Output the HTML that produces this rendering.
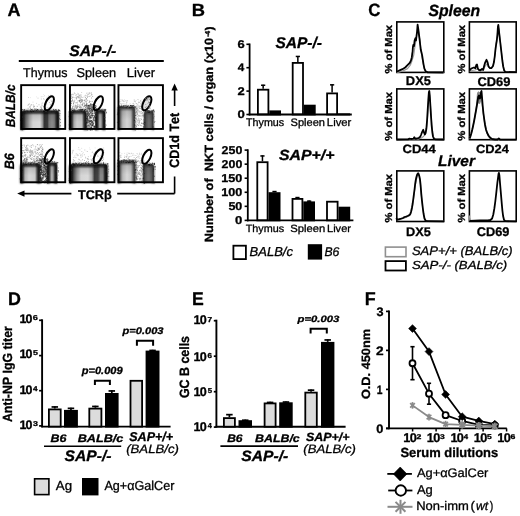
<!DOCTYPE html>
<html><head><meta charset="utf-8"><style>
html,body{margin:0;padding:0;background:#fff;}
svg{display:block;filter:blur(0.35px);font-family:"Liberation Sans",sans-serif;font-kerning:none;text-rendering:geometricPrecision;}
text{font-kerning:none;}
</style></head><body>
<svg width="520" height="516" viewBox="0 0 520 516">
<rect width="520" height="516" fill="#fff"/>
<text id="t0" x="7.55" y="15.90" font-size="18.02" font-weight="bold" stroke="#000" stroke-width="0.3" stroke-linejoin="round"  fill="#000" textLength="13.02" lengthAdjust="spacingAndGlyphs">A</text>
<text id="t1" x="69.21" y="55.50" font-size="15.26" font-weight="bold" stroke="#000" stroke-width="0.3" stroke-linejoin="round" font-style="italic" fill="#000" textLength="47.04" lengthAdjust="spacingAndGlyphs">SAP-/-</text>
<line x1="18.8" y1="61" x2="163.8" y2="61" stroke="#000" stroke-width="2.1" stroke-linecap="butt"/>
<text id="t2" x="23.12" y="77.00" font-size="12.79"  stroke="#000" stroke-width="0.3" stroke-linejoin="round"  fill="#000" textLength="44.33" lengthAdjust="spacingAndGlyphs">Thymus</text>
<text id="t3" x="76.52" y="77.00" font-size="12.79"  stroke="#000" stroke-width="0.3" stroke-linejoin="round"  fill="#000" textLength="39.71" lengthAdjust="spacingAndGlyphs">Spleen</text>
<text id="t4" x="126.73" y="77.00" font-size="12.79"  stroke="#000" stroke-width="0.3" stroke-linejoin="round"  fill="#000" textLength="28.39" lengthAdjust="spacingAndGlyphs">Liver</text>
<text id="t5" transform="translate(14.50,127.10) rotate(-90)" x="-0.21" y="0" font-size="13.37" font-weight="bold" stroke="#000" stroke-width="0.3" stroke-linejoin="round" font-style="italic" fill="#000" textLength="42.78" lengthAdjust="spacingAndGlyphs">BALB/c</text>
<text id="t6" transform="translate(14.40,169.10) rotate(-90)" x="-0.22" y="0" font-size="13.52" font-weight="bold" stroke="#000" stroke-width="0.3" stroke-linejoin="round" font-style="italic" fill="#000" textLength="16.05" lengthAdjust="spacingAndGlyphs">B6</text>
<text id="t7" x="77.96" y="198.50" font-size="12.65" font-weight="bold" stroke="#000" stroke-width="0.3" stroke-linejoin="round"  fill="#000" textLength="33.67" lengthAdjust="spacingAndGlyphs">TCRβ</text>
<text id="t8" transform="translate(179.40,167.30) rotate(-90)" x="-0.51" y="0" font-size="13.52" font-weight="bold" stroke="#000" stroke-width="0.3" stroke-linejoin="round"  fill="#000" textLength="54.97" lengthAdjust="spacingAndGlyphs">CD1d Tet</text>
<line x1="71.4" y1="193.6" x2="22" y2="193.6" stroke="#000" stroke-width="1.6" stroke-linecap="butt"/>
<polygon points="17.2,193.6 24.5,190.4 24.5,196.8" fill="#000"/>
<line x1="117.2" y1="193.6" x2="174.6" y2="193.6" stroke="#000" stroke-width="1.6" stroke-linecap="butt"/>
<line x1="174.6" y1="193.6" x2="174.6" y2="176.5" stroke="#000" stroke-width="1.6" stroke-linecap="butt"/>
<line x1="174.6" y1="106" x2="174.6" y2="88" stroke="#000" stroke-width="1.6" stroke-linecap="butt"/>
<polygon points="174.6,83.5 171.4,90.5 177.8,90.5" fill="#000"/>
<defs>
<filter id="blur06" x="-20%" y="-20%" width="140%" height="140%"><feGaussianBlur stdDeviation="0.6"/></filter>
<filter id="blur04" x="-20%" y="-20%" width="140%" height="140%"><feGaussianBlur stdDeviation="0.4"/></filter>
<filter id="blur08" x="-20%" y="-20%" width="140%" height="140%"><feGaussianBlur stdDeviation="0.8"/></filter>
<filter id="blur1" x="-20%" y="-20%" width="140%" height="140%"><feGaussianBlur stdDeviation="1"/></filter>
<linearGradient id="vtop" x1="0" x2="0" y1="0" y2="1"><stop offset="0" stop-color="#000" stop-opacity="0.45"/><stop offset="0.22" stop-color="#000" stop-opacity="0.12"/><stop offset="0.6" stop-color="#000" stop-opacity="0"/><stop offset="0.92" stop-color="#000" stop-opacity="0.0"/><stop offset="1" stop-color="#000" stop-opacity="0.25"/></linearGradient>
</defs>
<rect x="20.20" y="84.20" width="46.00" height="45.70" fill="#fff" stroke="none"/>
<rect x="35.1" y="109.5" width="0.8" height="0.8" fill="#949494" opacity="0.9"/>
<rect x="28.8" y="103.4" width="0.8" height="0.8" fill="#a1a1a1" opacity="0.9"/>
<rect x="28.4" y="104.0" width="0.8" height="0.8" fill="#8e8e8e" opacity="0.9"/>
<rect x="37.8" y="110.5" width="0.8" height="0.8" fill="#747474" opacity="0.9"/>
<rect x="37.6" y="97.7" width="0.8" height="0.8" fill="#aeaeae" opacity="0.9"/>
<rect x="32.6" y="101.7" width="0.8" height="0.8" fill="#c6c6c6" opacity="0.9"/>
<rect x="41.4" y="105.9" width="0.8" height="0.8" fill="#b5b5b5" opacity="0.9"/>
<rect x="28.2" y="97.1" width="0.8" height="0.8" fill="#b9b9b9" opacity="0.9"/>
<rect x="30.6" y="109.9" width="0.8" height="0.8" fill="#828282" opacity="0.9"/>
<rect x="47.4" y="109.2" width="0.8" height="0.8" fill="#939393" opacity="0.9"/>
<rect x="43.0" y="106.3" width="0.8" height="0.8" fill="#9e9e9e" opacity="0.9"/>
<rect x="28.6" y="110.6" width="0.8" height="0.8" fill="#7a7a7a" opacity="0.9"/>
<rect x="44.0" y="105.4" width="0.8" height="0.8" fill="#969696" opacity="0.9"/>
<rect x="41.6" y="104.9" width="0.8" height="0.8" fill="#979797" opacity="0.9"/>
<rect x="46.9" y="100.3" width="0.8" height="0.8" fill="#a9a9a9" opacity="0.9"/>
<rect x="41.4" y="103.6" width="0.8" height="0.8" fill="#bababa" opacity="0.9"/>
<rect x="45.2" y="107.6" width="0.8" height="0.8" fill="#adadad" opacity="0.9"/>
<rect x="30.0" y="105.5" width="0.8" height="0.8" fill="#ababab" opacity="0.9"/>
<rect x="30.8" y="104.3" width="0.8" height="0.8" fill="#8d8d8d" opacity="0.9"/>
<rect x="43.7" y="99.0" width="0.8" height="0.8" fill="#bfbfbf" opacity="0.9"/>
<rect x="48.9" y="107.2" width="0.8" height="0.8" fill="#a1a1a1" opacity="0.9"/>
<rect x="41.9" y="102.6" width="0.8" height="0.8" fill="#a9a9a9" opacity="0.9"/>
<rect x="48.0" y="95.2" width="0.8" height="0.8" fill="#cbcbcb" opacity="0.9"/>
<rect x="43.6" y="110.6" width="0.8" height="0.8" fill="#939393" opacity="0.9"/>
<rect x="43.2" y="94.2" width="0.8" height="0.8" fill="#e1e1e1" opacity="0.9"/>
<rect x="34.1" y="106.1" width="0.8" height="0.8" fill="#a5a5a5" opacity="0.9"/>
<rect x="27.6" y="104.8" width="0.8" height="0.8" fill="#919191" opacity="0.9"/>
<rect x="29.9" y="110.6" width="0.8" height="0.8" fill="#969696" opacity="0.9"/>
<rect x="30.2" y="108.2" width="0.8" height="0.8" fill="#8d8d8d" opacity="0.9"/>
<rect x="48.8" y="110.4" width="0.8" height="0.8" fill="#878787" opacity="0.9"/>
<rect x="40.7" y="96.5" width="0.8" height="0.8" fill="#d6d6d6" opacity="0.9"/>
<rect x="48.6" y="107.8" width="0.8" height="0.8" fill="#909090" opacity="0.9"/>
<rect x="36.0" y="96.5" width="0.8" height="0.8" fill="#dddddd" opacity="0.9"/>
<rect x="30.8" y="109.2" width="0.8" height="0.8" fill="#818181" opacity="0.9"/>
<rect x="32.8" y="104.4" width="0.8" height="0.8" fill="#a8a8a8" opacity="0.9"/>
<rect x="33.6" y="111.0" width="0.8" height="0.8" fill="#838383" opacity="0.9"/>
<rect x="36.2" y="102.9" width="0.8" height="0.8" fill="#c1c1c1" opacity="0.9"/>
<rect x="44.3" y="103.8" width="0.8" height="0.8" fill="#acacac" opacity="0.9"/>
<rect x="43.9" y="110.6" width="0.8" height="0.8" fill="#9c9c9c" opacity="0.9"/>
<rect x="46.5" y="96.7" width="0.8" height="0.8" fill="#d4d4d4" opacity="0.9"/>
<rect x="36.8" y="105.9" width="0.8" height="0.8" fill="#898989" opacity="0.9"/>
<rect x="42.9" y="110.5" width="0.8" height="0.8" fill="#737373" opacity="0.9"/>
<rect x="32.2" y="109.4" width="0.8" height="0.8" fill="#868686" opacity="0.9"/>
<rect x="28.3" y="111.0" width="0.8" height="0.8" fill="#757575" opacity="0.9"/>
<rect x="29.5" y="106.4" width="0.8" height="0.8" fill="#838383" opacity="0.9"/>
<rect x="48.9" y="102.0" width="0.8" height="0.8" fill="#9d9d9d" opacity="0.9"/>
<rect x="33.3" y="106.7" width="0.8" height="0.8" fill="#939393" opacity="0.9"/>
<rect x="30.1" y="97.3" width="0.8" height="0.8" fill="#dcdcdc" opacity="0.9"/>
<rect x="38.6" y="104.4" width="0.8" height="0.8" fill="#8f8f8f" opacity="0.9"/>
<rect x="29.6" y="106.8" width="0.8" height="0.8" fill="#8d8d8d" opacity="0.9"/>
<rect x="47.7" y="109.4" width="0.8" height="0.8" fill="#767676" opacity="0.9"/>
<rect x="50.8" y="103.6" width="0.8" height="0.8" fill="#969696" opacity="0.9"/>
<rect x="40.6" y="110.8" width="0.8" height="0.8" fill="#898989" opacity="0.9"/>
<rect x="51.5" y="97.0" width="0.8" height="0.8" fill="#cecece" opacity="0.9"/>
<rect x="33.5" y="106.4" width="0.8" height="0.8" fill="#8a8a8a" opacity="0.9"/>
<rect x="46.3" y="103.5" width="0.8" height="0.8" fill="#b6b6b6" opacity="0.9"/>
<rect x="35.2" y="108.6" width="0.8" height="0.8" fill="#a1a1a1" opacity="0.9"/>
<rect x="51.6" y="97.2" width="0.8" height="0.8" fill="#d3d3d3" opacity="0.9"/>
<rect x="47.5" y="99.5" width="0.8" height="0.8" fill="#acacac" opacity="0.9"/>
<rect x="39.9" y="106.6" width="0.8" height="0.8" fill="#838383" opacity="0.9"/>
<rect x="27.7" y="107.8" width="0.8" height="0.8" fill="#898989" opacity="0.9"/>
<rect x="44.3" y="95.0" width="0.8" height="0.8" fill="#cbcbcb" opacity="0.9"/>
<rect x="50.4" y="94.3" width="0.8" height="0.8" fill="#e7e7e7" opacity="0.9"/>
<rect x="36.1" y="108.6" width="0.8" height="0.8" fill="#838383" opacity="0.9"/>
<rect x="31.9" y="108.8" width="0.8" height="0.8" fill="#969696" opacity="0.9"/>
<rect x="49.5" y="97.4" width="0.8" height="0.8" fill="#c1c1c1" opacity="0.9"/>
<rect x="43.3" y="98.3" width="0.8" height="0.8" fill="#aaaaaa" opacity="0.9"/>
<rect x="43.5" y="96.0" width="0.8" height="0.8" fill="#d7d7d7" opacity="0.9"/>
<rect x="45.8" y="104.5" width="0.8" height="0.8" fill="#939393" opacity="0.9"/>
<rect x="46.7" y="106.9" width="0.8" height="0.8" fill="#a7a7a7" opacity="0.9"/>
<rect x="51.3" y="105.9" width="0.8" height="0.8" fill="#989898" opacity="0.9"/>
<rect x="50.7" y="99.8" width="0.8" height="0.8" fill="#a7a7a7" opacity="0.9"/>
<rect x="30.2" y="109.5" width="0.8" height="0.8" fill="#a1a1a1" opacity="0.9"/>
<rect x="47.2" y="109.6" width="0.8" height="0.8" fill="#9d9d9d" opacity="0.9"/>
<rect x="51.5" y="101.1" width="0.8" height="0.8" fill="#aaaaaa" opacity="0.9"/>
<rect x="40.7" y="109.8" width="0.8" height="0.8" fill="#747474" opacity="0.9"/>
<rect x="51.3" y="101.3" width="0.8" height="0.8" fill="#b3b3b3" opacity="0.9"/>
<rect x="50.3" y="105.3" width="0.8" height="0.8" fill="#b2b2b2" opacity="0.9"/>
<rect x="47.7" y="108.8" width="0.8" height="0.8" fill="#848484" opacity="0.9"/>
<rect x="34.3" y="108.3" width="0.8" height="0.8" fill="#979797" opacity="0.9"/>
<rect x="33.5" y="105.5" width="0.8" height="0.8" fill="#8c8c8c" opacity="0.9"/>
<rect x="49.8" y="106.6" width="0.8" height="0.8" fill="#989898" opacity="0.9"/>
<rect x="41.6" y="96.1" width="0.8" height="0.8" fill="#c4c4c4" opacity="0.9"/>
<rect x="49.9" y="104.1" width="0.8" height="0.8" fill="#a7a7a7" opacity="0.9"/>
<rect x="40.1" y="110.9" width="0.8" height="0.8" fill="#848484" opacity="0.9"/>
<rect x="31.6" y="111.0" width="0.8" height="0.8" fill="#969696" opacity="0.9"/>
<rect x="31.3" y="104.6" width="0.8" height="0.8" fill="#aeaeae" opacity="0.9"/>
<rect x="40.9" y="107.0" width="0.8" height="0.8" fill="#999999" opacity="0.9"/>
<rect x="40.9" y="98.6" width="0.8" height="0.8" fill="#a9a9a9" opacity="0.9"/>
<rect x="41.0" y="108.2" width="0.8" height="0.8" fill="#888888" opacity="0.9"/>
<defs><linearGradient id="g1" x1="21.2" x2="58.8" y1="0" y2="0" gradientUnits="userSpaceOnUse"><stop offset="0.000" stop-color="#111"/><stop offset="0.048" stop-color="#333"/><stop offset="0.128" stop-color="#666"/><stop offset="0.234" stop-color="#b0b0b0"/><stop offset="0.314" stop-color="#d5d5d5"/><stop offset="0.500" stop-color="#dadada"/><stop offset="0.566" stop-color="#999"/><stop offset="0.614" stop-color="#333"/><stop offset="0.699" stop-color="#3a3a3a"/><stop offset="0.739" stop-color="#777"/><stop offset="0.819" stop-color="#8a8a8a"/><stop offset="0.899" stop-color="#777"/><stop offset="0.952" stop-color="#333"/><stop offset="1.000" stop-color="#111"/></linearGradient></defs>
<path d="M21.2,129.9 L21.2,113.7 Q21.2,110.7 24.2,110.7 L55.8,110.7 Q58.8,110.7 58.8,113.7 L58.8,129.9 Z" fill="url(#g1)" filter="url(#blur04)"/>
<path d="M21.2,129.9 L21.2,113.7 Q21.2,110.7 24.2,110.7 L55.8,110.7 Q58.8,110.7 58.8,113.7 L58.8,129.9 Z" fill="url(#vtop)"/>
<path d="M22.3,129.9 L22.3,113.7 Q22.3,111.8 24.2,111.8 L55.8,111.8 Q57.699999999999996,111.8 57.699999999999996,113.7 L57.699999999999996,129.9" fill="none" stroke="#111" stroke-width="2.8" filter="url(#blur08)"/>
<rect x="50.6" y="110.3" width="0.9" height="0.9" fill="#474747" opacity="0.8"/>
<rect x="21.7" y="111.4" width="0.9" height="0.9" fill="#080808" opacity="0.8"/>
<rect x="37.8" y="110.6" width="0.9" height="0.9" fill="#404040" opacity="0.8"/>
<rect x="44.1" y="109.5" width="0.9" height="0.9" fill="#232323" opacity="0.8"/>
<rect x="38.2" y="110.4" width="0.9" height="0.9" fill="#3d3d3d" opacity="0.8"/>
<rect x="40.3" y="109.6" width="0.9" height="0.9" fill="#424242" opacity="0.8"/>
<rect x="54.6" y="111.5" width="0.9" height="0.9" fill="#212121" opacity="0.8"/>
<rect x="56.4" y="111.4" width="0.9" height="0.9" fill="#191919" opacity="0.8"/>
<rect x="53.2" y="109.3" width="0.9" height="0.9" fill="#0f0f0f" opacity="0.8"/>
<rect x="35.8" y="109.8" width="0.9" height="0.9" fill="#1e1e1e" opacity="0.8"/>
<rect x="37.2" y="109.5" width="0.9" height="0.9" fill="#262626" opacity="0.8"/>
<rect x="51.0" y="111.4" width="0.9" height="0.9" fill="#131313" opacity="0.8"/>
<rect x="57.1" y="110.7" width="0.9" height="0.9" fill="#2e2e2e" opacity="0.8"/>
<rect x="26.1" y="111.4" width="0.9" height="0.9" fill="#3b3b3b" opacity="0.8"/>
<rect x="29.1" y="111.6" width="0.9" height="0.9" fill="#323232" opacity="0.8"/>
<rect x="54.9" y="109.4" width="0.9" height="0.9" fill="#1c1c1c" opacity="0.8"/>
<rect x="26.9" y="110.1" width="0.9" height="0.9" fill="#414141" opacity="0.8"/>
<rect x="36.3" y="110.1" width="0.9" height="0.9" fill="#2d2d2d" opacity="0.8"/>
<rect x="33.0" y="110.9" width="0.9" height="0.9" fill="#020202" opacity="0.8"/>
<rect x="33.7" y="110.2" width="0.9" height="0.9" fill="#020202" opacity="0.8"/>
<rect x="35.5" y="110.3" width="0.9" height="0.9" fill="#252525" opacity="0.8"/>
<rect x="40.5" y="109.1" width="0.9" height="0.9" fill="#1d1d1d" opacity="0.8"/>
<rect x="58.3" y="109.2" width="0.9" height="0.9" fill="#212121" opacity="0.8"/>
<rect x="31.2" y="111.4" width="0.9" height="0.9" fill="#171717" opacity="0.8"/>
<rect x="31.1" y="109.3" width="0.9" height="0.9" fill="#363636" opacity="0.8"/>
<rect x="53.6" y="110.8" width="0.9" height="0.9" fill="#212121" opacity="0.8"/>
<rect x="36.4" y="110.4" width="0.9" height="0.9" fill="#414141" opacity="0.8"/>
<rect x="42.7" y="110.9" width="0.9" height="0.9" fill="#0b0b0b" opacity="0.8"/>
<rect x="31.4" y="111.1" width="0.9" height="0.9" fill="#171717" opacity="0.8"/>
<rect x="37.1" y="109.1" width="0.9" height="0.9" fill="#020202" opacity="0.8"/>
<rect x="45.2" y="111.1" width="0.9" height="0.9" fill="#0a0a0a" opacity="0.8"/>
<rect x="44.2" y="109.5" width="0.9" height="0.9" fill="#212121" opacity="0.8"/>
<rect x="54.1" y="110.2" width="0.9" height="0.9" fill="#2b2b2b" opacity="0.8"/>
<rect x="59.2" y="110.1" width="0.9" height="0.9" fill="#222222" opacity="0.8"/>
<rect x="44.7" y="109.0" width="0.9" height="0.9" fill="#1e1e1e" opacity="0.8"/>
<rect x="57.0" y="111.6" width="0.9" height="0.9" fill="#212121" opacity="0.8"/>
<rect x="22.6" y="109.5" width="0.9" height="0.9" fill="#272727" opacity="0.8"/>
<rect x="45.0" y="110.4" width="0.9" height="0.9" fill="#1a1a1a" opacity="0.8"/>
<rect x="31.9" y="110.3" width="0.9" height="0.9" fill="#161616" opacity="0.8"/>
<rect x="31.1" y="111.2" width="0.9" height="0.9" fill="#202020" opacity="0.8"/>
<rect x="22.0" y="109.0" width="0.9" height="0.9" fill="#404040" opacity="0.8"/>
<rect x="42.0" y="109.4" width="0.9" height="0.9" fill="#3c3c3c" opacity="0.8"/>
<rect x="30.1" y="110.2" width="0.9" height="0.9" fill="#373737" opacity="0.8"/>
<rect x="46.1" y="110.4" width="0.9" height="0.9" fill="#323232" opacity="0.8"/>
<rect x="58.2" y="109.8" width="0.9" height="0.9" fill="#1b1b1b" opacity="0.8"/>
<rect x="58.7" y="109.9" width="0.9" height="0.9" fill="#111111" opacity="0.8"/>
<rect x="36.3" y="109.9" width="0.9" height="0.9" fill="#060606" opacity="0.8"/>
<rect x="53.1" y="108.9" width="0.9" height="0.9" fill="#505050" opacity="0.8"/>
<rect x="49.3" y="109.6" width="0.9" height="0.9" fill="#141414" opacity="0.8"/>
<rect x="22.7" y="110.8" width="0.9" height="0.9" fill="#303030" opacity="0.8"/>
<rect x="54.4" y="110.8" width="0.9" height="0.9" fill="#242424" opacity="0.8"/>
<rect x="43.8" y="110.8" width="0.9" height="0.9" fill="#050505" opacity="0.8"/>
<rect x="38.4" y="109.3" width="0.9" height="0.9" fill="#393939" opacity="0.8"/>
<rect x="20.7" y="109.9" width="0.9" height="0.9" fill="#2a2a2a" opacity="0.8"/>
<rect x="58.3" y="110.4" width="0.9" height="0.9" fill="#1f1f1f" opacity="0.8"/>
<rect x="21.9" y="111.4" width="0.9" height="0.9" fill="#1b1b1b" opacity="0.8"/>
<rect x="34.4" y="108.9" width="0.9" height="0.9" fill="#303030" opacity="0.8"/>
<rect x="23.9" y="109.7" width="0.9" height="0.9" fill="#191919" opacity="0.8"/>
<rect x="30.2" y="111.1" width="0.9" height="0.9" fill="#0b0b0b" opacity="0.8"/>
<rect x="30.8" y="109.2" width="0.9" height="0.9" fill="#333333" opacity="0.8"/>
<rect x="43.4" y="110.0" width="0.9" height="0.9" fill="#262626" opacity="0.8"/>
<rect x="32.4" y="109.6" width="0.9" height="0.9" fill="#4a4a4a" opacity="0.8"/>
<rect x="57.8" y="111.3" width="0.9" height="0.9" fill="#131313" opacity="0.8"/>
<rect x="46.1" y="110.9" width="0.9" height="0.9" fill="#4c4c4c" opacity="0.8"/>
<rect x="35.7" y="109.8" width="0.9" height="0.9" fill="#3f3f3f" opacity="0.8"/>
<rect x="26.4" y="110.9" width="0.9" height="0.9" fill="#121212" opacity="0.8"/>
<rect x="22.3" y="111.2" width="0.9" height="0.9" fill="#414141" opacity="0.8"/>
<rect x="44.9" y="111.0" width="0.9" height="0.9" fill="#404040" opacity="0.8"/>
<rect x="26.0" y="110.4" width="0.9" height="0.9" fill="#404040" opacity="0.8"/>
<rect x="42.7" y="111.2" width="0.9" height="0.9" fill="#020202" opacity="0.8"/>
<rect x="52.7" y="110.5" width="0.9" height="0.9" fill="#1d1d1d" opacity="0.8"/>
<rect x="23.9" y="109.0" width="0.9" height="0.9" fill="#2e2e2e" opacity="0.8"/>
<rect x="57.8" y="110.0" width="0.9" height="0.9" fill="#393939" opacity="0.8"/>
<rect x="42.3" y="110.7" width="0.9" height="0.9" fill="#505050" opacity="0.8"/>
<rect x="41.2" y="109.6" width="0.9" height="0.9" fill="#212121" opacity="0.8"/>
<rect x="20.7" y="111.1" width="0.9" height="0.9" fill="#404040" opacity="0.8"/>
<rect x="55.4" y="109.2" width="0.9" height="0.9" fill="#434343" opacity="0.8"/>
<rect x="23.2" y="111.0" width="0.9" height="0.9" fill="#202020" opacity="0.8"/>
<rect x="52.0" y="111.3" width="0.9" height="0.9" fill="#1e1e1e" opacity="0.8"/>
<rect x="48.9" y="109.5" width="0.9" height="0.9" fill="#3a3a3a" opacity="0.8"/>
<rect x="39.8" y="110.0" width="0.9" height="0.9" fill="#3d3d3d" opacity="0.8"/>
<rect x="55.9" y="109.7" width="0.9" height="0.9" fill="#050505" opacity="0.8"/>
<rect x="21.5" y="123.0" width="0.8" height="0.8" fill="#090909" opacity="0.7"/>
<rect x="21.4" y="117.1" width="0.8" height="0.8" fill="#535353" opacity="0.7"/>
<rect x="21.8" y="116.5" width="0.8" height="0.8" fill="#484848" opacity="0.7"/>
<rect x="20.3" y="120.0" width="0.8" height="0.8" fill="#3e3e3e" opacity="0.7"/>
<rect x="20.6" y="123.6" width="0.8" height="0.8" fill="#585858" opacity="0.7"/>
<rect x="20.5" y="120.1" width="0.8" height="0.8" fill="#5a5a5a" opacity="0.7"/>
<rect x="21.2" y="119.6" width="0.8" height="0.8" fill="#3b3b3b" opacity="0.7"/>
<rect x="21.8" y="129.8" width="0.8" height="0.8" fill="#464646" opacity="0.7"/>
<rect x="20.5" y="129.5" width="0.8" height="0.8" fill="#3c3c3c" opacity="0.7"/>
<rect x="20.0" y="119.5" width="0.8" height="0.8" fill="#404040" opacity="0.7"/>
<rect x="22.3" y="119.3" width="0.8" height="0.8" fill="#222222" opacity="0.7"/>
<rect x="20.9" y="128.3" width="0.8" height="0.8" fill="#1a1a1a" opacity="0.7"/>
<rect x="20.2" y="112.4" width="0.8" height="0.8" fill="#434343" opacity="0.7"/>
<rect x="20.6" y="117.6" width="0.8" height="0.8" fill="#4d4d4d" opacity="0.7"/>
<rect x="22.0" y="120.5" width="0.8" height="0.8" fill="#0e0e0e" opacity="0.7"/>
<rect x="59.3" y="115.1" width="0.8" height="0.8" fill="#3e3e3e" opacity="0.7"/>
<rect x="58.5" y="113.8" width="0.8" height="0.8" fill="#3e3e3e" opacity="0.7"/>
<rect x="59.2" y="118.5" width="0.8" height="0.8" fill="#121212" opacity="0.7"/>
<rect x="58.6" y="117.9" width="0.8" height="0.8" fill="#0f0f0f" opacity="0.7"/>
<rect x="59.6" y="110.7" width="0.8" height="0.8" fill="#2b2b2b" opacity="0.7"/>
<rect x="59.6" y="113.0" width="0.8" height="0.8" fill="#191919" opacity="0.7"/>
<rect x="59.3" y="128.0" width="0.8" height="0.8" fill="#252525" opacity="0.7"/>
<rect x="58.2" y="111.9" width="0.8" height="0.8" fill="#313131" opacity="0.7"/>
<rect x="60.0" y="122.0" width="0.8" height="0.8" fill="#2e2e2e" opacity="0.7"/>
<rect x="59.8" y="125.2" width="0.8" height="0.8" fill="#060606" opacity="0.7"/>
<rect x="58.3" y="111.7" width="0.8" height="0.8" fill="#545454" opacity="0.7"/>
<rect x="58.3" y="128.7" width="0.8" height="0.8" fill="#1f1f1f" opacity="0.7"/>
<rect x="59.9" y="119.1" width="0.8" height="0.8" fill="#282828" opacity="0.7"/>
<rect x="58.1" y="117.9" width="0.8" height="0.8" fill="#363636" opacity="0.7"/>
<rect x="59.7" y="126.3" width="0.8" height="0.8" fill="#505050" opacity="0.7"/>
<ellipse cx="49.3" cy="103.3" rx="3.6" ry="7.6" transform="rotate(26 49.3 103.3)" fill="none" stroke="#000" stroke-width="2.0"/>
<rect x="21.15" y="85.15" width="44.10" height="43.80" fill="none" stroke="#000" stroke-width="1.9"/>
<rect x="69.00" y="84.20" width="46.40" height="45.70" fill="#fff" stroke="none"/>
<rect x="79.2" y="94.9" width="0.8" height="0.8" fill="#a4a4a4" opacity="0.9"/>
<rect x="74.7" y="110.6" width="0.8" height="0.8" fill="#6c6c6c" opacity="0.9"/>
<rect x="79.5" y="100.6" width="0.8" height="0.8" fill="#6a6a6a" opacity="0.9"/>
<rect x="90.0" y="103.3" width="0.8" height="0.8" fill="#909090" opacity="0.9"/>
<rect x="82.7" y="109.2" width="0.8" height="0.8" fill="#505050" opacity="0.9"/>
<rect x="76.5" y="107.7" width="0.8" height="0.8" fill="#6e6e6e" opacity="0.9"/>
<rect x="85.0" y="104.9" width="0.8" height="0.8" fill="#5a5a5a" opacity="0.9"/>
<rect x="81.1" y="99.5" width="0.8" height="0.8" fill="#6f6f6f" opacity="0.9"/>
<rect x="84.8" y="110.6" width="0.8" height="0.8" fill="#4e4e4e" opacity="0.9"/>
<rect x="88.7" y="102.0" width="0.8" height="0.8" fill="#787878" opacity="0.9"/>
<rect x="77.7" y="97.5" width="0.8" height="0.8" fill="#8e8e8e" opacity="0.9"/>
<rect x="82.6" y="107.9" width="0.8" height="0.8" fill="#464646" opacity="0.9"/>
<rect x="82.8" y="106.5" width="0.8" height="0.8" fill="#5a5a5a" opacity="0.9"/>
<rect x="88.6" y="108.6" width="0.8" height="0.8" fill="#383838" opacity="0.9"/>
<rect x="90.0" y="105.3" width="0.8" height="0.8" fill="#7a7a7a" opacity="0.9"/>
<rect x="74.8" y="107.4" width="0.8" height="0.8" fill="#707070" opacity="0.9"/>
<rect x="81.5" y="101.5" width="0.8" height="0.8" fill="#747474" opacity="0.9"/>
<rect x="85.8" y="102.4" width="0.8" height="0.8" fill="#8d8d8d" opacity="0.9"/>
<rect x="89.5" y="110.4" width="0.8" height="0.8" fill="#6a6a6a" opacity="0.9"/>
<rect x="78.8" y="100.0" width="0.8" height="0.8" fill="#818181" opacity="0.9"/>
<rect x="77.2" y="96.3" width="0.8" height="0.8" fill="#b9b9b9" opacity="0.9"/>
<rect x="72.9" y="104.5" width="0.8" height="0.8" fill="#808080" opacity="0.9"/>
<rect x="88.5" y="92.7" width="0.8" height="0.8" fill="#ababab" opacity="0.9"/>
<rect x="71.7" y="93.6" width="0.8" height="0.8" fill="#c4c4c4" opacity="0.9"/>
<rect x="82.1" y="103.7" width="0.8" height="0.8" fill="#6f6f6f" opacity="0.9"/>
<rect x="88.0" y="108.3" width="0.8" height="0.8" fill="#434343" opacity="0.9"/>
<rect x="92.4" y="110.1" width="0.8" height="0.8" fill="#676767" opacity="0.9"/>
<rect x="86.1" y="95.5" width="0.8" height="0.8" fill="#b8b8b8" opacity="0.9"/>
<rect x="72.0" y="97.1" width="0.8" height="0.8" fill="#737373" opacity="0.9"/>
<rect x="72.9" y="101.6" width="0.8" height="0.8" fill="#5e5e5e" opacity="0.9"/>
<rect x="86.4" y="92.9" width="0.8" height="0.8" fill="#b4b4b4" opacity="0.9"/>
<rect x="82.1" y="104.3" width="0.8" height="0.8" fill="#818181" opacity="0.9"/>
<rect x="72.3" y="106.9" width="0.8" height="0.8" fill="#808080" opacity="0.9"/>
<rect x="74.4" y="107.6" width="0.8" height="0.8" fill="#727272" opacity="0.9"/>
<rect x="70.0" y="102.2" width="0.8" height="0.8" fill="#9c9c9c" opacity="0.9"/>
<rect x="76.4" y="106.6" width="0.8" height="0.8" fill="#7a7a7a" opacity="0.9"/>
<rect x="75.6" y="102.5" width="0.8" height="0.8" fill="#7c7c7c" opacity="0.9"/>
<rect x="70.7" y="104.8" width="0.8" height="0.8" fill="#777777" opacity="0.9"/>
<rect x="71.3" y="108.8" width="0.8" height="0.8" fill="#727272" opacity="0.9"/>
<rect x="84.9" y="110.5" width="0.8" height="0.8" fill="#3c3c3c" opacity="0.9"/>
<rect x="79.8" y="105.6" width="0.8" height="0.8" fill="#686868" opacity="0.9"/>
<rect x="86.0" y="98.4" width="0.8" height="0.8" fill="#858585" opacity="0.9"/>
<rect x="79.1" y="111.5" width="0.8" height="0.8" fill="#3c3c3c" opacity="0.9"/>
<rect x="89.4" y="110.7" width="0.8" height="0.8" fill="#4d4d4d" opacity="0.9"/>
<rect x="74.6" y="97.3" width="0.8" height="0.8" fill="#7f7f7f" opacity="0.9"/>
<rect x="80.7" y="107.5" width="0.8" height="0.8" fill="#797979" opacity="0.9"/>
<rect x="72.5" y="100.4" width="0.8" height="0.8" fill="#8b8b8b" opacity="0.9"/>
<rect x="90.6" y="103.3" width="0.8" height="0.8" fill="#909090" opacity="0.9"/>
<rect x="71.3" y="101.0" width="0.8" height="0.8" fill="#9d9d9d" opacity="0.9"/>
<rect x="71.3" y="111.3" width="0.8" height="0.8" fill="#515151" opacity="0.9"/>
<rect x="79.6" y="98.6" width="0.8" height="0.8" fill="#787878" opacity="0.9"/>
<rect x="80.3" y="98.5" width="0.8" height="0.8" fill="#818181" opacity="0.9"/>
<rect x="72.6" y="110.6" width="0.8" height="0.8" fill="#383838" opacity="0.9"/>
<rect x="74.4" y="99.8" width="0.8" height="0.8" fill="#888888" opacity="0.9"/>
<rect x="80.8" y="106.7" width="0.8" height="0.8" fill="#727272" opacity="0.9"/>
<rect x="89.3" y="92.4" width="0.8" height="0.8" fill="#aaaaaa" opacity="0.9"/>
<rect x="72.5" y="110.6" width="0.8" height="0.8" fill="#323232" opacity="0.9"/>
<rect x="79.7" y="94.7" width="0.8" height="0.8" fill="#a6a6a6" opacity="0.9"/>
<rect x="87.5" y="105.4" width="0.8" height="0.8" fill="#7c7c7c" opacity="0.9"/>
<rect x="77.1" y="96.5" width="0.8" height="0.8" fill="#7c7c7c" opacity="0.9"/>
<rect x="86.2" y="108.7" width="0.8" height="0.8" fill="#5b5b5b" opacity="0.9"/>
<rect x="80.3" y="106.5" width="0.8" height="0.8" fill="#747474" opacity="0.9"/>
<rect x="80.9" y="100.3" width="0.8" height="0.8" fill="#737373" opacity="0.9"/>
<rect x="84.4" y="104.9" width="0.8" height="0.8" fill="#636363" opacity="0.9"/>
<rect x="80.7" y="96.5" width="0.8" height="0.8" fill="#7a7a7a" opacity="0.9"/>
<rect x="74.5" y="110.8" width="0.8" height="0.8" fill="#545454" opacity="0.9"/>
<rect x="78.3" y="106.3" width="0.8" height="0.8" fill="#848484" opacity="0.9"/>
<rect x="71.0" y="97.8" width="0.8" height="0.8" fill="#9e9e9e" opacity="0.9"/>
<rect x="91.3" y="106.9" width="0.8" height="0.8" fill="#707070" opacity="0.9"/>
<rect x="83.7" y="96.5" width="0.8" height="0.8" fill="#b7b7b7" opacity="0.9"/>
<rect x="71.5" y="96.0" width="0.8" height="0.8" fill="#808080" opacity="0.9"/>
<rect x="86.5" y="103.7" width="0.8" height="0.8" fill="#858585" opacity="0.9"/>
<rect x="88.2" y="94.0" width="0.8" height="0.8" fill="#bababa" opacity="0.9"/>
<rect x="73.1" y="103.1" width="0.8" height="0.8" fill="#545454" opacity="0.9"/>
<rect x="91.4" y="106.8" width="0.8" height="0.8" fill="#6f6f6f" opacity="0.9"/>
<rect x="73.5" y="108.0" width="0.8" height="0.8" fill="#747474" opacity="0.9"/>
<rect x="80.6" y="96.9" width="0.8" height="0.8" fill="#9c9c9c" opacity="0.9"/>
<rect x="81.8" y="105.2" width="0.8" height="0.8" fill="#535353" opacity="0.9"/>
<rect x="79.4" y="99.9" width="0.8" height="0.8" fill="#858585" opacity="0.9"/>
<rect x="82.5" y="109.3" width="0.8" height="0.8" fill="#505050" opacity="0.9"/>
<rect x="72.4" y="110.7" width="0.8" height="0.8" fill="#565656" opacity="0.9"/>
<rect x="74.8" y="104.6" width="0.8" height="0.8" fill="#8f8f8f" opacity="0.9"/>
<rect x="92.4" y="109.1" width="0.8" height="0.8" fill="#3d3d3d" opacity="0.9"/>
<rect x="80.6" y="94.5" width="0.8" height="0.8" fill="#909090" opacity="0.9"/>
<rect x="82.4" y="97.2" width="0.8" height="0.8" fill="#a6a6a6" opacity="0.9"/>
<rect x="87.9" y="107.0" width="0.8" height="0.8" fill="#525252" opacity="0.9"/>
<rect x="76.2" y="107.7" width="0.8" height="0.8" fill="#4d4d4d" opacity="0.9"/>
<rect x="80.1" y="108.9" width="0.8" height="0.8" fill="#454545" opacity="0.9"/>
<rect x="76.5" y="94.1" width="0.8" height="0.8" fill="#8f8f8f" opacity="0.9"/>
<rect x="71.5" y="107.8" width="0.8" height="0.8" fill="#4c4c4c" opacity="0.9"/>
<rect x="82.1" y="99.9" width="0.8" height="0.8" fill="#6b6b6b" opacity="0.9"/>
<rect x="80.7" y="111.1" width="0.8" height="0.8" fill="#2a2a2a" opacity="0.9"/>
<rect x="90.3" y="108.1" width="0.8" height="0.8" fill="#585858" opacity="0.9"/>
<rect x="78.6" y="94.8" width="0.8" height="0.8" fill="#8e8e8e" opacity="0.9"/>
<rect x="71.2" y="100.9" width="0.8" height="0.8" fill="#979797" opacity="0.9"/>
<rect x="74.5" y="110.6" width="0.8" height="0.8" fill="#4f4f4f" opacity="0.9"/>
<rect x="74.1" y="100.9" width="0.8" height="0.8" fill="#949494" opacity="0.9"/>
<rect x="85.3" y="111.5" width="0.8" height="0.8" fill="#535353" opacity="0.9"/>
<rect x="86.3" y="106.0" width="0.8" height="0.8" fill="#474747" opacity="0.9"/>
<rect x="77.8" y="111.0" width="0.8" height="0.8" fill="#6e6e6e" opacity="0.9"/>
<rect x="70.9" y="98.1" width="0.8" height="0.8" fill="#acacac" opacity="0.9"/>
<rect x="88.7" y="96.2" width="0.8" height="0.8" fill="#949494" opacity="0.9"/>
<rect x="78.6" y="100.5" width="0.8" height="0.8" fill="#666666" opacity="0.9"/>
<rect x="70.7" y="103.1" width="0.8" height="0.8" fill="#747474" opacity="0.9"/>
<rect x="79.4" y="96.7" width="0.8" height="0.8" fill="#a2a2a2" opacity="0.9"/>
<rect x="73.6" y="102.3" width="0.8" height="0.8" fill="#848484" opacity="0.9"/>
<rect x="79.1" y="107.4" width="0.8" height="0.8" fill="#808080" opacity="0.9"/>
<rect x="85.4" y="104.7" width="0.8" height="0.8" fill="#4f4f4f" opacity="0.9"/>
<rect x="87.1" y="94.7" width="0.8" height="0.8" fill="#9c9c9c" opacity="0.9"/>
<rect x="70.4" y="97.3" width="0.8" height="0.8" fill="#a8a8a8" opacity="0.9"/>
<rect x="84.8" y="105.2" width="0.8" height="0.8" fill="#646464" opacity="0.9"/>
<rect x="91.7" y="104.3" width="0.8" height="0.8" fill="#585858" opacity="0.9"/>
<rect x="72.6" y="110.4" width="0.8" height="0.8" fill="#545454" opacity="0.9"/>
<rect x="78.4" y="97.2" width="0.8" height="0.8" fill="#7b7b7b" opacity="0.9"/>
<rect x="71.2" y="109.6" width="0.8" height="0.8" fill="#686868" opacity="0.9"/>
<rect x="79.1" y="101.5" width="0.8" height="0.8" fill="#9b9b9b" opacity="0.9"/>
<rect x="87.0" y="109.1" width="0.8" height="0.8" fill="#4b4b4b" opacity="0.9"/>
<rect x="73.7" y="109.1" width="0.8" height="0.8" fill="#383838" opacity="0.9"/>
<rect x="78.8" y="97.6" width="0.8" height="0.8" fill="#a6a6a6" opacity="0.9"/>
<rect x="88.5" y="106.9" width="0.8" height="0.8" fill="#797979" opacity="0.9"/>
<rect x="71.0" y="94.0" width="0.8" height="0.8" fill="#989898" opacity="0.9"/>
<rect x="84.0" y="100.2" width="0.8" height="0.8" fill="#696969" opacity="0.9"/>
<rect x="86.4" y="99.0" width="0.8" height="0.8" fill="#a5a5a5" opacity="0.9"/>
<rect x="84.7" y="95.3" width="0.8" height="0.8" fill="#a6a6a6" opacity="0.9"/>
<rect x="84.1" y="108.7" width="0.8" height="0.8" fill="#565656" opacity="0.9"/>
<rect x="83.0" y="111.1" width="0.8" height="0.8" fill="#6a6a6a" opacity="0.9"/>
<rect x="73.6" y="105.8" width="0.8" height="0.8" fill="#505050" opacity="0.9"/>
<rect x="92.3" y="96.2" width="0.8" height="0.8" fill="#848484" opacity="0.9"/>
<rect x="90.3" y="95.6" width="0.8" height="0.8" fill="#a8a8a8" opacity="0.9"/>
<rect x="85.4" y="106.5" width="0.8" height="0.8" fill="#5c5c5c" opacity="0.9"/>
<rect x="80.5" y="95.5" width="0.8" height="0.8" fill="#b0b0b0" opacity="0.9"/>
<rect x="84.9" y="106.8" width="0.8" height="0.8" fill="#515151" opacity="0.9"/>
<rect x="79.0" y="105.6" width="0.8" height="0.8" fill="#686868" opacity="0.9"/>
<rect x="74.1" y="111.5" width="0.8" height="0.8" fill="#6b6b6b" opacity="0.9"/>
<rect x="80.7" y="104.1" width="0.8" height="0.8" fill="#787878" opacity="0.9"/>
<rect x="88.8" y="95.8" width="0.8" height="0.8" fill="#b1b1b1" opacity="0.9"/>
<rect x="79.2" y="110.7" width="0.8" height="0.8" fill="#444444" opacity="0.9"/>
<rect x="78.4" y="96.5" width="0.8" height="0.8" fill="#989898" opacity="0.9"/>
<rect x="85.1" y="111.1" width="0.8" height="0.8" fill="#333333" opacity="0.9"/>
<rect x="91.2" y="106.6" width="0.8" height="0.8" fill="#727272" opacity="0.9"/>
<rect x="71.8" y="97.6" width="0.8" height="0.8" fill="#adadad" opacity="0.9"/>
<rect x="85.0" y="96.9" width="0.8" height="0.8" fill="#757575" opacity="0.9"/>
<rect x="71.5" y="100.6" width="0.8" height="0.8" fill="#8f8f8f" opacity="0.9"/>
<rect x="72.5" y="109.8" width="0.8" height="0.8" fill="#6d6d6d" opacity="0.9"/>
<rect x="76.6" y="96.3" width="0.8" height="0.8" fill="#adadad" opacity="0.9"/>
<rect x="85.8" y="98.3" width="0.8" height="0.8" fill="#7b7b7b" opacity="0.9"/>
<rect x="89.2" y="100.7" width="0.8" height="0.8" fill="#717171" opacity="0.9"/>
<rect x="77.4" y="100.6" width="0.8" height="0.8" fill="#9e9e9e" opacity="0.9"/>
<rect x="80.5" y="107.7" width="0.8" height="0.8" fill="#7d7d7d" opacity="0.9"/>
<rect x="81.0" y="101.1" width="0.8" height="0.8" fill="#888888" opacity="0.9"/>
<rect x="75.5" y="105.5" width="0.8" height="0.8" fill="#545454" opacity="0.9"/>
<rect x="79.3" y="100.2" width="0.8" height="0.8" fill="#767676" opacity="0.9"/>
<rect x="77.5" y="105.5" width="0.8" height="0.8" fill="#7d7d7d" opacity="0.9"/>
<rect x="76.1" y="97.3" width="0.8" height="0.8" fill="#757575" opacity="0.9"/>
<rect x="89.7" y="92.8" width="0.8" height="0.8" fill="#a8a8a8" opacity="0.9"/>
<rect x="82.0" y="99.0" width="0.8" height="0.8" fill="#a6a6a6" opacity="0.9"/>
<rect x="75.8" y="102.3" width="0.8" height="0.8" fill="#929292" opacity="0.9"/>
<rect x="87.0" y="105.6" width="0.8" height="0.8" fill="#606060" opacity="0.9"/>
<rect x="78.5" y="109.6" width="0.8" height="0.8" fill="#484848" opacity="0.9"/>
<rect x="71.9" y="108.2" width="0.8" height="0.8" fill="#636363" opacity="0.9"/>
<rect x="92.0" y="107.0" width="0.8" height="0.8" fill="#626262" opacity="0.9"/>
<rect x="77.1" y="92.8" width="0.8" height="0.8" fill="#c5c5c5" opacity="0.9"/>
<rect x="91.4" y="94.4" width="0.8" height="0.8" fill="#b3b3b3" opacity="0.9"/>
<rect x="87.2" y="108.3" width="0.8" height="0.8" fill="#4c4c4c" opacity="0.9"/>
<rect x="84.4" y="104.7" width="0.8" height="0.8" fill="#646464" opacity="0.9"/>
<rect x="71.1" y="103.2" width="0.8" height="0.8" fill="#7c7c7c" opacity="0.9"/>
<rect x="71.0" y="110.9" width="0.8" height="0.8" fill="#515151" opacity="0.9"/>
<rect x="77.0" y="102.5" width="0.8" height="0.8" fill="#7b7b7b" opacity="0.9"/>
<rect x="79.5" y="106.9" width="0.8" height="0.8" fill="#494949" opacity="0.9"/>
<rect x="78.4" y="95.9" width="0.8" height="0.8" fill="#848484" opacity="0.9"/>
<rect x="70.3" y="96.5" width="0.8" height="0.8" fill="#a6a6a6" opacity="0.9"/>
<rect x="80.4" y="110.8" width="0.8" height="0.8" fill="#353535" opacity="0.9"/>
<rect x="85.3" y="107.5" width="0.8" height="0.8" fill="#747474" opacity="0.9"/>
<rect x="92.2" y="110.9" width="0.8" height="0.8" fill="#636363" opacity="0.9"/>
<rect x="90.5" y="101.0" width="0.8" height="0.8" fill="#868686" opacity="0.9"/>
<rect x="83.8" y="102.7" width="0.8" height="0.8" fill="#777777" opacity="0.9"/>
<rect x="73.8" y="111.5" width="0.8" height="0.8" fill="#2c2c2c" opacity="0.9"/>
<rect x="70.6" y="108.9" width="0.8" height="0.8" fill="#404040" opacity="0.9"/>
<rect x="91.0" y="110.2" width="0.8" height="0.8" fill="#585858" opacity="0.9"/>
<rect x="85.1" y="108.7" width="0.8" height="0.8" fill="#525252" opacity="0.9"/>
<rect x="81.9" y="100.0" width="0.8" height="0.8" fill="#909090" opacity="0.9"/>
<rect x="79.6" y="100.7" width="0.8" height="0.8" fill="#838383" opacity="0.9"/>
<rect x="71.5" y="100.4" width="0.8" height="0.8" fill="#a5a5a5" opacity="0.9"/>
<rect x="86.7" y="103.5" width="0.8" height="0.8" fill="#767676" opacity="0.9"/>
<rect x="78.6" y="104.3" width="0.8" height="0.8" fill="#8b8b8b" opacity="0.9"/>
<rect x="71.9" y="99.8" width="0.8" height="0.8" fill="#717171" opacity="0.9"/>
<rect x="92.9" y="107.6" width="0.8" height="0.8" fill="#686868" opacity="0.9"/>
<rect x="72.8" y="94.5" width="0.8" height="0.8" fill="#bfbfbf" opacity="0.9"/>
<rect x="91.7" y="107.6" width="0.8" height="0.8" fill="#404040" opacity="0.9"/>
<rect x="84.6" y="99.2" width="0.8" height="0.8" fill="#969696" opacity="0.9"/>
<rect x="91.1" y="92.7" width="0.8" height="0.8" fill="#9e9e9e" opacity="0.9"/>
<rect x="91.4" y="94.4" width="0.8" height="0.8" fill="#868686" opacity="0.9"/>
<rect x="81.7" y="109.2" width="0.8" height="0.8" fill="#717171" opacity="0.9"/>
<rect x="89.4" y="108.6" width="0.8" height="0.8" fill="#414141" opacity="0.9"/>
<rect x="91.0" y="108.8" width="0.8" height="0.8" fill="#505050" opacity="0.9"/>
<rect x="83.8" y="105.4" width="0.8" height="0.8" fill="#818181" opacity="0.9"/>
<rect x="91.2" y="92.4" width="0.8" height="0.8" fill="#c4c4c4" opacity="0.9"/>
<rect x="82.3" y="103.6" width="0.8" height="0.8" fill="#757575" opacity="0.9"/>
<rect x="70.1" y="111.2" width="0.8" height="0.8" fill="#6a6a6a" opacity="0.9"/>
<rect x="75.4" y="94.7" width="0.8" height="0.8" fill="#b5b5b5" opacity="0.9"/>
<rect x="79.0" y="101.2" width="0.8" height="0.8" fill="#848484" opacity="0.9"/>
<rect x="73.9" y="111.2" width="0.8" height="0.8" fill="#313131" opacity="0.9"/>
<rect x="84.3" y="109.3" width="0.8" height="0.8" fill="#757575" opacity="0.9"/>
<rect x="86.1" y="111.2" width="0.8" height="0.8" fill="#323232" opacity="0.9"/>
<rect x="84.8" y="111.1" width="0.8" height="0.8" fill="#2e2e2e" opacity="0.9"/>
<rect x="71.1" y="95.3" width="0.8" height="0.8" fill="#b0b0b0" opacity="0.9"/>
<rect x="74.6" y="93.1" width="0.8" height="0.8" fill="#acacac" opacity="0.9"/>
<rect x="85.3" y="94.8" width="0.8" height="0.8" fill="#b2b2b2" opacity="0.9"/>
<rect x="86.4" y="105.3" width="0.8" height="0.8" fill="#595959" opacity="0.9"/>
<rect x="74.7" y="111.2" width="0.8" height="0.8" fill="#6a6a6a" opacity="0.9"/>
<rect x="91.0" y="97.6" width="0.8" height="0.8" fill="#767676" opacity="0.9"/>
<rect x="87.3" y="100.3" width="0.8" height="0.8" fill="#838383" opacity="0.9"/>
<rect x="73.1" y="96.8" width="0.8" height="0.8" fill="#a1a1a1" opacity="0.9"/>
<rect x="76.8" y="106.2" width="0.8" height="0.8" fill="#555555" opacity="0.9"/>
<rect x="78.1" y="93.6" width="0.8" height="0.8" fill="#888888" opacity="0.9"/>
<rect x="87.5" y="94.1" width="0.8" height="0.8" fill="#b7b7b7" opacity="0.9"/>
<rect x="83.8" y="103.5" width="0.8" height="0.8" fill="#656565" opacity="0.9"/>
<rect x="87.2" y="96.8" width="0.8" height="0.8" fill="#767676" opacity="0.9"/>
<rect x="81.9" y="110.3" width="0.8" height="0.8" fill="#4e4e4e" opacity="0.9"/>
<rect x="71.1" y="101.6" width="0.8" height="0.8" fill="#8c8c8c" opacity="0.9"/>
<rect x="89.0" y="101.5" width="0.8" height="0.8" fill="#6f6f6f" opacity="0.9"/>
<rect x="80.0" y="102.5" width="0.8" height="0.8" fill="#6a6a6a" opacity="0.9"/>
<rect x="87.3" y="110.9" width="0.8" height="0.8" fill="#424242" opacity="0.9"/>
<rect x="72.2" y="98.9" width="0.8" height="0.8" fill="#a2a2a2" opacity="0.9"/>
<rect x="92.2" y="101.1" width="0.8" height="0.8" fill="#9f9f9f" opacity="0.9"/>
<rect x="81.8" y="101.4" width="0.8" height="0.8" fill="#676767" opacity="0.9"/>
<rect x="88.8" y="93.4" width="0.8" height="0.8" fill="#969696" opacity="0.9"/>
<rect x="73.8" y="93.4" width="0.8" height="0.8" fill="#bababa" opacity="0.9"/>
<rect x="81.3" y="92.2" width="0.8" height="0.8" fill="#b3b3b3" opacity="0.9"/>
<rect x="72.4" y="106.4" width="0.8" height="0.8" fill="#494949" opacity="0.9"/>
<rect x="91.4" y="94.5" width="0.8" height="0.8" fill="#b3b3b3" opacity="0.9"/>
<rect x="79.7" y="100.0" width="0.8" height="0.8" fill="#7d7d7d" opacity="0.9"/>
<rect x="77.0" y="104.5" width="0.8" height="0.8" fill="#717171" opacity="0.9"/>
<rect x="73.9" y="92.4" width="0.8" height="0.8" fill="#b6b6b6" opacity="0.9"/>
<rect x="91.7" y="109.9" width="0.8" height="0.8" fill="#585858" opacity="0.9"/>
<rect x="85.9" y="100.8" width="0.8" height="0.8" fill="#626262" opacity="0.9"/>
<rect x="83.4" y="102.6" width="0.8" height="0.8" fill="#919191" opacity="0.9"/>
<rect x="80.4" y="101.9" width="0.8" height="0.8" fill="#707070" opacity="0.9"/>
<rect x="80.7" y="99.0" width="0.8" height="0.8" fill="#7a7a7a" opacity="0.9"/>
<rect x="75.3" y="106.3" width="0.8" height="0.8" fill="#6f6f6f" opacity="0.9"/>
<rect x="86.0" y="102.9" width="0.8" height="0.8" fill="#676767" opacity="0.9"/>
<rect x="87.4" y="96.0" width="0.8" height="0.8" fill="#a3a3a3" opacity="0.9"/>
<rect x="86.6" y="92.6" width="0.8" height="0.8" fill="#bcbcbc" opacity="0.9"/>
<rect x="83.9" y="106.0" width="0.8" height="0.8" fill="#545454" opacity="0.9"/>
<rect x="92.0" y="107.7" width="0.8" height="0.8" fill="#7d7d7d" opacity="0.9"/>
<rect x="92.9" y="109.3" width="0.8" height="0.8" fill="#606060" opacity="0.9"/>
<rect x="74.5" y="109.5" width="0.8" height="0.8" fill="#3c3c3c" opacity="0.9"/>
<rect x="76.9" y="106.9" width="0.8" height="0.8" fill="#525252" opacity="0.9"/>
<rect x="72.5" y="94.1" width="0.8" height="0.8" fill="#969696" opacity="0.9"/>
<rect x="90.4" y="103.7" width="0.8" height="0.8" fill="#515151" opacity="0.9"/>
<rect x="89.6" y="104.3" width="0.8" height="0.8" fill="#5c5c5c" opacity="0.9"/>
<rect x="92.6" y="107.0" width="0.8" height="0.8" fill="#414141" opacity="0.9"/>
<rect x="75.9" y="98.0" width="0.8" height="0.8" fill="#6f6f6f" opacity="0.9"/>
<rect x="75.6" y="95.4" width="0.8" height="0.8" fill="#ababab" opacity="0.9"/>
<rect x="83.5" y="99.9" width="0.8" height="0.8" fill="#9e9e9e" opacity="0.9"/>
<rect x="85.4" y="99.8" width="0.8" height="0.8" fill="#a0a0a0" opacity="0.9"/>
<rect x="84.8" y="101.3" width="0.8" height="0.8" fill="#6d6d6d" opacity="0.9"/>
<rect x="74.2" y="109.9" width="0.8" height="0.8" fill="#4d4d4d" opacity="0.9"/>
<rect x="76.0" y="98.8" width="0.8" height="0.8" fill="#a7a7a7" opacity="0.9"/>
<rect x="75.6" y="105.0" width="0.8" height="0.8" fill="#7a7a7a" opacity="0.9"/>
<rect x="87.6" y="125.7" width="0.95" height="0.95" fill="#8f8f8f" opacity="0.9"/>
<rect x="90.6" y="119.9" width="0.95" height="0.95" fill="#7c7c7c" opacity="0.9"/>
<rect x="91.2" y="120.9" width="0.95" height="0.95" fill="#424242" opacity="0.9"/>
<rect x="94.9" y="112.4" width="0.95" height="0.95" fill="#161616" opacity="0.9"/>
<rect x="89.9" y="116.5" width="0.95" height="0.95" fill="#2f2f2f" opacity="0.9"/>
<rect x="86.4" y="117.9" width="0.95" height="0.95" fill="#3d3d3d" opacity="0.9"/>
<rect x="93.2" y="128.3" width="0.95" height="0.95" fill="#474747" opacity="0.9"/>
<rect x="91.2" y="106.6" width="0.95" height="0.95" fill="#888888" opacity="0.9"/>
<rect x="91.4" y="122.3" width="0.95" height="0.95" fill="#181818" opacity="0.9"/>
<rect x="92.4" y="125.1" width="0.95" height="0.95" fill="#6b6b6b" opacity="0.9"/>
<rect x="90.1" y="128.2" width="0.95" height="0.95" fill="#494949" opacity="0.9"/>
<rect x="95.9" y="108.7" width="0.95" height="0.95" fill="#333333" opacity="0.9"/>
<rect x="93.3" y="119.7" width="0.95" height="0.95" fill="#222222" opacity="0.9"/>
<rect x="88.5" y="113.7" width="0.95" height="0.95" fill="#232323" opacity="0.9"/>
<rect x="86.1" y="114.7" width="0.95" height="0.95" fill="#7f7f7f" opacity="0.9"/>
<rect x="92.3" y="121.2" width="0.95" height="0.95" fill="#575757" opacity="0.9"/>
<rect x="87.1" y="111.7" width="0.95" height="0.95" fill="#7a7a7a" opacity="0.9"/>
<rect x="95.4" y="117.4" width="0.95" height="0.95" fill="#4c4c4c" opacity="0.9"/>
<rect x="95.9" y="128.5" width="0.95" height="0.95" fill="#8a8a8a" opacity="0.9"/>
<rect x="88.1" y="107.3" width="0.95" height="0.95" fill="#252525" opacity="0.9"/>
<rect x="94.1" y="120.2" width="0.95" height="0.95" fill="#8c8c8c" opacity="0.9"/>
<rect x="92.4" y="122.4" width="0.95" height="0.95" fill="#393939" opacity="0.9"/>
<rect x="89.5" y="120.3" width="0.95" height="0.95" fill="#7d7d7d" opacity="0.9"/>
<rect x="90.7" y="111.5" width="0.95" height="0.95" fill="#343434" opacity="0.9"/>
<rect x="93.8" y="116.0" width="0.95" height="0.95" fill="#4e4e4e" opacity="0.9"/>
<rect x="88.7" y="113.6" width="0.95" height="0.95" fill="#545454" opacity="0.9"/>
<rect x="95.8" y="121.3" width="0.95" height="0.95" fill="#8f8f8f" opacity="0.9"/>
<rect x="86.0" y="122.4" width="0.95" height="0.95" fill="#5b5b5b" opacity="0.9"/>
<rect x="89.6" y="120.7" width="0.95" height="0.95" fill="#666666" opacity="0.9"/>
<rect x="90.8" y="114.9" width="0.95" height="0.95" fill="#292929" opacity="0.9"/>
<rect x="92.6" y="113.2" width="0.95" height="0.95" fill="#616161" opacity="0.9"/>
<rect x="94.5" y="105.5" width="0.95" height="0.95" fill="#676767" opacity="0.9"/>
<rect x="93.8" y="107.6" width="0.95" height="0.95" fill="#6c6c6c" opacity="0.9"/>
<rect x="92.3" y="104.4" width="0.95" height="0.95" fill="#161616" opacity="0.9"/>
<rect x="88.1" y="105.8" width="0.95" height="0.95" fill="#5f5f5f" opacity="0.9"/>
<rect x="88.5" y="106.6" width="0.95" height="0.95" fill="#383838" opacity="0.9"/>
<rect x="94.5" y="108.7" width="0.95" height="0.95" fill="#878787" opacity="0.9"/>
<rect x="89.5" y="107.9" width="0.95" height="0.95" fill="#7b7b7b" opacity="0.9"/>
<rect x="93.9" y="108.3" width="0.95" height="0.95" fill="#2b2b2b" opacity="0.9"/>
<rect x="92.7" y="126.8" width="0.95" height="0.95" fill="#606060" opacity="0.9"/>
<rect x="88.0" y="121.7" width="0.95" height="0.95" fill="#282828" opacity="0.9"/>
<rect x="93.4" y="115.2" width="0.95" height="0.95" fill="#313131" opacity="0.9"/>
<rect x="91.6" y="110.7" width="0.95" height="0.95" fill="#4f4f4f" opacity="0.9"/>
<rect x="94.3" y="116.1" width="0.95" height="0.95" fill="#222222" opacity="0.9"/>
<rect x="90.8" y="127.1" width="0.95" height="0.95" fill="#919191" opacity="0.9"/>
<rect x="88.5" y="108.2" width="0.95" height="0.95" fill="#151515" opacity="0.9"/>
<rect x="87.6" y="112.2" width="0.95" height="0.95" fill="#939393" opacity="0.9"/>
<rect x="92.7" y="125.4" width="0.95" height="0.95" fill="#737373" opacity="0.9"/>
<rect x="90.3" y="129.5" width="0.95" height="0.95" fill="#272727" opacity="0.9"/>
<rect x="87.8" y="113.2" width="0.95" height="0.95" fill="#1b1b1b" opacity="0.9"/>
<rect x="86.2" y="105.2" width="0.95" height="0.95" fill="#686868" opacity="0.9"/>
<rect x="94.1" y="106.4" width="0.95" height="0.95" fill="#8f8f8f" opacity="0.9"/>
<rect x="90.8" y="126.9" width="0.95" height="0.95" fill="#1c1c1c" opacity="0.9"/>
<rect x="88.1" y="114.6" width="0.95" height="0.95" fill="#343434" opacity="0.9"/>
<rect x="89.4" y="126.0" width="0.95" height="0.95" fill="#717171" opacity="0.9"/>
<rect x="89.4" y="123.9" width="0.95" height="0.95" fill="#494949" opacity="0.9"/>
<rect x="88.8" y="112.7" width="0.95" height="0.95" fill="#545454" opacity="0.9"/>
<rect x="91.5" y="125.1" width="0.95" height="0.95" fill="#5e5e5e" opacity="0.9"/>
<rect x="89.6" y="116.6" width="0.95" height="0.95" fill="#696969" opacity="0.9"/>
<rect x="91.0" y="110.9" width="0.95" height="0.95" fill="#959595" opacity="0.9"/>
<rect x="89.4" y="109.2" width="0.95" height="0.95" fill="#929292" opacity="0.9"/>
<rect x="93.9" y="112.4" width="0.95" height="0.95" fill="#656565" opacity="0.9"/>
<rect x="93.1" y="107.3" width="0.95" height="0.95" fill="#2a2a2a" opacity="0.9"/>
<rect x="93.8" y="105.0" width="0.95" height="0.95" fill="#7b7b7b" opacity="0.9"/>
<rect x="91.5" y="105.3" width="0.95" height="0.95" fill="#606060" opacity="0.9"/>
<rect x="87.1" y="105.2" width="0.95" height="0.95" fill="#8d8d8d" opacity="0.9"/>
<rect x="92.1" y="120.8" width="0.95" height="0.95" fill="#949494" opacity="0.9"/>
<rect x="95.1" y="119.6" width="0.95" height="0.95" fill="#393939" opacity="0.9"/>
<rect x="92.3" y="121.8" width="0.95" height="0.95" fill="#292929" opacity="0.9"/>
<rect x="88.1" y="121.0" width="0.95" height="0.95" fill="#898989" opacity="0.9"/>
<rect x="92.3" y="108.4" width="0.95" height="0.95" fill="#424242" opacity="0.9"/>
<rect x="94.7" y="114.8" width="0.95" height="0.95" fill="#2d2d2d" opacity="0.9"/>
<rect x="95.1" y="120.7" width="0.95" height="0.95" fill="#727272" opacity="0.9"/>
<rect x="94.7" y="107.5" width="0.95" height="0.95" fill="#636363" opacity="0.9"/>
<rect x="91.6" y="110.6" width="0.95" height="0.95" fill="#616161" opacity="0.9"/>
<rect x="87.8" y="104.9" width="0.95" height="0.95" fill="#191919" opacity="0.9"/>
<rect x="90.3" y="120.4" width="0.95" height="0.95" fill="#212121" opacity="0.9"/>
<rect x="91.0" y="117.3" width="0.95" height="0.95" fill="#323232" opacity="0.9"/>
<rect x="93.7" y="114.7" width="0.95" height="0.95" fill="#7b7b7b" opacity="0.9"/>
<rect x="90.5" y="104.4" width="0.95" height="0.95" fill="#777777" opacity="0.9"/>
<rect x="91.9" y="129.3" width="0.95" height="0.95" fill="#3b3b3b" opacity="0.9"/>
<rect x="90.8" y="114.5" width="0.95" height="0.95" fill="#2e2e2e" opacity="0.9"/>
<rect x="86.8" y="116.0" width="0.95" height="0.95" fill="#3a3a3a" opacity="0.9"/>
<rect x="92.3" y="114.9" width="0.95" height="0.95" fill="#161616" opacity="0.9"/>
<rect x="92.8" y="107.1" width="0.95" height="0.95" fill="#2a2a2a" opacity="0.9"/>
<rect x="88.2" y="107.1" width="0.95" height="0.95" fill="#8c8c8c" opacity="0.9"/>
<rect x="86.2" y="122.3" width="0.95" height="0.95" fill="#525252" opacity="0.9"/>
<rect x="90.5" y="123.0" width="0.95" height="0.95" fill="#202020" opacity="0.9"/>
<rect x="89.7" y="123.1" width="0.95" height="0.95" fill="#393939" opacity="0.9"/>
<rect x="93.3" y="106.1" width="0.95" height="0.95" fill="#939393" opacity="0.9"/>
<rect x="90.6" y="127.8" width="0.95" height="0.95" fill="#555555" opacity="0.9"/>
<rect x="95.1" y="105.3" width="0.95" height="0.95" fill="#1c1c1c" opacity="0.9"/>
<rect x="86.1" y="104.4" width="0.95" height="0.95" fill="#282828" opacity="0.9"/>
<rect x="89.9" y="112.0" width="0.95" height="0.95" fill="#3e3e3e" opacity="0.9"/>
<rect x="95.6" y="125.3" width="0.95" height="0.95" fill="#232323" opacity="0.9"/>
<rect x="89.2" y="128.2" width="0.95" height="0.95" fill="#848484" opacity="0.9"/>
<rect x="90.7" y="108.2" width="0.95" height="0.95" fill="#313131" opacity="0.9"/>
<rect x="89.6" y="120.4" width="0.95" height="0.95" fill="#7e7e7e" opacity="0.9"/>
<rect x="90.8" y="123.8" width="0.95" height="0.95" fill="#878787" opacity="0.9"/>
<rect x="95.4" y="124.0" width="0.95" height="0.95" fill="#696969" opacity="0.9"/>
<rect x="88.9" y="105.5" width="0.95" height="0.95" fill="#696969" opacity="0.9"/>
<rect x="94.7" y="122.5" width="0.95" height="0.95" fill="#171717" opacity="0.9"/>
<rect x="94.3" y="119.3" width="0.95" height="0.95" fill="#636363" opacity="0.9"/>
<rect x="91.8" y="128.9" width="0.95" height="0.95" fill="#535353" opacity="0.9"/>
<rect x="89.8" y="121.5" width="0.95" height="0.95" fill="#4f4f4f" opacity="0.9"/>
<rect x="94.1" y="111.2" width="0.95" height="0.95" fill="#141414" opacity="0.9"/>
<rect x="89.2" y="110.8" width="0.95" height="0.95" fill="#3c3c3c" opacity="0.9"/>
<rect x="91.9" y="124.8" width="0.95" height="0.95" fill="#1e1e1e" opacity="0.9"/>
<rect x="88.9" y="107.6" width="0.95" height="0.95" fill="#393939" opacity="0.9"/>
<rect x="88.7" y="125.7" width="0.95" height="0.95" fill="#939393" opacity="0.9"/>
<rect x="89.5" y="106.2" width="0.95" height="0.95" fill="#909090" opacity="0.9"/>
<rect x="94.0" y="109.1" width="0.95" height="0.95" fill="#4f4f4f" opacity="0.9"/>
<rect x="89.1" y="105.5" width="0.95" height="0.95" fill="#797979" opacity="0.9"/>
<rect x="90.7" y="109.3" width="0.95" height="0.95" fill="#555555" opacity="0.9"/>
<rect x="91.9" y="104.2" width="0.95" height="0.95" fill="#767676" opacity="0.9"/>
<rect x="90.6" y="106.2" width="0.95" height="0.95" fill="#6e6e6e" opacity="0.9"/>
<rect x="93.7" y="109.9" width="0.95" height="0.95" fill="#565656" opacity="0.9"/>
<rect x="94.9" y="117.3" width="0.95" height="0.95" fill="#8e8e8e" opacity="0.9"/>
<rect x="91.1" y="109.1" width="0.95" height="0.95" fill="#4a4a4a" opacity="0.9"/>
<rect x="87.9" y="108.6" width="0.95" height="0.95" fill="#5e5e5e" opacity="0.9"/>
<rect x="89.6" y="118.4" width="0.95" height="0.95" fill="#7b7b7b" opacity="0.9"/>
<rect x="93.8" y="125.9" width="0.95" height="0.95" fill="#535353" opacity="0.9"/>
<rect x="86.4" y="129.4" width="0.95" height="0.95" fill="#737373" opacity="0.9"/>
<rect x="94.7" y="113.5" width="0.95" height="0.95" fill="#8a8a8a" opacity="0.9"/>
<rect x="93.9" y="108.0" width="0.95" height="0.95" fill="#1b1b1b" opacity="0.9"/>
<rect x="89.4" y="117.2" width="0.95" height="0.95" fill="#191919" opacity="0.9"/>
<rect x="86.9" y="109.2" width="0.95" height="0.95" fill="#909090" opacity="0.9"/>
<rect x="91.9" y="109.4" width="0.95" height="0.95" fill="#5b5b5b" opacity="0.9"/>
<rect x="90.3" y="128.1" width="0.95" height="0.95" fill="#353535" opacity="0.9"/>
<rect x="88.5" y="105.0" width="0.95" height="0.95" fill="#474747" opacity="0.9"/>
<rect x="95.9" y="113.6" width="0.95" height="0.95" fill="#1b1b1b" opacity="0.9"/>
<rect x="86.5" y="118.2" width="0.95" height="0.95" fill="#898989" opacity="0.9"/>
<rect x="90.9" y="125.6" width="0.95" height="0.95" fill="#242424" opacity="0.9"/>
<rect x="94.6" y="120.3" width="0.95" height="0.95" fill="#323232" opacity="0.9"/>
<rect x="93.1" y="106.3" width="0.95" height="0.95" fill="#656565" opacity="0.9"/>
<rect x="91.6" y="120.3" width="0.95" height="0.95" fill="#959595" opacity="0.9"/>
<rect x="89.9" y="115.4" width="0.95" height="0.95" fill="#3c3c3c" opacity="0.9"/>
<rect x="89.7" y="110.0" width="0.95" height="0.95" fill="#4c4c4c" opacity="0.9"/>
<rect x="87.7" y="128.0" width="0.95" height="0.95" fill="#6e6e6e" opacity="0.9"/>
<rect x="86.6" y="118.1" width="0.95" height="0.95" fill="#1b1b1b" opacity="0.9"/>
<rect x="94.4" y="105.2" width="0.95" height="0.95" fill="#8f8f8f" opacity="0.9"/>
<rect x="86.6" y="107.7" width="0.95" height="0.95" fill="#151515" opacity="0.9"/>
<rect x="95.4" y="121.3" width="0.95" height="0.95" fill="#606060" opacity="0.9"/>
<rect x="91.9" y="115.3" width="0.95" height="0.95" fill="#2e2e2e" opacity="0.9"/>
<rect x="90.7" y="113.5" width="0.95" height="0.95" fill="#777777" opacity="0.9"/>
<rect x="87.2" y="116.3" width="0.95" height="0.95" fill="#3f3f3f" opacity="0.9"/>
<rect x="90.4" y="124.6" width="0.95" height="0.95" fill="#171717" opacity="0.9"/>
<rect x="90.7" y="127.3" width="0.95" height="0.95" fill="#1d1d1d" opacity="0.9"/>
<rect x="87.6" y="125.2" width="0.95" height="0.95" fill="#272727" opacity="0.9"/>
<rect x="95.3" y="126.1" width="0.95" height="0.95" fill="#373737" opacity="0.9"/>
<rect x="93.8" y="128.4" width="0.95" height="0.95" fill="#767676" opacity="0.9"/>
<rect x="94.4" y="120.0" width="0.95" height="0.95" fill="#878787" opacity="0.9"/>
<rect x="95.7" y="112.2" width="0.95" height="0.95" fill="#4f4f4f" opacity="0.9"/>
<rect x="90.8" y="120.0" width="0.95" height="0.95" fill="#383838" opacity="0.9"/>
<rect x="89.3" y="122.8" width="0.95" height="0.95" fill="#424242" opacity="0.9"/>
<rect x="93.1" y="118.1" width="0.95" height="0.95" fill="#393939" opacity="0.9"/>
<rect x="90.4" y="107.8" width="0.95" height="0.95" fill="#7f7f7f" opacity="0.9"/>
<rect x="90.1" y="108.0" width="0.95" height="0.95" fill="#595959" opacity="0.9"/>
<rect x="91.7" y="111.6" width="0.95" height="0.95" fill="#3e3e3e" opacity="0.9"/>
<rect x="88.6" y="106.8" width="0.95" height="0.95" fill="#888888" opacity="0.9"/>
<rect x="95.0" y="106.9" width="0.95" height="0.95" fill="#222222" opacity="0.9"/>
<rect x="92.3" y="124.1" width="0.95" height="0.95" fill="#4a4a4a" opacity="0.9"/>
<rect x="91.6" y="125.3" width="0.95" height="0.95" fill="#323232" opacity="0.9"/>
<rect x="88.6" y="109.1" width="0.95" height="0.95" fill="#717171" opacity="0.9"/>
<rect x="90.3" y="110.7" width="0.95" height="0.95" fill="#515151" opacity="0.9"/>
<rect x="95.3" y="106.5" width="0.95" height="0.95" fill="#5e5e5e" opacity="0.9"/>
<rect x="90.2" y="108.1" width="0.95" height="0.95" fill="#5f5f5f" opacity="0.9"/>
<rect x="87.4" y="120.3" width="0.95" height="0.95" fill="#858585" opacity="0.9"/>
<rect x="94.1" y="112.7" width="0.95" height="0.95" fill="#373737" opacity="0.9"/>
<rect x="90.4" y="124.1" width="0.95" height="0.95" fill="#5d5d5d" opacity="0.9"/>
<rect x="87.9" y="115.1" width="0.95" height="0.95" fill="#7c7c7c" opacity="0.9"/>
<rect x="88.2" y="118.6" width="0.95" height="0.95" fill="#373737" opacity="0.9"/>
<rect x="94.4" y="117.3" width="0.95" height="0.95" fill="#4e4e4e" opacity="0.9"/>
<rect x="93.1" y="109.0" width="0.95" height="0.95" fill="#282828" opacity="0.9"/>
<rect x="94.3" y="126.7" width="0.95" height="0.95" fill="#929292" opacity="0.9"/>
<rect x="93.6" y="108.5" width="0.95" height="0.95" fill="#373737" opacity="0.9"/>
<rect x="92.1" y="122.0" width="0.95" height="0.95" fill="#454545" opacity="0.9"/>
<rect x="91.8" y="109.2" width="0.95" height="0.95" fill="#242424" opacity="0.9"/>
<rect x="92.9" y="117.2" width="0.95" height="0.95" fill="#222222" opacity="0.9"/>
<rect x="91.2" y="112.9" width="0.95" height="0.95" fill="#5c5c5c" opacity="0.9"/>
<rect x="94.4" y="126.0" width="0.95" height="0.95" fill="#929292" opacity="0.9"/>
<rect x="86.9" y="114.4" width="0.95" height="0.95" fill="#8e8e8e" opacity="0.9"/>
<rect x="87.3" y="121.0" width="0.95" height="0.95" fill="#535353" opacity="0.9"/>
<rect x="87.9" y="125.2" width="0.95" height="0.95" fill="#717171" opacity="0.9"/>
<rect x="86.4" y="121.9" width="0.95" height="0.95" fill="#151515" opacity="0.9"/>
<rect x="89.6" y="127.8" width="0.95" height="0.95" fill="#262626" opacity="0.9"/>
<rect x="87.2" y="122.2" width="0.95" height="0.95" fill="#666666" opacity="0.9"/>
<rect x="93.8" y="126.1" width="0.95" height="0.95" fill="#232323" opacity="0.9"/>
<rect x="88.9" y="106.7" width="0.95" height="0.95" fill="#929292" opacity="0.9"/>
<rect x="90.5" y="104.7" width="0.95" height="0.95" fill="#363636" opacity="0.9"/>
<rect x="86.2" y="128.7" width="0.95" height="0.95" fill="#4d4d4d" opacity="0.9"/>
<rect x="92.2" y="108.3" width="0.95" height="0.95" fill="#636363" opacity="0.9"/>
<rect x="88.5" y="124.8" width="0.95" height="0.95" fill="#1b1b1b" opacity="0.9"/>
<rect x="86.2" y="127.6" width="0.95" height="0.95" fill="#454545" opacity="0.9"/>
<rect x="88.6" y="125.4" width="0.95" height="0.95" fill="#8a8a8a" opacity="0.9"/>
<rect x="91.2" y="121.9" width="0.95" height="0.95" fill="#2e2e2e" opacity="0.9"/>
<rect x="89.5" y="106.4" width="0.95" height="0.95" fill="#414141" opacity="0.9"/>
<rect x="86.5" y="107.1" width="0.95" height="0.95" fill="#929292" opacity="0.9"/>
<rect x="91.9" y="123.4" width="0.95" height="0.95" fill="#303030" opacity="0.9"/>
<rect x="87.2" y="114.3" width="0.95" height="0.95" fill="#373737" opacity="0.9"/>
<rect x="91.4" y="109.8" width="0.95" height="0.95" fill="#4e4e4e" opacity="0.9"/>
<rect x="87.5" y="118.6" width="0.95" height="0.95" fill="#797979" opacity="0.9"/>
<rect x="87.6" y="125.1" width="0.95" height="0.95" fill="#777777" opacity="0.9"/>
<rect x="92.9" y="119.2" width="0.95" height="0.95" fill="#1d1d1d" opacity="0.9"/>
<rect x="90.0" y="128.0" width="0.95" height="0.95" fill="#707070" opacity="0.9"/>
<rect x="89.4" y="110.1" width="0.95" height="0.95" fill="#696969" opacity="0.9"/>
<rect x="93.2" y="125.5" width="0.95" height="0.95" fill="#666666" opacity="0.9"/>
<rect x="94.2" y="125.6" width="0.95" height="0.95" fill="#212121" opacity="0.9"/>
<rect x="89.2" y="107.7" width="0.95" height="0.95" fill="#6e6e6e" opacity="0.9"/>
<rect x="88.5" y="114.8" width="0.95" height="0.95" fill="#161616" opacity="0.9"/>
<rect x="89.6" y="117.5" width="0.95" height="0.95" fill="#252525" opacity="0.9"/>
<rect x="89.2" y="109.1" width="0.95" height="0.95" fill="#191919" opacity="0.9"/>
<rect x="88.3" y="114.7" width="0.95" height="0.95" fill="#797979" opacity="0.9"/>
<rect x="93.8" y="127.9" width="0.95" height="0.95" fill="#1f1f1f" opacity="0.9"/>
<rect x="94.1" y="126.6" width="0.95" height="0.95" fill="#1e1e1e" opacity="0.9"/>
<rect x="86.3" y="120.4" width="0.95" height="0.95" fill="#585858" opacity="0.9"/>
<rect x="95.2" y="119.9" width="0.95" height="0.95" fill="#1d1d1d" opacity="0.9"/>
<rect x="92.2" y="110.4" width="0.95" height="0.95" fill="#171717" opacity="0.9"/>
<rect x="90.3" y="128.2" width="0.95" height="0.95" fill="#5d5d5d" opacity="0.9"/>
<rect x="87.1" y="112.9" width="0.95" height="0.95" fill="#3e3e3e" opacity="0.9"/>
<rect x="87.2" y="119.2" width="0.95" height="0.95" fill="#585858" opacity="0.9"/>
<rect x="86.8" y="119.1" width="0.95" height="0.95" fill="#393939" opacity="0.9"/>
<rect x="90.4" y="117.0" width="0.95" height="0.95" fill="#5f5f5f" opacity="0.9"/>
<rect x="95.2" y="118.7" width="0.95" height="0.95" fill="#5a5a5a" opacity="0.9"/>
<rect x="88.4" y="106.2" width="0.95" height="0.95" fill="#5d5d5d" opacity="0.9"/>
<rect x="94.4" y="119.6" width="0.95" height="0.95" fill="#4c4c4c" opacity="0.9"/>
<rect x="92.5" y="109.1" width="0.95" height="0.95" fill="#717171" opacity="0.9"/>
<rect x="90.6" y="118.0" width="0.95" height="0.95" fill="#8e8e8e" opacity="0.9"/>
<rect x="90.7" y="111.9" width="0.95" height="0.95" fill="#525252" opacity="0.9"/>
<rect x="89.3" y="108.8" width="0.95" height="0.95" fill="#767676" opacity="0.9"/>
<rect x="95.7" y="114.1" width="0.95" height="0.95" fill="#6e6e6e" opacity="0.9"/>
<rect x="87.6" y="128.3" width="0.95" height="0.95" fill="#666666" opacity="0.9"/>
<rect x="91.6" y="116.5" width="0.95" height="0.95" fill="#5c5c5c" opacity="0.9"/>
<rect x="94.8" y="109.5" width="0.95" height="0.95" fill="#222222" opacity="0.9"/>
<rect x="93.7" y="108.0" width="0.95" height="0.95" fill="#252525" opacity="0.9"/>
<rect x="92.1" y="112.9" width="0.95" height="0.95" fill="#232323" opacity="0.9"/>
<rect x="91.2" y="125.3" width="0.95" height="0.95" fill="#6e6e6e" opacity="0.9"/>
<rect x="93.4" y="106.8" width="0.95" height="0.95" fill="#4d4d4d" opacity="0.9"/>
<rect x="95.9" y="121.3" width="0.95" height="0.95" fill="#3b3b3b" opacity="0.9"/>
<rect x="90.2" y="121.0" width="0.95" height="0.95" fill="#373737" opacity="0.9"/>
<rect x="92.8" y="119.7" width="0.95" height="0.95" fill="#5a5a5a" opacity="0.9"/>
<rect x="94.2" y="117.2" width="0.95" height="0.95" fill="#8d8d8d" opacity="0.9"/>
<rect x="88.7" y="120.1" width="0.95" height="0.95" fill="#343434" opacity="0.9"/>
<rect x="90.1" y="106.6" width="0.95" height="0.95" fill="#7d7d7d" opacity="0.9"/>
<rect x="93.7" y="118.9" width="0.95" height="0.95" fill="#939393" opacity="0.9"/>
<rect x="90.0" y="129.3" width="0.95" height="0.95" fill="#3a3a3a" opacity="0.9"/>
<rect x="90.2" y="124.0" width="0.95" height="0.95" fill="#303030" opacity="0.9"/>
<rect x="89.8" y="115.5" width="0.95" height="0.95" fill="#898989" opacity="0.9"/>
<rect x="88.9" y="113.0" width="0.95" height="0.95" fill="#6e6e6e" opacity="0.9"/>
<rect x="89.9" y="118.2" width="0.95" height="0.95" fill="#767676" opacity="0.9"/>
<rect x="92.5" y="104.2" width="0.95" height="0.95" fill="#939393" opacity="0.9"/>
<rect x="89.8" y="111.7" width="0.95" height="0.95" fill="#616161" opacity="0.9"/>
<rect x="94.0" y="115.1" width="0.95" height="0.95" fill="#747474" opacity="0.9"/>
<rect x="91.8" y="106.2" width="0.95" height="0.95" fill="#686868" opacity="0.9"/>
<rect x="89.2" y="125.5" width="0.95" height="0.95" fill="#525252" opacity="0.9"/>
<rect x="95.6" y="109.2" width="0.95" height="0.95" fill="#818181" opacity="0.9"/>
<rect x="94.9" y="128.4" width="0.95" height="0.95" fill="#1a1a1a" opacity="0.9"/>
<rect x="86.5" y="118.4" width="0.95" height="0.95" fill="#939393" opacity="0.9"/>
<rect x="89.0" y="117.7" width="0.95" height="0.95" fill="#636363" opacity="0.9"/>
<rect x="91.4" y="129.5" width="0.95" height="0.95" fill="#828282" opacity="0.9"/>
<rect x="89.9" y="113.1" width="0.95" height="0.95" fill="#6d6d6d" opacity="0.9"/>
<rect x="90.5" y="104.3" width="0.95" height="0.95" fill="#252525" opacity="0.9"/>
<rect x="91.3" y="106.5" width="0.95" height="0.95" fill="#737373" opacity="0.9"/>
<rect x="91.0" y="120.5" width="0.95" height="0.95" fill="#3b3b3b" opacity="0.9"/>
<rect x="94.8" y="128.6" width="0.95" height="0.95" fill="#909090" opacity="0.9"/>
<rect x="90.0" y="123.6" width="0.95" height="0.95" fill="#6b6b6b" opacity="0.9"/>
<rect x="92.9" y="123.0" width="0.95" height="0.95" fill="#2b2b2b" opacity="0.9"/>
<rect x="87.7" y="112.1" width="0.95" height="0.95" fill="#272727" opacity="0.9"/>
<rect x="94.3" y="117.1" width="0.95" height="0.95" fill="#303030" opacity="0.9"/>
<rect x="92.6" y="111.5" width="0.95" height="0.95" fill="#6b6b6b" opacity="0.9"/>
<rect x="94.2" y="129.3" width="0.95" height="0.95" fill="#7f7f7f" opacity="0.9"/>
<rect x="92.3" y="117.4" width="0.95" height="0.95" fill="#969696" opacity="0.9"/>
<rect x="88.1" y="126.8" width="0.95" height="0.95" fill="#7d7d7d" opacity="0.9"/>
<rect x="87.8" y="120.1" width="0.95" height="0.95" fill="#2f2f2f" opacity="0.9"/>
<rect x="89.5" y="129.3" width="0.95" height="0.95" fill="#1e1e1e" opacity="0.9"/>
<rect x="92.9" y="104.3" width="0.95" height="0.95" fill="#141414" opacity="0.9"/>
<rect x="89.1" y="121.6" width="0.95" height="0.95" fill="#151515" opacity="0.9"/>
<rect x="95.2" y="114.1" width="0.95" height="0.95" fill="#2d2d2d" opacity="0.9"/>
<rect x="91.9" y="121.0" width="0.95" height="0.95" fill="#464646" opacity="0.9"/>
<rect x="87.8" y="123.6" width="0.95" height="0.95" fill="#585858" opacity="0.9"/>
<rect x="94.7" y="126.8" width="0.95" height="0.95" fill="#383838" opacity="0.9"/>
<rect x="91.7" y="114.5" width="0.95" height="0.95" fill="#333333" opacity="0.9"/>
<rect x="87.5" y="117.2" width="0.95" height="0.95" fill="#969696" opacity="0.9"/>
<rect x="87.1" y="106.6" width="0.95" height="0.95" fill="#3f3f3f" opacity="0.9"/>
<rect x="95.5" y="116.5" width="0.95" height="0.95" fill="#8b8b8b" opacity="0.9"/>
<rect x="92.1" y="124.6" width="0.95" height="0.95" fill="#232323" opacity="0.9"/>
<rect x="92.5" y="121.5" width="0.95" height="0.95" fill="#666666" opacity="0.9"/>
<rect x="87.4" y="110.1" width="0.95" height="0.95" fill="#5a5a5a" opacity="0.9"/>
<rect x="87.7" y="110.8" width="0.95" height="0.95" fill="#2d2d2d" opacity="0.9"/>
<rect x="94.6" y="128.2" width="0.95" height="0.95" fill="#242424" opacity="0.9"/>
<rect x="89.5" y="115.5" width="0.95" height="0.95" fill="#767676" opacity="0.9"/>
<rect x="86.2" y="109.6" width="0.95" height="0.95" fill="#797979" opacity="0.9"/>
<rect x="91.8" y="128.5" width="0.95" height="0.95" fill="#848484" opacity="0.9"/>
<rect x="86.5" y="110.1" width="0.95" height="0.95" fill="#4d4d4d" opacity="0.9"/>
<rect x="86.4" y="127.7" width="0.95" height="0.95" fill="#404040" opacity="0.9"/>
<rect x="89.1" y="126.9" width="0.95" height="0.95" fill="#888888" opacity="0.9"/>
<rect x="89.0" y="119.4" width="0.95" height="0.95" fill="#929292" opacity="0.9"/>
<rect x="95.8" y="105.7" width="0.95" height="0.95" fill="#777777" opacity="0.9"/>
<rect x="92.7" y="118.9" width="0.95" height="0.95" fill="#7d7d7d" opacity="0.9"/>
<rect x="89.1" y="126.3" width="0.95" height="0.95" fill="#909090" opacity="0.9"/>
<rect x="86.2" y="126.1" width="0.95" height="0.95" fill="#2a2a2a" opacity="0.9"/>
<rect x="87.7" y="113.1" width="0.95" height="0.95" fill="#434343" opacity="0.9"/>
<rect x="86.1" y="126.5" width="0.95" height="0.95" fill="#797979" opacity="0.9"/>
<rect x="91.6" y="106.9" width="0.95" height="0.95" fill="#767676" opacity="0.9"/>
<rect x="89.4" y="120.6" width="0.95" height="0.95" fill="#333333" opacity="0.9"/>
<rect x="90.2" y="127.3" width="0.95" height="0.95" fill="#525252" opacity="0.9"/>
<rect x="89.9" y="115.9" width="0.95" height="0.95" fill="#6c6c6c" opacity="0.9"/>
<rect x="88.4" y="104.9" width="0.95" height="0.95" fill="#1a1a1a" opacity="0.9"/>
<rect x="89.4" y="108.0" width="0.95" height="0.95" fill="#353535" opacity="0.9"/>
<rect x="86.9" y="110.9" width="0.95" height="0.95" fill="#343434" opacity="0.9"/>
<rect x="91.5" y="115.9" width="0.95" height="0.95" fill="#515151" opacity="0.9"/>
<rect x="87.6" y="113.0" width="0.95" height="0.95" fill="#7b7b7b" opacity="0.9"/>
<rect x="89.8" y="128.4" width="0.95" height="0.95" fill="#494949" opacity="0.9"/>
<rect x="89.0" y="116.1" width="0.95" height="0.95" fill="#484848" opacity="0.9"/>
<rect x="88.3" y="115.5" width="0.95" height="0.95" fill="#353535" opacity="0.9"/>
<rect x="95.4" y="129.4" width="0.95" height="0.95" fill="#848484" opacity="0.9"/>
<rect x="91.9" y="113.4" width="0.95" height="0.95" fill="#535353" opacity="0.9"/>
<rect x="90.0" y="117.0" width="0.95" height="0.95" fill="#343434" opacity="0.9"/>
<rect x="94.7" y="107.1" width="0.95" height="0.95" fill="#2b2b2b" opacity="0.9"/>
<rect x="91.4" y="110.9" width="0.95" height="0.95" fill="#767676" opacity="0.9"/>
<rect x="86.3" y="122.3" width="0.95" height="0.95" fill="#393939" opacity="0.9"/>
<rect x="89.1" y="113.9" width="0.95" height="0.95" fill="#2a2a2a" opacity="0.9"/>
<rect x="92.9" y="123.8" width="0.95" height="0.95" fill="#4f4f4f" opacity="0.9"/>
<rect x="89.2" y="120.9" width="0.95" height="0.95" fill="#2f2f2f" opacity="0.9"/>
<rect x="86.7" y="127.3" width="0.95" height="0.95" fill="#949494" opacity="0.9"/>
<rect x="93.6" y="108.9" width="0.95" height="0.95" fill="#636363" opacity="0.9"/>
<rect x="86.9" y="111.4" width="0.95" height="0.95" fill="#7a7a7a" opacity="0.9"/>
<rect x="88.8" y="114.3" width="0.95" height="0.95" fill="#8a8a8a" opacity="0.9"/>
<rect x="93.7" y="126.5" width="0.95" height="0.95" fill="#353535" opacity="0.9"/>
<rect x="95.4" y="108.5" width="0.95" height="0.95" fill="#717171" opacity="0.9"/>
<defs><linearGradient id="g2" x1="69.6" x2="86.4" y1="0" y2="0" gradientUnits="userSpaceOnUse"><stop offset="0.000" stop-color="#222"/><stop offset="0.113" stop-color="#555"/><stop offset="0.262" stop-color="#aaa"/><stop offset="0.440" stop-color="#cfcfcf"/><stop offset="0.738" stop-color="#c8c8c8"/><stop offset="0.887" stop-color="#666"/><stop offset="1.000" stop-color="#222"/></linearGradient></defs>
<path d="M69.6,129.9 L69.6,113.7 Q69.6,110.7 72.6,110.7 L83.4,110.7 Q86.4,110.7 86.4,113.7 L86.4,129.9 Z" fill="url(#g2)" filter="url(#blur04)"/>
<path d="M69.6,129.9 L69.6,113.7 Q69.6,110.7 72.6,110.7 L83.4,110.7 Q86.4,110.7 86.4,113.7 L86.4,129.9 Z" fill="url(#vtop)"/>
<path d="M70.69999999999999,129.9 L70.69999999999999,113.7 Q70.69999999999999,111.8 72.6,111.8 L83.4,111.8 Q85.30000000000001,111.8 85.30000000000001,113.7 L85.30000000000001,129.9" fill="none" stroke="#111" stroke-width="2.8" filter="url(#blur08)"/>
<rect x="81.2" y="110.8" width="0.9" height="0.9" fill="#2c2c2c" opacity="0.8"/>
<rect x="85.1" y="109.0" width="0.9" height="0.9" fill="#3b3b3b" opacity="0.8"/>
<rect x="73.5" y="111.3" width="0.9" height="0.9" fill="#2d2d2d" opacity="0.8"/>
<rect x="85.3" y="109.2" width="0.9" height="0.9" fill="#252525" opacity="0.8"/>
<rect x="71.1" y="111.5" width="0.9" height="0.9" fill="#1c1c1c" opacity="0.8"/>
<rect x="81.8" y="109.0" width="0.9" height="0.9" fill="#050505" opacity="0.8"/>
<rect x="80.0" y="110.1" width="0.9" height="0.9" fill="#262626" opacity="0.8"/>
<rect x="71.8" y="111.0" width="0.9" height="0.9" fill="#464646" opacity="0.8"/>
<rect x="74.6" y="110.7" width="0.9" height="0.9" fill="#161616" opacity="0.8"/>
<rect x="79.2" y="109.5" width="0.9" height="0.9" fill="#3f3f3f" opacity="0.8"/>
<rect x="81.9" y="109.6" width="0.9" height="0.9" fill="#373737" opacity="0.8"/>
<rect x="81.1" y="110.5" width="0.9" height="0.9" fill="#000000" opacity="0.8"/>
<rect x="71.0" y="111.0" width="0.9" height="0.9" fill="#242424" opacity="0.8"/>
<rect x="85.2" y="111.4" width="0.9" height="0.9" fill="#4a4a4a" opacity="0.8"/>
<rect x="79.9" y="109.0" width="0.9" height="0.9" fill="#1f1f1f" opacity="0.8"/>
<rect x="81.3" y="109.0" width="0.9" height="0.9" fill="#282828" opacity="0.8"/>
<rect x="72.8" y="111.5" width="0.9" height="0.9" fill="#0b0b0b" opacity="0.8"/>
<rect x="76.5" y="111.0" width="0.9" height="0.9" fill="#4e4e4e" opacity="0.8"/>
<rect x="83.9" y="109.7" width="0.9" height="0.9" fill="#0b0b0b" opacity="0.8"/>
<rect x="75.3" y="111.6" width="0.9" height="0.9" fill="#383838" opacity="0.8"/>
<rect x="85.7" y="110.8" width="0.9" height="0.9" fill="#505050" opacity="0.8"/>
<rect x="80.3" y="110.3" width="0.9" height="0.9" fill="#1a1a1a" opacity="0.8"/>
<rect x="76.7" y="110.3" width="0.9" height="0.9" fill="#101010" opacity="0.8"/>
<rect x="77.8" y="109.4" width="0.9" height="0.9" fill="#474747" opacity="0.8"/>
<rect x="73.7" y="110.4" width="0.9" height="0.9" fill="#1e1e1e" opacity="0.8"/>
<rect x="78.8" y="109.6" width="0.9" height="0.9" fill="#070707" opacity="0.8"/>
<rect x="72.0" y="109.9" width="0.9" height="0.9" fill="#0b0b0b" opacity="0.8"/>
<rect x="72.6" y="109.8" width="0.9" height="0.9" fill="#111111" opacity="0.8"/>
<rect x="81.4" y="110.3" width="0.9" height="0.9" fill="#3d3d3d" opacity="0.8"/>
<rect x="73.3" y="109.6" width="0.9" height="0.9" fill="#414141" opacity="0.8"/>
<rect x="81.4" y="109.3" width="0.9" height="0.9" fill="#2c2c2c" opacity="0.8"/>
<rect x="81.6" y="109.3" width="0.9" height="0.9" fill="#121212" opacity="0.8"/>
<rect x="79.6" y="109.6" width="0.9" height="0.9" fill="#505050" opacity="0.8"/>
<rect x="83.7" y="110.4" width="0.9" height="0.9" fill="#151515" opacity="0.8"/>
<rect x="81.2" y="109.3" width="0.9" height="0.9" fill="#3b3b3b" opacity="0.8"/>
<rect x="84.1" y="110.0" width="0.9" height="0.9" fill="#1a1a1a" opacity="0.8"/>
<rect x="68.7" y="116.3" width="0.8" height="0.8" fill="#2e2e2e" opacity="0.7"/>
<rect x="69.6" y="111.5" width="0.8" height="0.8" fill="#232323" opacity="0.7"/>
<rect x="69.1" y="112.8" width="0.8" height="0.8" fill="#272727" opacity="0.7"/>
<rect x="69.5" y="112.9" width="0.8" height="0.8" fill="#292929" opacity="0.7"/>
<rect x="69.5" y="121.6" width="0.8" height="0.8" fill="#252525" opacity="0.7"/>
<rect x="68.8" y="112.1" width="0.8" height="0.8" fill="#010101" opacity="0.7"/>
<rect x="69.5" y="129.5" width="0.8" height="0.8" fill="#3e3e3e" opacity="0.7"/>
<rect x="68.6" y="124.5" width="0.8" height="0.8" fill="#484848" opacity="0.7"/>
<rect x="69.0" y="123.1" width="0.8" height="0.8" fill="#373737" opacity="0.7"/>
<rect x="69.6" y="125.8" width="0.8" height="0.8" fill="#292929" opacity="0.7"/>
<rect x="68.4" y="128.4" width="0.8" height="0.8" fill="#525252" opacity="0.7"/>
<rect x="69.1" y="122.5" width="0.8" height="0.8" fill="#535353" opacity="0.7"/>
<rect x="70.1" y="123.2" width="0.8" height="0.8" fill="#0a0a0a" opacity="0.7"/>
<rect x="68.7" y="111.2" width="0.8" height="0.8" fill="#323232" opacity="0.7"/>
<rect x="70.4" y="116.4" width="0.8" height="0.8" fill="#171717" opacity="0.7"/>
<rect x="87.5" y="120.8" width="0.8" height="0.8" fill="#575757" opacity="0.7"/>
<rect x="85.6" y="125.8" width="0.8" height="0.8" fill="#272727" opacity="0.7"/>
<rect x="87.0" y="117.0" width="0.8" height="0.8" fill="#171717" opacity="0.7"/>
<rect x="86.8" y="117.5" width="0.8" height="0.8" fill="#1d1d1d" opacity="0.7"/>
<rect x="86.1" y="121.3" width="0.8" height="0.8" fill="#2f2f2f" opacity="0.7"/>
<rect x="87.2" y="115.6" width="0.8" height="0.8" fill="#070707" opacity="0.7"/>
<rect x="85.3" y="121.6" width="0.8" height="0.8" fill="#505050" opacity="0.7"/>
<rect x="87.4" y="129.9" width="0.8" height="0.8" fill="#333333" opacity="0.7"/>
<rect x="87.4" y="128.8" width="0.8" height="0.8" fill="#3f3f3f" opacity="0.7"/>
<rect x="86.2" y="124.7" width="0.8" height="0.8" fill="#262626" opacity="0.7"/>
<rect x="86.6" y="122.7" width="0.8" height="0.8" fill="#121212" opacity="0.7"/>
<rect x="86.9" y="113.8" width="0.8" height="0.8" fill="#383838" opacity="0.7"/>
<rect x="86.7" y="118.4" width="0.8" height="0.8" fill="#050505" opacity="0.7"/>
<rect x="87.2" y="119.9" width="0.8" height="0.8" fill="#1b1b1b" opacity="0.7"/>
<rect x="86.9" y="110.8" width="0.8" height="0.8" fill="#4e4e4e" opacity="0.7"/>
<defs><linearGradient id="g3" x1="95.6" x2="105.0" y1="0" y2="0" gradientUnits="userSpaceOnUse"><stop offset="0.000" stop-color="#111"/><stop offset="0.181" stop-color="#555"/><stop offset="0.362" stop-color="#bbb"/><stop offset="0.681" stop-color="#b0b0b0"/><stop offset="0.851" stop-color="#444"/><stop offset="1.000" stop-color="#111"/></linearGradient></defs>
<path d="M95.6,129.9 L95.6,113.2 Q95.6,110.2 98.6,110.2 L102.0,110.2 Q105.0,110.2 105.0,113.2 L105.0,129.9 Z" fill="url(#g3)" filter="url(#blur04)"/>
<path d="M95.6,129.9 L95.6,113.2 Q95.6,110.2 98.6,110.2 L102.0,110.2 Q105.0,110.2 105.0,113.2 L105.0,129.9 Z" fill="url(#vtop)"/>
<path d="M96.69999999999999,129.9 L96.69999999999999,113.2 Q96.69999999999999,111.3 98.6,111.3 L102.0,111.3 Q103.9,111.3 103.9,113.2 L103.9,129.9" fill="none" stroke="#111" stroke-width="2.8" filter="url(#blur08)"/>
<rect x="104.1" y="110.6" width="0.9" height="0.9" fill="#363636" opacity="0.8"/>
<rect x="96.5" y="108.6" width="0.9" height="0.9" fill="#070707" opacity="0.8"/>
<rect x="100.5" y="109.6" width="0.9" height="0.9" fill="#2b2b2b" opacity="0.8"/>
<rect x="95.7" y="108.4" width="0.9" height="0.9" fill="#161616" opacity="0.8"/>
<rect x="104.6" y="108.9" width="0.9" height="0.9" fill="#252525" opacity="0.8"/>
<rect x="95.0" y="110.7" width="0.9" height="0.9" fill="#2c2c2c" opacity="0.8"/>
<rect x="101.0" y="109.7" width="0.9" height="0.9" fill="#454545" opacity="0.8"/>
<rect x="98.4" y="109.7" width="0.9" height="0.9" fill="#444444" opacity="0.8"/>
<rect x="104.6" y="110.8" width="0.9" height="0.9" fill="#333333" opacity="0.8"/>
<rect x="105.2" y="110.1" width="0.9" height="0.9" fill="#070707" opacity="0.8"/>
<rect x="102.7" y="109.3" width="0.9" height="0.9" fill="#262626" opacity="0.8"/>
<rect x="101.0" y="109.6" width="0.9" height="0.9" fill="#2f2f2f" opacity="0.8"/>
<rect x="100.1" y="110.2" width="0.9" height="0.9" fill="#262626" opacity="0.8"/>
<rect x="104.2" y="109.9" width="0.9" height="0.9" fill="#030303" opacity="0.8"/>
<rect x="104.0" y="109.0" width="0.9" height="0.9" fill="#393939" opacity="0.8"/>
<rect x="102.3" y="108.8" width="0.9" height="0.9" fill="#4a4a4a" opacity="0.8"/>
<rect x="98.9" y="110.0" width="0.9" height="0.9" fill="#353535" opacity="0.8"/>
<rect x="98.8" y="109.1" width="0.9" height="0.9" fill="#383838" opacity="0.8"/>
<rect x="99.2" y="108.7" width="0.9" height="0.9" fill="#171717" opacity="0.8"/>
<rect x="105.3" y="109.0" width="0.9" height="0.9" fill="#0e0e0e" opacity="0.8"/>
<rect x="94.9" y="126.7" width="0.8" height="0.8" fill="#535353" opacity="0.7"/>
<rect x="94.6" y="120.7" width="0.8" height="0.8" fill="#202020" opacity="0.7"/>
<rect x="96.1" y="114.7" width="0.8" height="0.8" fill="#3a3a3a" opacity="0.7"/>
<rect x="94.9" y="121.5" width="0.8" height="0.8" fill="#0e0e0e" opacity="0.7"/>
<rect x="96.2" y="128.1" width="0.8" height="0.8" fill="#484848" opacity="0.7"/>
<rect x="94.6" y="118.2" width="0.8" height="0.8" fill="#090909" opacity="0.7"/>
<rect x="96.3" y="112.8" width="0.8" height="0.8" fill="#404040" opacity="0.7"/>
<rect x="95.7" y="124.3" width="0.8" height="0.8" fill="#0e0e0e" opacity="0.7"/>
<rect x="95.9" y="129.1" width="0.8" height="0.8" fill="#414141" opacity="0.7"/>
<rect x="94.6" y="126.6" width="0.8" height="0.8" fill="#323232" opacity="0.7"/>
<rect x="95.7" y="129.3" width="0.8" height="0.8" fill="#181818" opacity="0.7"/>
<rect x="95.8" y="125.5" width="0.8" height="0.8" fill="#111111" opacity="0.7"/>
<rect x="95.3" y="122.4" width="0.8" height="0.8" fill="#333333" opacity="0.7"/>
<rect x="95.0" y="117.5" width="0.8" height="0.8" fill="#010101" opacity="0.7"/>
<rect x="96.1" y="129.0" width="0.8" height="0.8" fill="#3a3a3a" opacity="0.7"/>
<rect x="104.5" y="124.1" width="0.8" height="0.8" fill="#363636" opacity="0.7"/>
<rect x="106.0" y="111.9" width="0.8" height="0.8" fill="#191919" opacity="0.7"/>
<rect x="105.2" y="128.3" width="0.8" height="0.8" fill="#2d2d2d" opacity="0.7"/>
<rect x="104.2" y="124.9" width="0.8" height="0.8" fill="#2b2b2b" opacity="0.7"/>
<rect x="105.7" y="124.7" width="0.8" height="0.8" fill="#010101" opacity="0.7"/>
<rect x="105.8" y="112.6" width="0.8" height="0.8" fill="#2f2f2f" opacity="0.7"/>
<rect x="105.0" y="120.5" width="0.8" height="0.8" fill="#2d2d2d" opacity="0.7"/>
<rect x="105.5" y="111.1" width="0.8" height="0.8" fill="#4d4d4d" opacity="0.7"/>
<rect x="104.6" y="117.2" width="0.8" height="0.8" fill="#292929" opacity="0.7"/>
<rect x="105.7" y="112.4" width="0.8" height="0.8" fill="#565656" opacity="0.7"/>
<rect x="104.4" y="117.2" width="0.8" height="0.8" fill="#585858" opacity="0.7"/>
<rect x="104.9" y="126.7" width="0.8" height="0.8" fill="#4a4a4a" opacity="0.7"/>
<rect x="104.9" y="125.8" width="0.8" height="0.8" fill="#3e3e3e" opacity="0.7"/>
<rect x="104.1" y="126.0" width="0.8" height="0.8" fill="#171717" opacity="0.7"/>
<rect x="104.2" y="128.5" width="0.8" height="0.8" fill="#575757" opacity="0.7"/>
<ellipse cx="98.3" cy="103.3" rx="3.6" ry="7.6" transform="rotate(26 98.3 103.3)" fill="none" stroke="#000" stroke-width="2.0"/>
<rect x="69.95" y="85.15" width="44.50" height="43.80" fill="none" stroke="#000" stroke-width="1.9"/>
<rect x="117.50" y="84.20" width="46.40" height="45.70" fill="#fff" stroke="none"/>
<rect x="134.1" y="100.9" width="0.8" height="0.8" fill="#c3c3c3" opacity="0.9"/>
<rect x="124.0" y="99.0" width="0.8" height="0.8" fill="#dadada" opacity="0.9"/>
<rect x="124.4" y="104.9" width="0.8" height="0.8" fill="#888888" opacity="0.9"/>
<rect x="141.9" y="104.5" width="0.8" height="0.8" fill="#a1a1a1" opacity="0.9"/>
<rect x="118.8" y="100.9" width="0.8" height="0.8" fill="#aaaaaa" opacity="0.9"/>
<rect x="132.9" y="102.9" width="0.8" height="0.8" fill="#b3b3b3" opacity="0.9"/>
<rect x="138.2" y="99.4" width="0.8" height="0.8" fill="#d4d4d4" opacity="0.9"/>
<rect x="128.8" y="106.7" width="0.8" height="0.8" fill="#a6a6a6" opacity="0.9"/>
<rect x="130.4" y="105.6" width="0.8" height="0.8" fill="#9a9a9a" opacity="0.9"/>
<rect x="125.5" y="107.4" width="0.8" height="0.8" fill="#919191" opacity="0.9"/>
<rect x="123.1" y="101.1" width="0.8" height="0.8" fill="#c8c8c8" opacity="0.9"/>
<rect x="126.0" y="104.6" width="0.8" height="0.8" fill="#b5b5b5" opacity="0.9"/>
<rect x="125.5" y="105.8" width="0.8" height="0.8" fill="#969696" opacity="0.9"/>
<rect x="123.4" y="106.5" width="0.8" height="0.8" fill="#a3a3a3" opacity="0.9"/>
<rect x="132.6" y="103.1" width="0.8" height="0.8" fill="#b8b8b8" opacity="0.9"/>
<rect x="121.4" y="105.4" width="0.8" height="0.8" fill="#858585" opacity="0.9"/>
<rect x="141.8" y="105.6" width="0.8" height="0.8" fill="#9c9c9c" opacity="0.9"/>
<rect x="132.0" y="107.3" width="0.8" height="0.8" fill="#959595" opacity="0.9"/>
<rect x="140.0" y="100.1" width="0.8" height="0.8" fill="#b1b1b1" opacity="0.9"/>
<rect x="122.8" y="105.0" width="0.8" height="0.8" fill="#a1a1a1" opacity="0.9"/>
<rect x="120.4" y="101.4" width="0.8" height="0.8" fill="#c9c9c9" opacity="0.9"/>
<rect x="123.7" y="101.3" width="0.8" height="0.8" fill="#aaaaaa" opacity="0.9"/>
<rect x="119.7" y="99.4" width="0.8" height="0.8" fill="#c2c2c2" opacity="0.9"/>
<rect x="126.7" y="100.7" width="0.8" height="0.8" fill="#b4b4b4" opacity="0.9"/>
<rect x="138.9" y="102.2" width="0.8" height="0.8" fill="#acacac" opacity="0.9"/>
<rect x="134.9" y="102.6" width="0.8" height="0.8" fill="#c3c3c3" opacity="0.9"/>
<rect x="136.8" y="104.3" width="0.8" height="0.8" fill="#b6b6b6" opacity="0.9"/>
<rect x="137.4" y="99.0" width="0.8" height="0.8" fill="#bcbcbc" opacity="0.9"/>
<rect x="122.9" y="100.3" width="0.8" height="0.8" fill="#cbcbcb" opacity="0.9"/>
<rect x="127.7" y="105.3" width="0.8" height="0.8" fill="#a8a8a8" opacity="0.9"/>
<rect x="140.3" y="103.5" width="0.8" height="0.8" fill="#989898" opacity="0.9"/>
<rect x="135.3" y="106.5" width="0.8" height="0.8" fill="#959595" opacity="0.9"/>
<rect x="133.8" y="99.4" width="0.8" height="0.8" fill="#b6b6b6" opacity="0.9"/>
<rect x="122.6" y="99.9" width="0.8" height="0.8" fill="#cbcbcb" opacity="0.9"/>
<rect x="125.3" y="105.7" width="0.8" height="0.8" fill="#979797" opacity="0.9"/>
<rect x="141.3" y="102.4" width="0.8" height="0.8" fill="#bdbdbd" opacity="0.9"/>
<rect x="140.1" y="100.8" width="0.8" height="0.8" fill="#b6b6b6" opacity="0.9"/>
<rect x="122.2" y="100.2" width="0.8" height="0.8" fill="#c6c6c6" opacity="0.9"/>
<rect x="136.2" y="103.1" width="0.8" height="0.8" fill="#a0a0a0" opacity="0.9"/>
<rect x="118.5" y="107.8" width="0.8" height="0.8" fill="#848484" opacity="0.9"/>
<rect x="139.4" y="106.3" width="0.8" height="0.8" fill="#949494" opacity="0.9"/>
<rect x="120.4" y="106.6" width="0.8" height="0.8" fill="#7c7c7c" opacity="0.9"/>
<rect x="121.1" y="107.8" width="0.8" height="0.8" fill="#727272" opacity="0.9"/>
<rect x="137.6" y="103.6" width="0.8" height="0.8" fill="#b3b3b3" opacity="0.9"/>
<rect x="118.1" y="106.4" width="0.8" height="0.8" fill="#9a9a9a" opacity="0.9"/>
<rect x="118.4" y="105.9" width="0.8" height="0.8" fill="#7f7f7f" opacity="0.9"/>
<rect x="125.7" y="100.5" width="0.8" height="0.8" fill="#ababab" opacity="0.9"/>
<rect x="129.7" y="103.3" width="0.8" height="0.8" fill="#bababa" opacity="0.9"/>
<rect x="122.2" y="100.6" width="0.8" height="0.8" fill="#cfcfcf" opacity="0.9"/>
<rect x="120.1" y="103.2" width="0.8" height="0.8" fill="#b9b9b9" opacity="0.9"/>
<rect x="141.7" y="105.3" width="0.8" height="0.8" fill="#b0b0b0" opacity="0.9"/>
<rect x="139.0" y="107.9" width="0.8" height="0.8" fill="#7d7d7d" opacity="0.9"/>
<rect x="133.7" y="106.0" width="0.8" height="0.8" fill="#919191" opacity="0.9"/>
<rect x="135.0" y="100.9" width="0.8" height="0.8" fill="#aeaeae" opacity="0.9"/>
<rect x="118.4" y="106.8" width="0.8" height="0.8" fill="#909090" opacity="0.9"/>
<rect x="138.2" y="105.6" width="0.8" height="0.8" fill="#929292" opacity="0.9"/>
<rect x="126.3" y="102.5" width="0.8" height="0.8" fill="#c3c3c3" opacity="0.9"/>
<rect x="121.7" y="99.2" width="0.8" height="0.8" fill="#cfcfcf" opacity="0.9"/>
<rect x="123.5" y="103.2" width="0.8" height="0.8" fill="#bbbbbb" opacity="0.9"/>
<rect x="129.5" y="107.9" width="0.8" height="0.8" fill="#8d8d8d" opacity="0.9"/>
<rect x="133.6" y="103.9" width="0.8" height="0.8" fill="#b0b0b0" opacity="0.9"/>
<rect x="131.4" y="105.6" width="0.8" height="0.8" fill="#9a9a9a" opacity="0.9"/>
<rect x="124.6" y="106.5" width="0.8" height="0.8" fill="#949494" opacity="0.9"/>
<rect x="120.4" y="101.2" width="0.8" height="0.8" fill="#d3d3d3" opacity="0.9"/>
<rect x="121.6" y="103.1" width="0.8" height="0.8" fill="#a8a8a8" opacity="0.9"/>
<rect x="141.5" y="99.7" width="0.8" height="0.8" fill="#cecece" opacity="0.9"/>
<rect x="120.9" y="103.9" width="0.8" height="0.8" fill="#989898" opacity="0.9"/>
<rect x="136.7" y="106.4" width="0.8" height="0.8" fill="#979797" opacity="0.9"/>
<rect x="135.7" y="100.1" width="0.8" height="0.8" fill="#d6d6d6" opacity="0.9"/>
<rect x="138.5" y="101.5" width="0.8" height="0.8" fill="#bbbbbb" opacity="0.9"/>
<rect x="126.4" y="102.2" width="0.8" height="0.8" fill="#b1b1b1" opacity="0.9"/>
<rect x="138.6" y="106.8" width="0.8" height="0.8" fill="#a3a3a3" opacity="0.9"/>
<rect x="139.6" y="105.4" width="0.8" height="0.8" fill="#8d8d8d" opacity="0.9"/>
<rect x="137.0" y="107.9" width="0.8" height="0.8" fill="#8e8e8e" opacity="0.9"/>
<rect x="118.4" y="101.2" width="0.8" height="0.8" fill="#d0d0d0" opacity="0.9"/>
<rect x="134.2" y="105.7" width="0.8" height="0.8" fill="#8b8b8b" opacity="0.9"/>
<rect x="127.0" y="100.1" width="0.8" height="0.8" fill="#bfbfbf" opacity="0.9"/>
<rect x="133.8" y="100.6" width="0.8" height="0.8" fill="#aaaaaa" opacity="0.9"/>
<rect x="118.5" y="102.2" width="0.8" height="0.8" fill="#a7a7a7" opacity="0.9"/>
<rect x="126.5" y="105.9" width="0.8" height="0.8" fill="#939393" opacity="0.9"/>
<rect x="124.7" y="100.4" width="0.8" height="0.8" fill="#c2c2c2" opacity="0.9"/>
<rect x="141.6" y="101.4" width="0.8" height="0.8" fill="#b9b9b9" opacity="0.9"/>
<rect x="140.4" y="101.6" width="0.8" height="0.8" fill="#cecece" opacity="0.9"/>
<rect x="121.3" y="106.1" width="0.8" height="0.8" fill="#818181" opacity="0.9"/>
<rect x="118.1" y="100.5" width="0.8" height="0.8" fill="#b6b6b6" opacity="0.9"/>
<rect x="125.7" y="103.3" width="0.8" height="0.8" fill="#c1c1c1" opacity="0.9"/>
<rect x="123.1" y="107.8" width="0.8" height="0.8" fill="#959595" opacity="0.9"/>
<rect x="138.4" y="102.0" width="0.8" height="0.8" fill="#a0a0a0" opacity="0.9"/>
<rect x="136.6" y="104.9" width="0.8" height="0.8" fill="#9b9b9b" opacity="0.9"/>
<rect x="121.4" y="99.7" width="0.8" height="0.8" fill="#d0d0d0" opacity="0.9"/>
<rect x="142.9" y="109.6" width="0.8" height="0.8" fill="#6f6f6f" opacity="0.9"/>
<rect x="135.5" y="113.1" width="0.8" height="0.8" fill="#aeaeae" opacity="0.9"/>
<rect x="142.1" y="108.3" width="0.8" height="0.8" fill="#838383" opacity="0.9"/>
<rect x="139.1" y="115.3" width="0.8" height="0.8" fill="#a3a3a3" opacity="0.9"/>
<rect x="137.7" y="127.6" width="0.8" height="0.8" fill="#c9c9c9" opacity="0.9"/>
<rect x="138.4" y="113.9" width="0.8" height="0.8" fill="#e0e0e0" opacity="0.9"/>
<rect x="134.4" y="111.5" width="0.8" height="0.8" fill="#d3d3d3" opacity="0.9"/>
<rect x="140.9" y="106.4" width="0.8" height="0.8" fill="#7f7f7f" opacity="0.9"/>
<rect x="139.6" y="111.4" width="0.8" height="0.8" fill="#a5a5a5" opacity="0.9"/>
<rect x="141.7" y="123.1" width="0.8" height="0.8" fill="#747474" opacity="0.9"/>
<rect x="144.9" y="113.4" width="0.8" height="0.8" fill="#dedede" opacity="0.9"/>
<rect x="135.2" y="128.5" width="0.8" height="0.8" fill="#7f7f7f" opacity="0.9"/>
<rect x="139.8" y="106.1" width="0.8" height="0.8" fill="#8a8a8a" opacity="0.9"/>
<rect x="141.5" y="109.5" width="0.8" height="0.8" fill="#cccccc" opacity="0.9"/>
<rect x="140.0" y="129.3" width="0.8" height="0.8" fill="#b1b1b1" opacity="0.9"/>
<rect x="137.9" y="117.7" width="0.8" height="0.8" fill="#777777" opacity="0.9"/>
<rect x="137.8" y="111.1" width="0.8" height="0.8" fill="#dfdfdf" opacity="0.9"/>
<rect x="136.5" y="107.7" width="0.8" height="0.8" fill="#c8c8c8" opacity="0.9"/>
<rect x="135.9" y="112.2" width="0.8" height="0.8" fill="#767676" opacity="0.9"/>
<rect x="144.6" y="110.6" width="0.8" height="0.8" fill="#747474" opacity="0.9"/>
<rect x="138.5" y="119.1" width="0.8" height="0.8" fill="#9c9c9c" opacity="0.9"/>
<rect x="136.9" y="113.7" width="0.8" height="0.8" fill="#737373" opacity="0.9"/>
<rect x="141.2" y="118.8" width="0.8" height="0.8" fill="#b4b4b4" opacity="0.9"/>
<rect x="137.6" y="115.6" width="0.8" height="0.8" fill="#dddddd" opacity="0.9"/>
<rect x="142.2" y="112.3" width="0.8" height="0.8" fill="#a4a4a4" opacity="0.9"/>
<rect x="137.5" y="115.9" width="0.8" height="0.8" fill="#818181" opacity="0.9"/>
<rect x="138.3" y="115.1" width="0.8" height="0.8" fill="#a2a2a2" opacity="0.9"/>
<rect x="142.8" y="127.1" width="0.8" height="0.8" fill="#bfbfbf" opacity="0.9"/>
<rect x="134.1" y="120.3" width="0.8" height="0.8" fill="#8e8e8e" opacity="0.9"/>
<rect x="141.6" y="123.2" width="0.8" height="0.8" fill="#8c8c8c" opacity="0.9"/>
<rect x="143.1" y="121.6" width="0.8" height="0.8" fill="#797979" opacity="0.9"/>
<rect x="143.3" y="124.4" width="0.8" height="0.8" fill="#c9c9c9" opacity="0.9"/>
<rect x="134.5" y="122.3" width="0.8" height="0.8" fill="#979797" opacity="0.9"/>
<rect x="141.5" y="116.4" width="0.8" height="0.8" fill="#c3c3c3" opacity="0.9"/>
<rect x="137.5" y="128.8" width="0.8" height="0.8" fill="#6e6e6e" opacity="0.9"/>
<rect x="139.2" y="121.2" width="0.8" height="0.8" fill="#aaaaaa" opacity="0.9"/>
<rect x="139.6" y="119.9" width="0.8" height="0.8" fill="#9e9e9e" opacity="0.9"/>
<rect x="136.6" y="120.8" width="0.8" height="0.8" fill="#cdcdcd" opacity="0.9"/>
<rect x="143.6" y="114.3" width="0.8" height="0.8" fill="#767676" opacity="0.9"/>
<rect x="138.3" y="118.4" width="0.8" height="0.8" fill="#bcbcbc" opacity="0.9"/>
<rect x="141.3" y="125.4" width="0.8" height="0.8" fill="#777777" opacity="0.9"/>
<rect x="140.9" y="118.8" width="0.8" height="0.8" fill="#8a8a8a" opacity="0.9"/>
<rect x="144.2" y="124.0" width="0.8" height="0.8" fill="#8f8f8f" opacity="0.9"/>
<rect x="144.0" y="117.1" width="0.8" height="0.8" fill="#cacaca" opacity="0.9"/>
<rect x="137.8" y="119.9" width="0.8" height="0.8" fill="#b7b7b7" opacity="0.9"/>
<rect x="136.4" y="109.3" width="0.8" height="0.8" fill="#cecece" opacity="0.9"/>
<rect x="139.8" y="118.3" width="0.8" height="0.8" fill="#b1b1b1" opacity="0.9"/>
<rect x="135.9" y="114.6" width="0.8" height="0.8" fill="#c4c4c4" opacity="0.9"/>
<rect x="135.9" y="125.3" width="0.8" height="0.8" fill="#a8a8a8" opacity="0.9"/>
<rect x="136.0" y="128.3" width="0.8" height="0.8" fill="#dbdbdb" opacity="0.9"/>
<rect x="143.8" y="126.4" width="0.8" height="0.8" fill="#737373" opacity="0.9"/>
<rect x="137.5" y="114.5" width="0.8" height="0.8" fill="#dcdcdc" opacity="0.9"/>
<rect x="143.0" y="108.9" width="0.8" height="0.8" fill="#818181" opacity="0.9"/>
<rect x="141.7" y="114.8" width="0.8" height="0.8" fill="#9c9c9c" opacity="0.9"/>
<rect x="137.9" y="124.9" width="0.8" height="0.8" fill="#b0b0b0" opacity="0.9"/>
<rect x="137.3" y="121.6" width="0.8" height="0.8" fill="#919191" opacity="0.9"/>
<rect x="138.4" y="129.4" width="0.8" height="0.8" fill="#c6c6c6" opacity="0.9"/>
<rect x="135.2" y="120.9" width="0.8" height="0.8" fill="#cbcbcb" opacity="0.9"/>
<rect x="142.8" y="123.8" width="0.8" height="0.8" fill="#818181" opacity="0.9"/>
<rect x="134.1" y="109.1" width="0.8" height="0.8" fill="#acacac" opacity="0.9"/>
<rect x="139.7" y="111.6" width="0.8" height="0.8" fill="#9d9d9d" opacity="0.9"/>
<rect x="139.8" y="124.8" width="0.8" height="0.8" fill="#8e8e8e" opacity="0.9"/>
<rect x="134.2" y="110.7" width="0.8" height="0.8" fill="#b7b7b7" opacity="0.9"/>
<rect x="136.9" y="119.9" width="0.8" height="0.8" fill="#959595" opacity="0.9"/>
<rect x="141.9" y="112.5" width="0.8" height="0.8" fill="#979797" opacity="0.9"/>
<rect x="136.8" y="112.2" width="0.8" height="0.8" fill="#a6a6a6" opacity="0.9"/>
<rect x="135.0" y="120.9" width="0.8" height="0.8" fill="#dbdbdb" opacity="0.9"/>
<rect x="135.0" y="109.0" width="0.8" height="0.8" fill="#d3d3d3" opacity="0.9"/>
<rect x="137.2" y="124.4" width="0.8" height="0.8" fill="#737373" opacity="0.9"/>
<rect x="141.9" y="114.8" width="0.8" height="0.8" fill="#737373" opacity="0.9"/>
<rect x="141.8" y="112.9" width="0.8" height="0.8" fill="#a2a2a2" opacity="0.9"/>
<rect x="138.7" y="120.3" width="0.8" height="0.8" fill="#8e8e8e" opacity="0.9"/>
<rect x="137.9" y="115.1" width="0.8" height="0.8" fill="#b8b8b8" opacity="0.9"/>
<rect x="135.4" y="120.5" width="0.8" height="0.8" fill="#dbdbdb" opacity="0.9"/>
<rect x="141.8" y="114.8" width="0.8" height="0.8" fill="#c3c3c3" opacity="0.9"/>
<rect x="136.2" y="126.2" width="0.8" height="0.8" fill="#787878" opacity="0.9"/>
<rect x="142.3" y="114.9" width="0.8" height="0.8" fill="#b1b1b1" opacity="0.9"/>
<rect x="138.6" y="128.0" width="0.8" height="0.8" fill="#c0c0c0" opacity="0.9"/>
<rect x="142.3" y="106.6" width="0.8" height="0.8" fill="#b9b9b9" opacity="0.9"/>
<rect x="140.2" y="128.0" width="0.8" height="0.8" fill="#c7c7c7" opacity="0.9"/>
<rect x="143.2" y="115.7" width="0.8" height="0.8" fill="#aaaaaa" opacity="0.9"/>
<rect x="135.9" y="107.5" width="0.8" height="0.8" fill="#a0a0a0" opacity="0.9"/>
<rect x="139.4" y="118.0" width="0.8" height="0.8" fill="#d7d7d7" opacity="0.9"/>
<rect x="134.1" y="111.5" width="0.8" height="0.8" fill="#878787" opacity="0.9"/>
<rect x="138.4" y="107.0" width="0.8" height="0.8" fill="#c5c5c5" opacity="0.9"/>
<rect x="137.2" y="113.8" width="0.8" height="0.8" fill="#9f9f9f" opacity="0.9"/>
<rect x="142.5" y="108.8" width="0.8" height="0.8" fill="#8a8a8a" opacity="0.9"/>
<rect x="143.3" y="119.4" width="0.8" height="0.8" fill="#6f6f6f" opacity="0.9"/>
<rect x="135.1" y="108.1" width="0.8" height="0.8" fill="#cecece" opacity="0.9"/>
<rect x="136.4" y="116.7" width="0.8" height="0.8" fill="#d7d7d7" opacity="0.9"/>
<rect x="141.5" y="122.7" width="0.8" height="0.8" fill="#ababab" opacity="0.9"/>
<rect x="143.5" y="118.9" width="0.8" height="0.8" fill="#cdcdcd" opacity="0.9"/>
<rect x="138.6" y="119.7" width="0.8" height="0.8" fill="#a2a2a2" opacity="0.9"/>
<rect x="143.0" y="126.5" width="0.8" height="0.8" fill="#808080" opacity="0.9"/>
<rect x="137.5" y="110.5" width="0.8" height="0.8" fill="#6e6e6e" opacity="0.9"/>
<rect x="136.0" y="118.7" width="0.8" height="0.8" fill="#b0b0b0" opacity="0.9"/>
<rect x="136.9" y="113.4" width="0.8" height="0.8" fill="#8e8e8e" opacity="0.9"/>
<rect x="141.3" y="113.0" width="0.8" height="0.8" fill="#a0a0a0" opacity="0.9"/>
<rect x="139.6" y="115.9" width="0.8" height="0.8" fill="#747474" opacity="0.9"/>
<rect x="137.4" y="111.8" width="0.8" height="0.8" fill="#9e9e9e" opacity="0.9"/>
<rect x="142.8" y="126.1" width="0.8" height="0.8" fill="#8e8e8e" opacity="0.9"/>
<rect x="137.4" y="109.1" width="0.8" height="0.8" fill="#888888" opacity="0.9"/>
<rect x="139.9" y="114.8" width="0.8" height="0.8" fill="#a9a9a9" opacity="0.9"/>
<rect x="141.2" y="122.7" width="0.8" height="0.8" fill="#808080" opacity="0.9"/>
<rect x="138.0" y="124.8" width="0.8" height="0.8" fill="#878787" opacity="0.9"/>
<rect x="139.0" y="122.6" width="0.8" height="0.8" fill="#c2c2c2" opacity="0.9"/>
<rect x="134.6" y="113.4" width="0.8" height="0.8" fill="#b2b2b2" opacity="0.9"/>
<rect x="134.7" y="128.4" width="0.8" height="0.8" fill="#d7d7d7" opacity="0.9"/>
<rect x="137.6" y="112.4" width="0.8" height="0.8" fill="#d3d3d3" opacity="0.9"/>
<rect x="138.8" y="110.7" width="0.8" height="0.8" fill="#888888" opacity="0.9"/>
<rect x="142.8" y="119.9" width="0.8" height="0.8" fill="#a8a8a8" opacity="0.9"/>
<rect x="138.5" y="123.1" width="0.8" height="0.8" fill="#888888" opacity="0.9"/>
<rect x="143.7" y="107.4" width="0.8" height="0.8" fill="#a5a5a5" opacity="0.9"/>
<rect x="143.4" y="108.9" width="0.8" height="0.8" fill="#7f7f7f" opacity="0.9"/>
<rect x="143.5" y="107.7" width="0.8" height="0.8" fill="#bababa" opacity="0.9"/>
<rect x="139.5" y="106.3" width="0.8" height="0.8" fill="#cacaca" opacity="0.9"/>
<rect x="140.2" y="124.8" width="0.8" height="0.8" fill="#adadad" opacity="0.9"/>
<rect x="136.4" y="122.9" width="0.8" height="0.8" fill="#cdcdcd" opacity="0.9"/>
<rect x="137.2" y="111.0" width="0.8" height="0.8" fill="#d9d9d9" opacity="0.9"/>
<rect x="135.7" y="124.3" width="0.8" height="0.8" fill="#c9c9c9" opacity="0.9"/>
<rect x="136.3" y="108.4" width="0.8" height="0.8" fill="#7a7a7a" opacity="0.9"/>
<rect x="136.2" y="108.2" width="0.8" height="0.8" fill="#747474" opacity="0.9"/>
<rect x="138.6" y="121.5" width="0.8" height="0.8" fill="#8e8e8e" opacity="0.9"/>
<rect x="141.8" y="116.4" width="0.8" height="0.8" fill="#a4a4a4" opacity="0.9"/>
<rect x="135.7" y="107.3" width="0.8" height="0.8" fill="#c7c7c7" opacity="0.9"/>
<rect x="135.5" y="109.8" width="0.8" height="0.8" fill="#a7a7a7" opacity="0.9"/>
<rect x="137.2" y="111.5" width="0.8" height="0.8" fill="#b8b8b8" opacity="0.9"/>
<rect x="142.8" y="122.6" width="0.8" height="0.8" fill="#cacaca" opacity="0.9"/>
<rect x="135.7" y="127.4" width="0.8" height="0.8" fill="#979797" opacity="0.9"/>
<rect x="140.0" y="111.0" width="0.8" height="0.8" fill="#d4d4d4" opacity="0.9"/>
<rect x="141.3" y="111.4" width="0.8" height="0.8" fill="#727272" opacity="0.9"/>
<rect x="137.6" y="109.7" width="0.8" height="0.8" fill="#939393" opacity="0.9"/>
<rect x="136.5" y="118.8" width="0.8" height="0.8" fill="#797979" opacity="0.9"/>
<rect x="136.2" y="109.5" width="0.8" height="0.8" fill="#858585" opacity="0.9"/>
<rect x="138.7" y="122.0" width="0.8" height="0.8" fill="#7c7c7c" opacity="0.9"/>
<rect x="134.4" y="114.3" width="0.8" height="0.8" fill="#c2c2c2" opacity="0.9"/>
<rect x="144.2" y="129.4" width="0.8" height="0.8" fill="#b1b1b1" opacity="0.9"/>
<rect x="139.8" y="112.8" width="0.8" height="0.8" fill="#9a9a9a" opacity="0.9"/>
<rect x="134.2" y="124.4" width="0.8" height="0.8" fill="#dfdfdf" opacity="0.9"/>
<rect x="144.2" y="108.2" width="0.8" height="0.8" fill="#acacac" opacity="0.9"/>
<rect x="137.1" y="113.1" width="0.8" height="0.8" fill="#b8b8b8" opacity="0.9"/>
<rect x="139.9" y="108.1" width="0.8" height="0.8" fill="#7f7f7f" opacity="0.9"/>
<rect x="139.2" y="124.0" width="0.8" height="0.8" fill="#cfcfcf" opacity="0.9"/>
<rect x="143.3" y="111.3" width="0.8" height="0.8" fill="#949494" opacity="0.9"/>
<rect x="134.4" y="120.1" width="0.8" height="0.8" fill="#6e6e6e" opacity="0.9"/>
<rect x="137.8" y="128.2" width="0.8" height="0.8" fill="#c2c2c2" opacity="0.9"/>
<rect x="137.3" y="110.0" width="0.8" height="0.8" fill="#9a9a9a" opacity="0.9"/>
<rect x="138.9" y="111.8" width="0.8" height="0.8" fill="#cdcdcd" opacity="0.9"/>
<rect x="138.0" y="108.6" width="0.8" height="0.8" fill="#d8d8d8" opacity="0.9"/>
<rect x="137.3" y="107.6" width="0.8" height="0.8" fill="#b5b5b5" opacity="0.9"/>
<defs><linearGradient id="g4" x1="118.0" x2="134.8" y1="0" y2="0" gradientUnits="userSpaceOnUse"><stop offset="0.000" stop-color="#333"/><stop offset="0.119" stop-color="#777"/><stop offset="0.298" stop-color="#bbb"/><stop offset="0.536" stop-color="#d5d5d5"/><stop offset="0.774" stop-color="#c0c0c0"/><stop offset="0.923" stop-color="#777"/><stop offset="1.000" stop-color="#444"/></linearGradient></defs>
<path d="M118.0,129.9 L118.0,109.8 Q118.0,106.8 121.0,106.8 L131.8,106.8 Q134.8,106.8 134.8,109.8 L134.8,129.9 Z" fill="url(#g4)" filter="url(#blur04)"/>
<path d="M118.0,129.9 L118.0,109.8 Q118.0,106.8 121.0,106.8 L131.8,106.8 Q134.8,106.8 134.8,109.8 L134.8,129.9 Z" fill="url(#vtop)"/>
<path d="M118.85,129.9 L118.85,109.8 Q118.85,107.64999999999999 121.0,107.64999999999999 L131.8,107.64999999999999 Q133.95000000000002,107.64999999999999 133.95000000000002,109.8 L133.95000000000002,129.9" fill="none" stroke="#333" stroke-width="2.3" filter="url(#blur1)"/>
<rect x="125.6" y="107.1" width="0.9" height="0.9" fill="#0e0e0e" opacity="0.8"/>
<rect x="131.6" y="106.7" width="0.9" height="0.9" fill="#3b3b3b" opacity="0.8"/>
<rect x="118.0" y="105.1" width="0.9" height="0.9" fill="#4a4a4a" opacity="0.8"/>
<rect x="119.2" y="106.8" width="0.9" height="0.9" fill="#101010" opacity="0.8"/>
<rect x="124.9" y="107.3" width="0.9" height="0.9" fill="#090909" opacity="0.8"/>
<rect x="124.1" y="106.9" width="0.9" height="0.9" fill="#141414" opacity="0.8"/>
<rect x="123.9" y="106.9" width="0.9" height="0.9" fill="#0b0b0b" opacity="0.8"/>
<rect x="123.4" y="107.4" width="0.9" height="0.9" fill="#3d3d3d" opacity="0.8"/>
<rect x="122.9" y="105.7" width="0.9" height="0.9" fill="#0d0d0d" opacity="0.8"/>
<rect x="133.2" y="105.3" width="0.9" height="0.9" fill="#3f3f3f" opacity="0.8"/>
<rect x="122.3" y="106.5" width="0.9" height="0.9" fill="#292929" opacity="0.8"/>
<rect x="125.8" y="105.5" width="0.9" height="0.9" fill="#444444" opacity="0.8"/>
<rect x="118.2" y="105.7" width="0.9" height="0.9" fill="#191919" opacity="0.8"/>
<rect x="122.5" y="106.6" width="0.9" height="0.9" fill="#101010" opacity="0.8"/>
<rect x="133.8" y="107.0" width="0.9" height="0.9" fill="#444444" opacity="0.8"/>
<rect x="126.4" y="107.5" width="0.9" height="0.9" fill="#010101" opacity="0.8"/>
<rect x="119.3" y="105.2" width="0.9" height="0.9" fill="#494949" opacity="0.8"/>
<rect x="121.2" y="107.1" width="0.9" height="0.9" fill="#0b0b0b" opacity="0.8"/>
<rect x="130.9" y="105.4" width="0.9" height="0.9" fill="#212121" opacity="0.8"/>
<rect x="135.4" y="106.2" width="0.9" height="0.9" fill="#4f4f4f" opacity="0.8"/>
<rect x="126.7" y="105.8" width="0.9" height="0.9" fill="#0f0f0f" opacity="0.8"/>
<rect x="118.9" y="106.6" width="0.9" height="0.9" fill="#1d1d1d" opacity="0.8"/>
<rect x="121.8" y="107.2" width="0.9" height="0.9" fill="#414141" opacity="0.8"/>
<rect x="130.2" y="105.2" width="0.9" height="0.9" fill="#1f1f1f" opacity="0.8"/>
<rect x="118.7" y="105.9" width="0.9" height="0.9" fill="#0c0c0c" opacity="0.8"/>
<rect x="118.1" y="106.7" width="0.9" height="0.9" fill="#161616" opacity="0.8"/>
<rect x="132.1" y="106.0" width="0.9" height="0.9" fill="#3b3b3b" opacity="0.8"/>
<rect x="128.1" y="105.5" width="0.9" height="0.9" fill="#282828" opacity="0.8"/>
<rect x="134.3" y="106.2" width="0.9" height="0.9" fill="#343434" opacity="0.8"/>
<rect x="118.0" y="107.2" width="0.9" height="0.9" fill="#121212" opacity="0.8"/>
<rect x="130.6" y="106.9" width="0.9" height="0.9" fill="#131313" opacity="0.8"/>
<rect x="131.8" y="107.2" width="0.9" height="0.9" fill="#1a1a1a" opacity="0.8"/>
<rect x="121.0" y="105.6" width="0.9" height="0.9" fill="#2a2a2a" opacity="0.8"/>
<rect x="130.2" y="105.2" width="0.9" height="0.9" fill="#000000" opacity="0.8"/>
<rect x="131.6" y="106.3" width="0.9" height="0.9" fill="#3f3f3f" opacity="0.8"/>
<rect x="126.9" y="105.9" width="0.9" height="0.9" fill="#080808" opacity="0.8"/>
<rect x="130.9" y="106.8" width="0.9" height="0.9" fill="#191919" opacity="0.8"/>
<rect x="133.0" y="105.1" width="0.9" height="0.9" fill="#2e2e2e" opacity="0.8"/>
<rect x="131.6" y="105.3" width="0.9" height="0.9" fill="#2c2c2c" opacity="0.8"/>
<rect x="127.9" y="107.2" width="0.9" height="0.9" fill="#3f3f3f" opacity="0.8"/>
<rect x="129.5" y="107.1" width="0.9" height="0.9" fill="#111111" opacity="0.8"/>
<rect x="122.1" y="106.9" width="0.9" height="0.9" fill="#262626" opacity="0.8"/>
<rect x="133.7" y="107.1" width="0.9" height="0.9" fill="#4b4b4b" opacity="0.8"/>
<rect x="120.4" y="106.1" width="0.9" height="0.9" fill="#414141" opacity="0.8"/>
<rect x="122.8" y="107.7" width="0.9" height="0.9" fill="#444444" opacity="0.8"/>
<rect x="129.2" y="106.8" width="0.9" height="0.9" fill="#080808" opacity="0.8"/>
<rect x="134.8" y="107.2" width="0.9" height="0.9" fill="#202020" opacity="0.8"/>
<rect x="130.9" y="107.4" width="0.9" height="0.9" fill="#1e1e1e" opacity="0.8"/>
<rect x="121.0" y="106.3" width="0.9" height="0.9" fill="#1e1e1e" opacity="0.8"/>
<rect x="133.2" y="106.6" width="0.9" height="0.9" fill="#060606" opacity="0.8"/>
<rect x="124.5" y="107.2" width="0.9" height="0.9" fill="#505050" opacity="0.8"/>
<rect x="129.7" y="107.6" width="0.9" height="0.9" fill="#303030" opacity="0.8"/>
<rect x="124.7" y="105.2" width="0.9" height="0.9" fill="#2b2b2b" opacity="0.8"/>
<rect x="129.3" y="107.5" width="0.9" height="0.9" fill="#363636" opacity="0.8"/>
<rect x="131.7" y="105.0" width="0.9" height="0.9" fill="#3e3e3e" opacity="0.8"/>
<rect x="128.3" y="107.7" width="0.9" height="0.9" fill="#3c3c3c" opacity="0.8"/>
<rect x="124.9" y="106.7" width="0.9" height="0.9" fill="#3a3a3a" opacity="0.8"/>
<rect x="120.0" y="106.5" width="0.9" height="0.9" fill="#0a0a0a" opacity="0.8"/>
<rect x="123.8" y="107.4" width="0.9" height="0.9" fill="#4f4f4f" opacity="0.8"/>
<rect x="118.0" y="105.9" width="0.9" height="0.9" fill="#222222" opacity="0.8"/>
<rect x="120.8" y="107.5" width="0.9" height="0.9" fill="#343434" opacity="0.8"/>
<rect x="129.3" y="107.3" width="0.9" height="0.9" fill="#0f0f0f" opacity="0.8"/>
<rect x="121.3" y="106.8" width="0.9" height="0.9" fill="#303030" opacity="0.8"/>
<rect x="132.2" y="105.5" width="0.9" height="0.9" fill="#222222" opacity="0.8"/>
<rect x="123.4" y="105.4" width="0.9" height="0.9" fill="#151515" opacity="0.8"/>
<rect x="121.4" y="107.5" width="0.9" height="0.9" fill="#4e4e4e" opacity="0.8"/>
<rect x="133.3" y="107.7" width="0.9" height="0.9" fill="#272727" opacity="0.8"/>
<rect x="118.0" y="128.9" width="0.8" height="0.8" fill="#404040" opacity="0.7"/>
<rect x="118.7" y="120.8" width="0.8" height="0.8" fill="#141414" opacity="0.7"/>
<rect x="117.7" y="107.0" width="0.8" height="0.8" fill="#161616" opacity="0.7"/>
<rect x="117.0" y="112.5" width="0.8" height="0.8" fill="#484848" opacity="0.7"/>
<rect x="118.7" y="112.6" width="0.8" height="0.8" fill="#2d2d2d" opacity="0.7"/>
<rect x="118.4" y="129.5" width="0.8" height="0.8" fill="#414141" opacity="0.7"/>
<rect x="118.4" y="109.9" width="0.8" height="0.8" fill="#202020" opacity="0.7"/>
<rect x="118.4" y="108.6" width="0.8" height="0.8" fill="#4f4f4f" opacity="0.7"/>
<rect x="117.6" y="113.0" width="0.8" height="0.8" fill="#252525" opacity="0.7"/>
<rect x="117.7" y="122.1" width="0.8" height="0.8" fill="#505050" opacity="0.7"/>
<rect x="118.4" y="128.5" width="0.8" height="0.8" fill="#565656" opacity="0.7"/>
<rect x="116.9" y="121.9" width="0.8" height="0.8" fill="#3f3f3f" opacity="0.7"/>
<rect x="117.7" y="129.4" width="0.8" height="0.8" fill="#070707" opacity="0.7"/>
<rect x="118.9" y="127.3" width="0.8" height="0.8" fill="#0f0f0f" opacity="0.7"/>
<rect x="118.1" y="117.1" width="0.8" height="0.8" fill="#414141" opacity="0.7"/>
<rect x="118.9" y="123.6" width="0.8" height="0.8" fill="#3a3a3a" opacity="0.7"/>
<rect x="116.9" y="114.3" width="0.8" height="0.8" fill="#111111" opacity="0.7"/>
<rect x="116.8" y="128.4" width="0.8" height="0.8" fill="#222222" opacity="0.7"/>
<rect x="133.9" y="120.4" width="0.8" height="0.8" fill="#494949" opacity="0.7"/>
<rect x="134.8" y="129.8" width="0.8" height="0.8" fill="#161616" opacity="0.7"/>
<rect x="135.4" y="121.6" width="0.8" height="0.8" fill="#232323" opacity="0.7"/>
<rect x="135.1" y="112.4" width="0.8" height="0.8" fill="#454545" opacity="0.7"/>
<rect x="133.7" y="119.5" width="0.8" height="0.8" fill="#343434" opacity="0.7"/>
<rect x="135.2" y="125.4" width="0.8" height="0.8" fill="#565656" opacity="0.7"/>
<rect x="135.1" y="118.2" width="0.8" height="0.8" fill="#5a5a5a" opacity="0.7"/>
<rect x="134.5" y="127.7" width="0.8" height="0.8" fill="#292929" opacity="0.7"/>
<rect x="134.0" y="120.1" width="0.8" height="0.8" fill="#060606" opacity="0.7"/>
<rect x="135.5" y="114.8" width="0.8" height="0.8" fill="#111111" opacity="0.7"/>
<rect x="134.1" y="125.5" width="0.8" height="0.8" fill="#070707" opacity="0.7"/>
<rect x="134.0" y="123.9" width="0.8" height="0.8" fill="#151515" opacity="0.7"/>
<rect x="135.2" y="127.8" width="0.8" height="0.8" fill="#4b4b4b" opacity="0.7"/>
<rect x="134.3" y="115.6" width="0.8" height="0.8" fill="#2e2e2e" opacity="0.7"/>
<rect x="135.9" y="111.1" width="0.8" height="0.8" fill="#272727" opacity="0.7"/>
<rect x="135.7" y="117.8" width="0.8" height="0.8" fill="#4f4f4f" opacity="0.7"/>
<rect x="134.4" y="116.9" width="0.8" height="0.8" fill="#0d0d0d" opacity="0.7"/>
<rect x="135.2" y="115.2" width="0.8" height="0.8" fill="#282828" opacity="0.7"/>
<defs><linearGradient id="g5" x1="144.2" x2="153.4" y1="0" y2="0" gradientUnits="userSpaceOnUse"><stop offset="0.000" stop-color="#333"/><stop offset="0.250" stop-color="#666"/><stop offset="0.522" stop-color="#6e6e6e"/><stop offset="0.793" stop-color="#666"/><stop offset="1.000" stop-color="#333"/></linearGradient></defs>
<path d="M144.2,129.9 L144.2,114.2 Q144.2,111.2 147.2,111.2 L150.4,111.2 Q153.4,111.2 153.4,114.2 L153.4,129.9 Z" fill="url(#g5)" filter="url(#blur04)"/>
<path d="M144.2,129.9 L144.2,114.2 Q144.2,111.2 147.2,111.2 L150.4,111.2 Q153.4,111.2 153.4,114.2 L153.4,129.9 Z" fill="url(#vtop)"/>
<path d="M144.79999999999998,129.9 L144.79999999999998,114.2 Q144.79999999999998,111.8 147.2,111.8 L150.4,111.8 Q152.8,111.8 152.8,114.2 L152.8,129.9" fill="none" stroke="#333" stroke-width="1.8" filter="url(#blur08)"/>
<rect x="147.6" y="112.1" width="0.9" height="0.9" fill="#222222" opacity="0.8"/>
<rect x="144.8" y="112.0" width="0.9" height="0.9" fill="#4f4f4f" opacity="0.8"/>
<rect x="148.3" y="111.7" width="0.9" height="0.9" fill="#141414" opacity="0.8"/>
<rect x="151.7" y="110.3" width="0.9" height="0.9" fill="#131313" opacity="0.8"/>
<rect x="146.5" y="110.9" width="0.9" height="0.9" fill="#474747" opacity="0.8"/>
<rect x="152.4" y="110.6" width="0.9" height="0.9" fill="#090909" opacity="0.8"/>
<rect x="146.5" y="110.4" width="0.9" height="0.9" fill="#323232" opacity="0.8"/>
<rect x="149.1" y="110.2" width="0.9" height="0.9" fill="#505050" opacity="0.8"/>
<rect x="144.9" y="110.7" width="0.9" height="0.9" fill="#010101" opacity="0.8"/>
<rect x="144.0" y="111.7" width="0.9" height="0.9" fill="#484848" opacity="0.8"/>
<rect x="146.8" y="111.1" width="0.9" height="0.9" fill="#2e2e2e" opacity="0.8"/>
<rect x="146.4" y="110.1" width="0.9" height="0.9" fill="#080808" opacity="0.8"/>
<rect x="152.7" y="109.7" width="0.9" height="0.9" fill="#4d4d4d" opacity="0.8"/>
<rect x="150.7" y="110.6" width="0.9" height="0.9" fill="#0e0e0e" opacity="0.8"/>
<rect x="153.3" y="109.9" width="0.9" height="0.9" fill="#161616" opacity="0.8"/>
<rect x="153.7" y="111.2" width="0.9" height="0.9" fill="#0f0f0f" opacity="0.8"/>
<rect x="151.7" y="110.5" width="0.9" height="0.9" fill="#2b2b2b" opacity="0.8"/>
<rect x="147.8" y="110.8" width="0.9" height="0.9" fill="#2b2b2b" opacity="0.8"/>
<rect x="147.2" y="109.9" width="0.9" height="0.9" fill="#121212" opacity="0.8"/>
<rect x="149.1" y="110.9" width="0.9" height="0.9" fill="#242424" opacity="0.8"/>
<rect x="145.0" y="110.3" width="0.9" height="0.9" fill="#080808" opacity="0.8"/>
<rect x="153.2" y="109.6" width="0.9" height="0.9" fill="#000000" opacity="0.8"/>
<rect x="152.5" y="111.3" width="0.9" height="0.9" fill="#494949" opacity="0.8"/>
<rect x="148.1" y="110.0" width="0.9" height="0.9" fill="#232323" opacity="0.8"/>
<rect x="151.8" y="111.3" width="0.9" height="0.9" fill="#101010" opacity="0.8"/>
<rect x="145.2" y="111.3" width="0.9" height="0.9" fill="#1e1e1e" opacity="0.8"/>
<rect x="148.8" y="111.9" width="0.9" height="0.9" fill="#040404" opacity="0.8"/>
<rect x="144.8" y="126.6" width="0.8" height="0.8" fill="#535353" opacity="0.7"/>
<rect x="143.9" y="116.6" width="0.8" height="0.8" fill="#525252" opacity="0.7"/>
<rect x="144.7" y="124.4" width="0.8" height="0.8" fill="#4e4e4e" opacity="0.7"/>
<rect x="145.2" y="124.5" width="0.8" height="0.8" fill="#4d4d4d" opacity="0.7"/>
<rect x="144.5" y="120.7" width="0.8" height="0.8" fill="#4d4d4d" opacity="0.7"/>
<rect x="143.5" y="115.4" width="0.8" height="0.8" fill="#0c0c0c" opacity="0.7"/>
<rect x="143.9" y="121.8" width="0.8" height="0.8" fill="#0a0a0a" opacity="0.7"/>
<rect x="143.9" y="124.3" width="0.8" height="0.8" fill="#090909" opacity="0.7"/>
<rect x="143.3" y="129.0" width="0.8" height="0.8" fill="#1b1b1b" opacity="0.7"/>
<rect x="143.0" y="123.0" width="0.8" height="0.8" fill="#111111" opacity="0.7"/>
<rect x="144.1" y="120.6" width="0.8" height="0.8" fill="#393939" opacity="0.7"/>
<rect x="144.4" y="122.3" width="0.8" height="0.8" fill="#040404" opacity="0.7"/>
<rect x="143.1" y="126.7" width="0.8" height="0.8" fill="#0e0e0e" opacity="0.7"/>
<rect x="144.2" y="116.7" width="0.8" height="0.8" fill="#2b2b2b" opacity="0.7"/>
<rect x="154.5" y="121.1" width="0.8" height="0.8" fill="#1d1d1d" opacity="0.7"/>
<rect x="152.7" y="126.0" width="0.8" height="0.8" fill="#1a1a1a" opacity="0.7"/>
<rect x="152.9" y="129.4" width="0.8" height="0.8" fill="#494949" opacity="0.7"/>
<rect x="153.5" y="111.8" width="0.8" height="0.8" fill="#161616" opacity="0.7"/>
<rect x="152.3" y="120.6" width="0.8" height="0.8" fill="#363636" opacity="0.7"/>
<rect x="153.1" y="129.0" width="0.8" height="0.8" fill="#232323" opacity="0.7"/>
<rect x="153.9" y="122.1" width="0.8" height="0.8" fill="#333333" opacity="0.7"/>
<rect x="153.1" y="129.0" width="0.8" height="0.8" fill="#343434" opacity="0.7"/>
<rect x="152.7" y="127.4" width="0.8" height="0.8" fill="#070707" opacity="0.7"/>
<rect x="154.1" y="129.2" width="0.8" height="0.8" fill="#2a2a2a" opacity="0.7"/>
<rect x="153.8" y="115.9" width="0.8" height="0.8" fill="#525252" opacity="0.7"/>
<rect x="153.3" y="113.7" width="0.8" height="0.8" fill="#3a3a3a" opacity="0.7"/>
<rect x="154.5" y="127.7" width="0.8" height="0.8" fill="#4f4f4f" opacity="0.7"/>
<rect x="153.3" y="117.6" width="0.8" height="0.8" fill="#181818" opacity="0.7"/>
<ellipse cx="146.8" cy="103.3" rx="3.6" ry="7.6" transform="rotate(26 146.8 103.3)" fill="#e0e0e0"/>
<ellipse cx="146.8" cy="103.3" rx="3.6" ry="7.6" transform="rotate(26 146.8 103.3)" fill="none" stroke="#000" stroke-width="2.0"/>
<rect x="145.1" y="98.8" width="0.8" height="0.8" fill="#686868" opacity="0.9"/>
<rect x="144.9" y="106.9" width="0.8" height="0.8" fill="#525252" opacity="0.9"/>
<rect x="146.9" y="99.2" width="0.8" height="0.8" fill="#696969" opacity="0.9"/>
<rect x="148.8" y="99.2" width="0.8" height="0.8" fill="#757575" opacity="0.9"/>
<rect x="148.6" y="107.4" width="0.8" height="0.8" fill="#9e9e9e" opacity="0.9"/>
<rect x="148.5" y="97.7" width="0.8" height="0.8" fill="#6a6a6a" opacity="0.9"/>
<rect x="146.8" y="106.2" width="0.8" height="0.8" fill="#a0a0a0" opacity="0.9"/>
<rect x="147.5" y="103.1" width="0.8" height="0.8" fill="#a0a0a0" opacity="0.9"/>
<rect x="145.4" y="104.0" width="0.8" height="0.8" fill="#7d7d7d" opacity="0.9"/>
<rect x="146.2" y="97.5" width="0.8" height="0.8" fill="#666666" opacity="0.9"/>
<rect x="148.3" y="101.6" width="0.8" height="0.8" fill="#535353" opacity="0.9"/>
<rect x="148.9" y="102.0" width="0.8" height="0.8" fill="#5d5d5d" opacity="0.9"/>
<rect x="146.4" y="106.4" width="0.8" height="0.8" fill="#7e7e7e" opacity="0.9"/>
<rect x="148.8" y="102.2" width="0.8" height="0.8" fill="#5a5a5a" opacity="0.9"/>
<rect x="149.5" y="105.7" width="0.8" height="0.8" fill="#8c8c8c" opacity="0.9"/>
<rect x="149.4" y="107.7" width="0.8" height="0.8" fill="#5d5d5d" opacity="0.9"/>
<rect x="147.4" y="99.8" width="0.8" height="0.8" fill="#818181" opacity="0.9"/>
<rect x="145.7" y="99.8" width="0.8" height="0.8" fill="#525252" opacity="0.9"/>
<rect x="149.7" y="99.1" width="0.8" height="0.8" fill="#737373" opacity="0.9"/>
<rect x="149.7" y="107.8" width="0.8" height="0.8" fill="#878787" opacity="0.9"/>
<rect x="148.8" y="105.0" width="0.8" height="0.8" fill="#646464" opacity="0.9"/>
<rect x="149.0" y="106.3" width="0.8" height="0.8" fill="#616161" opacity="0.9"/>
<rect x="145.3" y="98.2" width="0.8" height="0.8" fill="#9a9a9a" opacity="0.9"/>
<rect x="147.4" y="97.3" width="0.8" height="0.8" fill="#5b5b5b" opacity="0.9"/>
<rect x="147.1" y="97.5" width="0.8" height="0.8" fill="#999999" opacity="0.9"/>
<rect x="118.45" y="85.15" width="44.50" height="43.80" fill="none" stroke="#000" stroke-width="1.9"/>
<rect x="20.20" y="137.20" width="46.00" height="46.00" fill="#fff" stroke="none"/>
<rect x="33.2" y="163.2" width="0.8" height="0.8" fill="#4b4b4b" opacity="0.9"/>
<rect x="35.1" y="146.7" width="0.8" height="0.8" fill="#a7a7a7" opacity="0.9"/>
<rect x="35.4" y="161.0" width="0.8" height="0.8" fill="#505050" opacity="0.9"/>
<rect x="41.0" y="157.7" width="0.8" height="0.8" fill="#585858" opacity="0.9"/>
<rect x="34.4" y="162.3" width="0.8" height="0.8" fill="#474747" opacity="0.9"/>
<rect x="31.6" y="153.5" width="0.8" height="0.8" fill="#909090" opacity="0.9"/>
<rect x="36.8" y="156.5" width="0.8" height="0.8" fill="#5b5b5b" opacity="0.9"/>
<rect x="37.2" y="163.4" width="0.8" height="0.8" fill="#545454" opacity="0.9"/>
<rect x="30.4" y="151.6" width="0.8" height="0.8" fill="#9e9e9e" opacity="0.9"/>
<rect x="27.0" y="152.1" width="0.8" height="0.8" fill="#9a9a9a" opacity="0.9"/>
<rect x="31.9" y="162.1" width="0.8" height="0.8" fill="#777777" opacity="0.9"/>
<rect x="34.6" y="163.3" width="0.8" height="0.8" fill="#454545" opacity="0.9"/>
<rect x="42.7" y="160.6" width="0.8" height="0.8" fill="#5c5c5c" opacity="0.9"/>
<rect x="38.5" y="148.1" width="0.8" height="0.8" fill="#aaaaaa" opacity="0.9"/>
<rect x="37.6" y="163.6" width="0.8" height="0.8" fill="#3a3a3a" opacity="0.9"/>
<rect x="42.5" y="148.6" width="0.8" height="0.8" fill="#808080" opacity="0.9"/>
<rect x="23.0" y="160.4" width="0.8" height="0.8" fill="#818181" opacity="0.9"/>
<rect x="26.6" y="151.6" width="0.8" height="0.8" fill="#acacac" opacity="0.9"/>
<rect x="35.4" y="145.9" width="0.8" height="0.8" fill="#9c9c9c" opacity="0.9"/>
<rect x="25.2" y="163.8" width="0.8" height="0.8" fill="#646464" opacity="0.9"/>
<rect x="24.2" y="144.6" width="0.8" height="0.8" fill="#c0c0c0" opacity="0.9"/>
<rect x="25.9" y="148.5" width="0.8" height="0.8" fill="#898989" opacity="0.9"/>
<rect x="32.8" y="162.6" width="0.8" height="0.8" fill="#6c6c6c" opacity="0.9"/>
<rect x="40.7" y="146.0" width="0.8" height="0.8" fill="#8b8b8b" opacity="0.9"/>
<rect x="39.9" y="154.1" width="0.8" height="0.8" fill="#999999" opacity="0.9"/>
<rect x="32.6" y="152.7" width="0.8" height="0.8" fill="#919191" opacity="0.9"/>
<rect x="38.8" y="163.1" width="0.8" height="0.8" fill="#3a3a3a" opacity="0.9"/>
<rect x="33.5" y="159.5" width="0.8" height="0.8" fill="#626262" opacity="0.9"/>
<rect x="22.2" y="150.0" width="0.8" height="0.8" fill="#797979" opacity="0.9"/>
<rect x="39.4" y="148.4" width="0.8" height="0.8" fill="#9d9d9d" opacity="0.9"/>
<rect x="24.6" y="152.1" width="0.8" height="0.8" fill="#7a7a7a" opacity="0.9"/>
<rect x="31.0" y="162.6" width="0.8" height="0.8" fill="#797979" opacity="0.9"/>
<rect x="33.5" y="158.3" width="0.8" height="0.8" fill="#545454" opacity="0.9"/>
<rect x="37.3" y="147.5" width="0.8" height="0.8" fill="#bbbbbb" opacity="0.9"/>
<rect x="24.1" y="158.0" width="0.8" height="0.8" fill="#636363" opacity="0.9"/>
<rect x="38.0" y="162.0" width="0.8" height="0.8" fill="#646464" opacity="0.9"/>
<rect x="42.5" y="149.4" width="0.8" height="0.8" fill="#7a7a7a" opacity="0.9"/>
<rect x="23.6" y="162.5" width="0.8" height="0.8" fill="#666666" opacity="0.9"/>
<rect x="34.6" y="154.9" width="0.8" height="0.8" fill="#7d7d7d" opacity="0.9"/>
<rect x="30.6" y="152.9" width="0.8" height="0.8" fill="#939393" opacity="0.9"/>
<rect x="41.2" y="150.2" width="0.8" height="0.8" fill="#aaaaaa" opacity="0.9"/>
<rect x="41.2" y="147.8" width="0.8" height="0.8" fill="#b1b1b1" opacity="0.9"/>
<rect x="22.6" y="151.4" width="0.8" height="0.8" fill="#a8a8a8" opacity="0.9"/>
<rect x="31.0" y="146.9" width="0.8" height="0.8" fill="#929292" opacity="0.9"/>
<rect x="41.8" y="156.5" width="0.8" height="0.8" fill="#858585" opacity="0.9"/>
<rect x="27.3" y="159.3" width="0.8" height="0.8" fill="#606060" opacity="0.9"/>
<rect x="28.8" y="162.8" width="0.8" height="0.8" fill="#555555" opacity="0.9"/>
<rect x="42.6" y="152.0" width="0.8" height="0.8" fill="#ababab" opacity="0.9"/>
<rect x="38.0" y="147.8" width="0.8" height="0.8" fill="#c3c3c3" opacity="0.9"/>
<rect x="37.8" y="159.8" width="0.8" height="0.8" fill="#575757" opacity="0.9"/>
<rect x="30.7" y="163.8" width="0.8" height="0.8" fill="#424242" opacity="0.9"/>
<rect x="40.6" y="145.9" width="0.8" height="0.8" fill="#a1a1a1" opacity="0.9"/>
<rect x="38.2" y="149.3" width="0.8" height="0.8" fill="#b5b5b5" opacity="0.9"/>
<rect x="38.7" y="154.6" width="0.8" height="0.8" fill="#676767" opacity="0.9"/>
<rect x="39.3" y="159.0" width="0.8" height="0.8" fill="#747474" opacity="0.9"/>
<rect x="29.7" y="154.5" width="0.8" height="0.8" fill="#a0a0a0" opacity="0.9"/>
<rect x="25.4" y="154.6" width="0.8" height="0.8" fill="#8b8b8b" opacity="0.9"/>
<rect x="33.3" y="145.5" width="0.8" height="0.8" fill="#a8a8a8" opacity="0.9"/>
<rect x="41.2" y="151.2" width="0.8" height="0.8" fill="#b1b1b1" opacity="0.9"/>
<rect x="23.9" y="160.9" width="0.8" height="0.8" fill="#545454" opacity="0.9"/>
<rect x="41.0" y="163.9" width="0.8" height="0.8" fill="#434343" opacity="0.9"/>
<rect x="37.0" y="144.2" width="0.8" height="0.8" fill="#9f9f9f" opacity="0.9"/>
<rect x="31.2" y="151.3" width="0.8" height="0.8" fill="#9e9e9e" opacity="0.9"/>
<rect x="37.7" y="149.8" width="0.8" height="0.8" fill="#888888" opacity="0.9"/>
<rect x="27.4" y="163.7" width="0.8" height="0.8" fill="#606060" opacity="0.9"/>
<rect x="26.4" y="160.0" width="0.8" height="0.8" fill="#858585" opacity="0.9"/>
<rect x="35.5" y="153.4" width="0.8" height="0.8" fill="#919191" opacity="0.9"/>
<rect x="34.6" y="151.1" width="0.8" height="0.8" fill="#868686" opacity="0.9"/>
<rect x="23.3" y="163.2" width="0.8" height="0.8" fill="#363636" opacity="0.9"/>
<rect x="29.6" y="162.1" width="0.8" height="0.8" fill="#424242" opacity="0.9"/>
<rect x="32.4" y="144.7" width="0.8" height="0.8" fill="#bebebe" opacity="0.9"/>
<rect x="27.7" y="149.4" width="0.8" height="0.8" fill="#868686" opacity="0.9"/>
<rect x="24.1" y="159.2" width="0.8" height="0.8" fill="#646464" opacity="0.9"/>
<rect x="36.5" y="156.4" width="0.8" height="0.8" fill="#878787" opacity="0.9"/>
<rect x="24.0" y="145.6" width="0.8" height="0.8" fill="#a3a3a3" opacity="0.9"/>
<rect x="39.5" y="163.7" width="0.8" height="0.8" fill="#6a6a6a" opacity="0.9"/>
<rect x="26.8" y="147.4" width="0.8" height="0.8" fill="#b9b9b9" opacity="0.9"/>
<rect x="36.1" y="159.7" width="0.8" height="0.8" fill="#474747" opacity="0.9"/>
<rect x="26.0" y="146.3" width="0.8" height="0.8" fill="#949494" opacity="0.9"/>
<rect x="35.8" y="153.4" width="0.8" height="0.8" fill="#919191" opacity="0.9"/>
<rect x="25.8" y="162.1" width="0.8" height="0.8" fill="#424242" opacity="0.9"/>
<rect x="42.6" y="157.7" width="0.8" height="0.8" fill="#7c7c7c" opacity="0.9"/>
<rect x="34.0" y="160.7" width="0.8" height="0.8" fill="#464646" opacity="0.9"/>
<rect x="22.3" y="147.5" width="0.8" height="0.8" fill="#8c8c8c" opacity="0.9"/>
<rect x="42.2" y="158.1" width="0.8" height="0.8" fill="#7f7f7f" opacity="0.9"/>
<rect x="24.9" y="149.0" width="0.8" height="0.8" fill="#8c8c8c" opacity="0.9"/>
<rect x="29.7" y="154.8" width="0.8" height="0.8" fill="#666666" opacity="0.9"/>
<rect x="27.2" y="148.8" width="0.8" height="0.8" fill="#909090" opacity="0.9"/>
<rect x="30.0" y="149.5" width="0.8" height="0.8" fill="#888888" opacity="0.9"/>
<rect x="26.1" y="160.8" width="0.8" height="0.8" fill="#5b5b5b" opacity="0.9"/>
<rect x="29.7" y="152.3" width="0.8" height="0.8" fill="#8b8b8b" opacity="0.9"/>
<rect x="40.3" y="163.4" width="0.8" height="0.8" fill="#606060" opacity="0.9"/>
<rect x="39.6" y="160.5" width="0.8" height="0.8" fill="#454545" opacity="0.9"/>
<rect x="31.2" y="162.5" width="0.8" height="0.8" fill="#575757" opacity="0.9"/>
<rect x="36.9" y="162.8" width="0.8" height="0.8" fill="#3f3f3f" opacity="0.9"/>
<rect x="32.1" y="161.6" width="0.8" height="0.8" fill="#4d4d4d" opacity="0.9"/>
<rect x="31.2" y="162.5" width="0.8" height="0.8" fill="#3e3e3e" opacity="0.9"/>
<rect x="29.6" y="155.9" width="0.8" height="0.8" fill="#979797" opacity="0.9"/>
<rect x="33.7" y="163.2" width="0.8" height="0.8" fill="#444444" opacity="0.9"/>
<rect x="37.6" y="154.0" width="0.8" height="0.8" fill="#9d9d9d" opacity="0.9"/>
<rect x="42.2" y="147.4" width="0.8" height="0.8" fill="#8b8b8b" opacity="0.9"/>
<rect x="41.8" y="154.8" width="0.8" height="0.8" fill="#6f6f6f" opacity="0.9"/>
<rect x="25.6" y="147.2" width="0.8" height="0.8" fill="#939393" opacity="0.9"/>
<rect x="23.7" y="159.9" width="0.8" height="0.8" fill="#838383" opacity="0.9"/>
<rect x="31.7" y="150.3" width="0.8" height="0.8" fill="#7a7a7a" opacity="0.9"/>
<rect x="31.5" y="158.9" width="0.8" height="0.8" fill="#585858" opacity="0.9"/>
<rect x="35.9" y="158.1" width="0.8" height="0.8" fill="#575757" opacity="0.9"/>
<rect x="42.7" y="155.7" width="0.8" height="0.8" fill="#676767" opacity="0.9"/>
<rect x="22.2" y="152.0" width="0.8" height="0.8" fill="#8f8f8f" opacity="0.9"/>
<rect x="22.5" y="155.9" width="0.8" height="0.8" fill="#8a8a8a" opacity="0.9"/>
<rect x="33.3" y="160.5" width="0.8" height="0.8" fill="#646464" opacity="0.9"/>
<rect x="34.7" y="152.0" width="0.8" height="0.8" fill="#767676" opacity="0.9"/>
<rect x="38.9" y="145.3" width="0.8" height="0.8" fill="#bfbfbf" opacity="0.9"/>
<rect x="40.0" y="158.0" width="0.8" height="0.8" fill="#8b8b8b" opacity="0.9"/>
<rect x="25.8" y="160.6" width="0.8" height="0.8" fill="#6a6a6a" opacity="0.9"/>
<rect x="40.9" y="163.0" width="0.8" height="0.8" fill="#454545" opacity="0.9"/>
<rect x="22.8" y="156.6" width="0.8" height="0.8" fill="#606060" opacity="0.9"/>
<rect x="26.0" y="149.9" width="0.8" height="0.8" fill="#9e9e9e" opacity="0.9"/>
<rect x="41.7" y="157.3" width="0.8" height="0.8" fill="#7f7f7f" opacity="0.9"/>
<rect x="22.3" y="145.2" width="0.8" height="0.8" fill="#9e9e9e" opacity="0.9"/>
<rect x="32.0" y="155.1" width="0.8" height="0.8" fill="#9c9c9c" opacity="0.9"/>
<rect x="32.3" y="144.2" width="0.8" height="0.8" fill="#bdbdbd" opacity="0.9"/>
<rect x="26.5" y="147.9" width="0.8" height="0.8" fill="#8e8e8e" opacity="0.9"/>
<rect x="43.0" y="156.2" width="0.8" height="0.8" fill="#676767" opacity="0.9"/>
<rect x="42.2" y="158.9" width="0.8" height="0.8" fill="#666666" opacity="0.9"/>
<rect x="29.2" y="151.7" width="0.8" height="0.8" fill="#707070" opacity="0.9"/>
<rect x="29.9" y="161.7" width="0.8" height="0.8" fill="#737373" opacity="0.9"/>
<rect x="22.0" y="153.0" width="0.8" height="0.8" fill="#797979" opacity="0.9"/>
<rect x="31.5" y="154.0" width="0.8" height="0.8" fill="#929292" opacity="0.9"/>
<rect x="24.9" y="160.4" width="0.8" height="0.8" fill="#4b4b4b" opacity="0.9"/>
<rect x="42.2" y="162.0" width="0.8" height="0.8" fill="#454545" opacity="0.9"/>
<rect x="33.0" y="153.6" width="0.8" height="0.8" fill="#a0a0a0" opacity="0.9"/>
<rect x="23.2" y="160.5" width="0.8" height="0.8" fill="#4e4e4e" opacity="0.9"/>
<rect x="34.3" y="156.3" width="0.8" height="0.8" fill="#737373" opacity="0.9"/>
<rect x="40.7" y="151.8" width="0.8" height="0.8" fill="#a7a7a7" opacity="0.9"/>
<rect x="42.1" y="159.9" width="0.8" height="0.8" fill="#848484" opacity="0.9"/>
<rect x="30.6" y="163.4" width="0.8" height="0.8" fill="#717171" opacity="0.9"/>
<rect x="24.2" y="163.8" width="0.8" height="0.8" fill="#454545" opacity="0.9"/>
<rect x="28.1" y="144.8" width="0.8" height="0.8" fill="#cacaca" opacity="0.9"/>
<rect x="30.8" y="154.7" width="0.8" height="0.8" fill="#989898" opacity="0.9"/>
<rect x="38.9" y="152.0" width="0.8" height="0.8" fill="#8f8f8f" opacity="0.9"/>
<rect x="24.4" y="160.3" width="0.8" height="0.8" fill="#6f6f6f" opacity="0.9"/>
<rect x="34.3" y="148.7" width="0.8" height="0.8" fill="#b9b9b9" opacity="0.9"/>
<rect x="42.2" y="161.2" width="0.8" height="0.8" fill="#444444" opacity="0.9"/>
<rect x="40.8" y="153.8" width="0.8" height="0.8" fill="#707070" opacity="0.9"/>
<rect x="36.5" y="160.1" width="0.8" height="0.8" fill="#545454" opacity="0.9"/>
<rect x="29.7" y="154.8" width="0.8" height="0.8" fill="#8c8c8c" opacity="0.9"/>
<rect x="23.5" y="150.0" width="0.8" height="0.8" fill="#a0a0a0" opacity="0.9"/>
<rect x="31.9" y="151.6" width="0.8" height="0.8" fill="#a4a4a4" opacity="0.9"/>
<rect x="22.2" y="155.8" width="0.8" height="0.8" fill="#878787" opacity="0.9"/>
<rect x="36.9" y="152.1" width="0.8" height="0.8" fill="#787878" opacity="0.9"/>
<rect x="42.1" y="149.0" width="0.8" height="0.8" fill="#8b8b8b" opacity="0.9"/>
<rect x="31.0" y="145.0" width="0.8" height="0.8" fill="#9d9d9d" opacity="0.9"/>
<rect x="30.6" y="144.9" width="0.8" height="0.8" fill="#cbcbcb" opacity="0.9"/>
<rect x="26.9" y="150.2" width="0.8" height="0.8" fill="#8e8e8e" opacity="0.9"/>
<rect x="35.9" y="149.5" width="0.8" height="0.8" fill="#828282" opacity="0.9"/>
<rect x="26.7" y="160.8" width="0.8" height="0.8" fill="#535353" opacity="0.9"/>
<rect x="22.7" y="162.2" width="0.8" height="0.8" fill="#555555" opacity="0.9"/>
<rect x="30.8" y="163.1" width="0.8" height="0.8" fill="#5d5d5d" opacity="0.9"/>
<rect x="41.8" y="153.7" width="0.8" height="0.8" fill="#7c7c7c" opacity="0.9"/>
<rect x="36.8" y="156.6" width="0.8" height="0.8" fill="#626262" opacity="0.9"/>
<rect x="32.1" y="163.8" width="0.8" height="0.8" fill="#5f5f5f" opacity="0.9"/>
<rect x="25.4" y="157.9" width="0.8" height="0.8" fill="#8f8f8f" opacity="0.9"/>
<rect x="38.1" y="147.9" width="0.8" height="0.8" fill="#acacac" opacity="0.9"/>
<rect x="35.3" y="150.9" width="0.8" height="0.8" fill="#b2b2b2" opacity="0.9"/>
<rect x="26.1" y="149.5" width="0.8" height="0.8" fill="#8d8d8d" opacity="0.9"/>
<rect x="27.4" y="148.2" width="0.8" height="0.8" fill="#a7a7a7" opacity="0.9"/>
<rect x="39.8" y="147.0" width="0.8" height="0.8" fill="#adadad" opacity="0.9"/>
<rect x="26.2" y="163.9" width="0.8" height="0.8" fill="#555555" opacity="0.9"/>
<rect x="37.2" y="159.8" width="0.8" height="0.8" fill="#4b4b4b" opacity="0.9"/>
<rect x="22.1" y="161.6" width="0.8" height="0.8" fill="#6c6c6c" opacity="0.9"/>
<rect x="22.1" y="160.6" width="0.8" height="0.8" fill="#545454" opacity="0.9"/>
<rect x="36.9" y="144.3" width="0.8" height="0.8" fill="#949494" opacity="0.9"/>
<rect x="24.4" y="145.6" width="0.8" height="0.8" fill="#cdcdcd" opacity="0.9"/>
<rect x="25.1" y="158.6" width="0.8" height="0.8" fill="#6f6f6f" opacity="0.9"/>
<rect x="28.7" y="157.0" width="0.8" height="0.8" fill="#747474" opacity="0.9"/>
<rect x="27.4" y="163.4" width="0.8" height="0.8" fill="#3a3a3a" opacity="0.9"/>
<rect x="25.4" y="162.9" width="0.8" height="0.8" fill="#606060" opacity="0.9"/>
<rect x="36.6" y="160.0" width="0.8" height="0.8" fill="#7a7a7a" opacity="0.9"/>
<rect x="37.3" y="158.5" width="0.8" height="0.8" fill="#6d6d6d" opacity="0.9"/>
<rect x="26.0" y="145.7" width="0.8" height="0.8" fill="#b1b1b1" opacity="0.9"/>
<rect x="23.1" y="161.9" width="0.8" height="0.8" fill="#6a6a6a" opacity="0.9"/>
<rect x="30.1" y="150.6" width="0.8" height="0.8" fill="#838383" opacity="0.9"/>
<rect x="38.7" y="148.7" width="0.8" height="0.8" fill="#848484" opacity="0.9"/>
<rect x="34.3" y="161.3" width="0.8" height="0.8" fill="#6e6e6e" opacity="0.9"/>
<rect x="38.9" y="148.9" width="0.8" height="0.8" fill="#8c8c8c" opacity="0.9"/>
<rect x="24.0" y="151.8" width="0.8" height="0.8" fill="#939393" opacity="0.9"/>
<rect x="24.9" y="161.2" width="0.8" height="0.8" fill="#666666" opacity="0.9"/>
<rect x="24.3" y="152.4" width="0.8" height="0.8" fill="#7b7b7b" opacity="0.9"/>
<rect x="27.4" y="156.9" width="0.8" height="0.8" fill="#787878" opacity="0.9"/>
<rect x="37.2" y="163.7" width="0.8" height="0.8" fill="#636363" opacity="0.9"/>
<rect x="26.6" y="159.5" width="0.8" height="0.8" fill="#727272" opacity="0.9"/>
<rect x="36.5" y="152.8" width="0.8" height="0.8" fill="#a4a4a4" opacity="0.9"/>
<rect x="26.3" y="159.1" width="0.8" height="0.8" fill="#767676" opacity="0.9"/>
<rect x="27.5" y="161.8" width="0.8" height="0.8" fill="#4b4b4b" opacity="0.9"/>
<rect x="38.2" y="148.1" width="0.8" height="0.8" fill="#b0b0b0" opacity="0.9"/>
<rect x="42.1" y="148.8" width="0.8" height="0.8" fill="#919191" opacity="0.9"/>
<rect x="28.6" y="150.5" width="0.8" height="0.8" fill="#787878" opacity="0.9"/>
<rect x="34.8" y="162.9" width="0.8" height="0.8" fill="#3a3a3a" opacity="0.9"/>
<rect x="32.8" y="161.9" width="0.8" height="0.8" fill="#797979" opacity="0.9"/>
<rect x="40.4" y="156.1" width="0.8" height="0.8" fill="#666666" opacity="0.9"/>
<rect x="24.5" y="155.2" width="0.8" height="0.8" fill="#808080" opacity="0.9"/>
<rect x="29.6" y="150.6" width="0.8" height="0.8" fill="#979797" opacity="0.9"/>
<rect x="38.3" y="162.6" width="0.8" height="0.8" fill="#3d3d3d" opacity="0.9"/>
<rect x="30.1" y="155.6" width="0.8" height="0.8" fill="#6c6c6c" opacity="0.9"/>
<rect x="36.0" y="160.7" width="0.8" height="0.8" fill="#575757" opacity="0.9"/>
<rect x="32.0" y="150.7" width="0.8" height="0.8" fill="#a6a6a6" opacity="0.9"/>
<rect x="29.8" y="156.4" width="0.8" height="0.8" fill="#949494" opacity="0.9"/>
<rect x="41.6" y="152.8" width="0.8" height="0.8" fill="#707070" opacity="0.9"/>
<rect x="31.6" y="152.4" width="0.8" height="0.8" fill="#7d7d7d" opacity="0.9"/>
<rect x="22.8" y="144.5" width="0.8" height="0.8" fill="#cecece" opacity="0.9"/>
<rect x="24.7" y="156.0" width="0.8" height="0.8" fill="#828282" opacity="0.9"/>
<rect x="28.3" y="163.2" width="0.8" height="0.8" fill="#676767" opacity="0.9"/>
<rect x="38.2" y="156.6" width="0.8" height="0.8" fill="#5c5c5c" opacity="0.9"/>
<rect x="30.3" y="162.8" width="0.8" height="0.8" fill="#777777" opacity="0.9"/>
<rect x="23.1" y="159.5" width="0.8" height="0.8" fill="#7a7a7a" opacity="0.9"/>
<rect x="24.8" y="162.6" width="0.8" height="0.8" fill="#3d3d3d" opacity="0.9"/>
<rect x="25.4" y="154.6" width="0.8" height="0.8" fill="#979797" opacity="0.9"/>
<rect x="25.6" y="161.6" width="0.8" height="0.8" fill="#707070" opacity="0.9"/>
<rect x="30.9" y="158.6" width="0.8" height="0.8" fill="#555555" opacity="0.9"/>
<rect x="27.1" y="144.7" width="0.8" height="0.8" fill="#999999" opacity="0.9"/>
<rect x="27.5" y="150.1" width="0.8" height="0.8" fill="#b1b1b1" opacity="0.9"/>
<rect x="41.0" y="155.9" width="0.8" height="0.8" fill="#999999" opacity="0.9"/>
<rect x="34.7" y="159.5" width="0.8" height="0.8" fill="#666666" opacity="0.9"/>
<rect x="37.0" y="150.2" width="0.8" height="0.8" fill="#7e7e7e" opacity="0.9"/>
<rect x="26.1" y="145.0" width="0.8" height="0.8" fill="#979797" opacity="0.9"/>
<rect x="39.1" y="158.5" width="0.8" height="0.8" fill="#5d5d5d" opacity="0.9"/>
<rect x="27.4" y="155.9" width="0.8" height="0.8" fill="#9b9b9b" opacity="0.9"/>
<rect x="25.1" y="147.4" width="0.8" height="0.8" fill="#999999" opacity="0.9"/>
<rect x="25.6" y="150.0" width="0.8" height="0.8" fill="#8e8e8e" opacity="0.9"/>
<rect x="25.9" y="157.0" width="0.8" height="0.8" fill="#8b8b8b" opacity="0.9"/>
<rect x="40.1" y="153.7" width="0.8" height="0.8" fill="#656565" opacity="0.9"/>
<rect x="38.0" y="153.0" width="0.8" height="0.8" fill="#a3a3a3" opacity="0.9"/>
<rect x="42.0" y="158.8" width="0.8" height="0.8" fill="#838383" opacity="0.9"/>
<rect x="39.2" y="159.9" width="0.8" height="0.8" fill="#5e5e5e" opacity="0.9"/>
<rect x="29.9" y="158.3" width="0.8" height="0.8" fill="#676767" opacity="0.9"/>
<rect x="24.3" y="160.6" width="0.8" height="0.8" fill="#7e7e7e" opacity="0.9"/>
<rect x="30.6" y="152.4" width="0.8" height="0.8" fill="#a6a6a6" opacity="0.9"/>
<rect x="37.9" y="160.3" width="0.8" height="0.8" fill="#808080" opacity="0.9"/>
<rect x="38.9" y="144.2" width="0.8" height="0.8" fill="#c3c3c3" opacity="0.9"/>
<rect x="37.9" y="148.4" width="0.8" height="0.8" fill="#8f8f8f" opacity="0.9"/>
<rect x="35.8" y="157.7" width="0.8" height="0.8" fill="#888888" opacity="0.9"/>
<rect x="24.8" y="154.5" width="0.8" height="0.8" fill="#777777" opacity="0.9"/>
<rect x="39.2" y="158.4" width="0.8" height="0.8" fill="#858585" opacity="0.9"/>
<rect x="39.8" y="146.9" width="0.8" height="0.8" fill="#8f8f8f" opacity="0.9"/>
<rect x="41.7" y="150.0" width="0.8" height="0.8" fill="#a4a4a4" opacity="0.9"/>
<rect x="35.7" y="163.5" width="0.8" height="0.8" fill="#6e6e6e" opacity="0.9"/>
<rect x="33.5" y="156.2" width="0.8" height="0.8" fill="#6e6e6e" opacity="0.9"/>
<rect x="38.4" y="149.1" width="0.8" height="0.8" fill="#b5b5b5" opacity="0.9"/>
<rect x="26.5" y="158.5" width="0.8" height="0.8" fill="#5d5d5d" opacity="0.9"/>
<rect x="24.1" y="158.8" width="0.8" height="0.8" fill="#4d4d4d" opacity="0.9"/>
<rect x="38.7" y="160.6" width="0.8" height="0.8" fill="#474747" opacity="0.9"/>
<rect x="23.4" y="150.0" width="0.8" height="0.8" fill="#848484" opacity="0.9"/>
<rect x="31.7" y="157.3" width="0.8" height="0.8" fill="#888888" opacity="0.9"/>
<rect x="42.0" y="159.1" width="0.8" height="0.8" fill="#747474" opacity="0.9"/>
<rect x="40.8" y="155.9" width="0.8" height="0.8" fill="#959595" opacity="0.9"/>
<rect x="37.4" y="159.1" width="0.8" height="0.8" fill="#848484" opacity="0.9"/>
<rect x="34.0" y="162.6" width="0.8" height="0.8" fill="#5f5f5f" opacity="0.9"/>
<rect x="39.4" y="154.9" width="0.8" height="0.8" fill="#7e7e7e" opacity="0.9"/>
<rect x="30.7" y="146.8" width="0.8" height="0.8" fill="#b2b2b2" opacity="0.9"/>
<rect x="26.4" y="158.1" width="0.8" height="0.8" fill="#676767" opacity="0.9"/>
<rect x="42.1" y="151.1" width="0.8" height="0.8" fill="#7a7a7a" opacity="0.9"/>
<rect x="41.2" y="163.6" width="0.8" height="0.8" fill="#5a5a5a" opacity="0.9"/>
<rect x="31.1" y="150.6" width="0.8" height="0.8" fill="#909090" opacity="0.9"/>
<rect x="23.9" y="154.8" width="0.8" height="0.8" fill="#959595" opacity="0.9"/>
<rect x="38.6" y="158.2" width="0.8" height="0.8" fill="#5d5d5d" opacity="0.9"/>
<rect x="37.6" y="148.7" width="0.8" height="0.8" fill="#8c8c8c" opacity="0.9"/>
<rect x="40.5" y="144.2" width="0.8" height="0.8" fill="#b0b0b0" opacity="0.9"/>
<rect x="30.0" y="150.7" width="0.8" height="0.8" fill="#b0b0b0" opacity="0.9"/>
<rect x="26.2" y="159.3" width="0.8" height="0.8" fill="#5f5f5f" opacity="0.9"/>
<rect x="37.4" y="161.3" width="0.8" height="0.8" fill="#636363" opacity="0.9"/>
<rect x="32.5" y="151.7" width="0.8" height="0.8" fill="#787878" opacity="0.9"/>
<rect x="42.1" y="144.0" width="0.8" height="0.8" fill="#bababa" opacity="0.9"/>
<rect x="38.7" y="161.4" width="0.8" height="0.8" fill="#7b7b7b" opacity="0.9"/>
<rect x="33.6" y="149.6" width="0.8" height="0.8" fill="#b2b2b2" opacity="0.9"/>
<rect x="29.6" y="145.8" width="0.8" height="0.8" fill="#999999" opacity="0.9"/>
<rect x="22.5" y="155.2" width="0.8" height="0.8" fill="#989898" opacity="0.9"/>
<rect x="40.9" y="145.1" width="0.8" height="0.8" fill="#b1b1b1" opacity="0.9"/>
<rect x="41.6" y="154.0" width="0.8" height="0.8" fill="#6c6c6c" opacity="0.9"/>
<rect x="35.3" y="148.6" width="0.8" height="0.8" fill="#9a9a9a" opacity="0.9"/>
<rect x="44.3" y="164.3" width="0.95" height="0.95" fill="#2d2d2d" opacity="0.9"/>
<rect x="41.4" y="163.3" width="0.95" height="0.95" fill="#5a5a5a" opacity="0.9"/>
<rect x="43.2" y="160.3" width="0.95" height="0.95" fill="#0a0a0a" opacity="0.9"/>
<rect x="45.9" y="180.1" width="0.95" height="0.95" fill="#1f1f1f" opacity="0.9"/>
<rect x="45.5" y="163.8" width="0.95" height="0.95" fill="#2a2a2a" opacity="0.9"/>
<rect x="41.4" y="178.1" width="0.95" height="0.95" fill="#272727" opacity="0.9"/>
<rect x="44.3" y="180.2" width="0.95" height="0.95" fill="#232323" opacity="0.9"/>
<rect x="47.3" y="175.7" width="0.95" height="0.95" fill="#181818" opacity="0.9"/>
<rect x="45.5" y="175.4" width="0.95" height="0.95" fill="#646464" opacity="0.9"/>
<rect x="41.2" y="178.5" width="0.95" height="0.95" fill="#404040" opacity="0.9"/>
<rect x="46.9" y="159.3" width="0.95" height="0.95" fill="#828282" opacity="0.9"/>
<rect x="39.5" y="179.3" width="0.95" height="0.95" fill="#797979" opacity="0.9"/>
<rect x="40.1" y="177.5" width="0.95" height="0.95" fill="#606060" opacity="0.9"/>
<rect x="42.8" y="165.8" width="0.95" height="0.95" fill="#1f1f1f" opacity="0.9"/>
<rect x="44.6" y="182.4" width="0.95" height="0.95" fill="#353535" opacity="0.9"/>
<rect x="42.8" y="175.7" width="0.95" height="0.95" fill="#232323" opacity="0.9"/>
<rect x="41.3" y="179.3" width="0.95" height="0.95" fill="#373737" opacity="0.9"/>
<rect x="44.4" y="165.4" width="0.95" height="0.95" fill="#1e1e1e" opacity="0.9"/>
<rect x="44.6" y="168.9" width="0.95" height="0.95" fill="#1c1c1c" opacity="0.9"/>
<rect x="41.0" y="165.7" width="0.95" height="0.95" fill="#4a4a4a" opacity="0.9"/>
<rect x="41.9" y="168.2" width="0.95" height="0.95" fill="#757575" opacity="0.9"/>
<rect x="43.0" y="181.8" width="0.95" height="0.95" fill="#484848" opacity="0.9"/>
<rect x="43.3" y="164.8" width="0.95" height="0.95" fill="#4c4c4c" opacity="0.9"/>
<rect x="41.1" y="172.5" width="0.95" height="0.95" fill="#1c1c1c" opacity="0.9"/>
<rect x="43.5" y="163.7" width="0.95" height="0.95" fill="#373737" opacity="0.9"/>
<rect x="45.1" y="181.7" width="0.95" height="0.95" fill="#3d3d3d" opacity="0.9"/>
<rect x="40.3" y="176.0" width="0.95" height="0.95" fill="#343434" opacity="0.9"/>
<rect x="42.3" y="174.9" width="0.95" height="0.95" fill="#3c3c3c" opacity="0.9"/>
<rect x="44.7" y="169.4" width="0.95" height="0.95" fill="#747474" opacity="0.9"/>
<rect x="44.1" y="158.2" width="0.95" height="0.95" fill="#767676" opacity="0.9"/>
<rect x="45.8" y="169.7" width="0.95" height="0.95" fill="#4b4b4b" opacity="0.9"/>
<rect x="44.5" y="180.5" width="0.95" height="0.95" fill="#3d3d3d" opacity="0.9"/>
<rect x="47.1" y="173.2" width="0.95" height="0.95" fill="#1e1e1e" opacity="0.9"/>
<rect x="43.9" y="174.2" width="0.95" height="0.95" fill="#686868" opacity="0.9"/>
<rect x="39.5" y="174.8" width="0.95" height="0.95" fill="#5a5a5a" opacity="0.9"/>
<rect x="42.4" y="178.9" width="0.95" height="0.95" fill="#6f6f6f" opacity="0.9"/>
<rect x="42.1" y="172.0" width="0.95" height="0.95" fill="#262626" opacity="0.9"/>
<rect x="42.2" y="181.1" width="0.95" height="0.95" fill="#505050" opacity="0.9"/>
<rect x="43.9" y="173.9" width="0.95" height="0.95" fill="#2e2e2e" opacity="0.9"/>
<rect x="40.4" y="180.0" width="0.95" height="0.95" fill="#707070" opacity="0.9"/>
<rect x="47.3" y="173.1" width="0.95" height="0.95" fill="#717171" opacity="0.9"/>
<rect x="43.3" y="170.1" width="0.95" height="0.95" fill="#383838" opacity="0.9"/>
<rect x="43.7" y="158.5" width="0.95" height="0.95" fill="#505050" opacity="0.9"/>
<rect x="43.8" y="180.8" width="0.95" height="0.95" fill="#5b5b5b" opacity="0.9"/>
<rect x="47.0" y="160.8" width="0.95" height="0.95" fill="#2a2a2a" opacity="0.9"/>
<rect x="42.6" y="172.9" width="0.95" height="0.95" fill="#6e6e6e" opacity="0.9"/>
<rect x="46.4" y="158.4" width="0.95" height="0.95" fill="#707070" opacity="0.9"/>
<rect x="42.6" y="166.9" width="0.95" height="0.95" fill="#7e7e7e" opacity="0.9"/>
<rect x="44.5" y="158.3" width="0.95" height="0.95" fill="#7c7c7c" opacity="0.9"/>
<rect x="42.2" y="178.1" width="0.95" height="0.95" fill="#1e1e1e" opacity="0.9"/>
<rect x="47.0" y="167.2" width="0.95" height="0.95" fill="#131313" opacity="0.9"/>
<rect x="41.0" y="159.5" width="0.95" height="0.95" fill="#717171" opacity="0.9"/>
<rect x="40.6" y="165.6" width="0.95" height="0.95" fill="#262626" opacity="0.9"/>
<rect x="40.0" y="164.5" width="0.95" height="0.95" fill="#676767" opacity="0.9"/>
<rect x="47.3" y="180.2" width="0.95" height="0.95" fill="#171717" opacity="0.9"/>
<rect x="47.1" y="171.5" width="0.95" height="0.95" fill="#808080" opacity="0.9"/>
<rect x="47.3" y="176.9" width="0.95" height="0.95" fill="#1d1d1d" opacity="0.9"/>
<rect x="43.0" y="162.7" width="0.95" height="0.95" fill="#696969" opacity="0.9"/>
<rect x="43.5" y="175.9" width="0.95" height="0.95" fill="#404040" opacity="0.9"/>
<rect x="40.2" y="179.4" width="0.95" height="0.95" fill="#6a6a6a" opacity="0.9"/>
<rect x="40.9" y="161.1" width="0.95" height="0.95" fill="#303030" opacity="0.9"/>
<rect x="39.8" y="159.4" width="0.95" height="0.95" fill="#191919" opacity="0.9"/>
<rect x="39.8" y="166.0" width="0.95" height="0.95" fill="#626262" opacity="0.9"/>
<rect x="44.5" y="160.8" width="0.95" height="0.95" fill="#1e1e1e" opacity="0.9"/>
<rect x="40.4" y="162.8" width="0.95" height="0.95" fill="#373737" opacity="0.9"/>
<rect x="44.9" y="181.8" width="0.95" height="0.95" fill="#383838" opacity="0.9"/>
<rect x="40.5" y="179.0" width="0.95" height="0.95" fill="#333333" opacity="0.9"/>
<rect x="42.6" y="164.2" width="0.95" height="0.95" fill="#272727" opacity="0.9"/>
<rect x="43.4" y="158.6" width="0.95" height="0.95" fill="#606060" opacity="0.9"/>
<rect x="45.1" y="162.3" width="0.95" height="0.95" fill="#212121" opacity="0.9"/>
<rect x="46.6" y="177.4" width="0.95" height="0.95" fill="#5a5a5a" opacity="0.9"/>
<rect x="45.4" y="159.4" width="0.95" height="0.95" fill="#4d4d4d" opacity="0.9"/>
<rect x="44.5" y="180.2" width="0.95" height="0.95" fill="#6e6e6e" opacity="0.9"/>
<rect x="43.0" y="177.4" width="0.95" height="0.95" fill="#535353" opacity="0.9"/>
<rect x="39.6" y="168.8" width="0.95" height="0.95" fill="#0c0c0c" opacity="0.9"/>
<rect x="44.3" y="166.3" width="0.95" height="0.95" fill="#3c3c3c" opacity="0.9"/>
<rect x="43.6" y="161.6" width="0.95" height="0.95" fill="#101010" opacity="0.9"/>
<rect x="46.8" y="171.7" width="0.95" height="0.95" fill="#1c1c1c" opacity="0.9"/>
<rect x="43.5" y="174.9" width="0.95" height="0.95" fill="#1e1e1e" opacity="0.9"/>
<rect x="45.0" y="158.1" width="0.95" height="0.95" fill="#707070" opacity="0.9"/>
<rect x="46.9" y="175.2" width="0.95" height="0.95" fill="#828282" opacity="0.9"/>
<rect x="39.5" y="177.6" width="0.95" height="0.95" fill="#3f3f3f" opacity="0.9"/>
<rect x="45.1" y="162.6" width="0.95" height="0.95" fill="#3a3a3a" opacity="0.9"/>
<rect x="45.3" y="168.0" width="0.95" height="0.95" fill="#474747" opacity="0.9"/>
<rect x="47.1" y="180.8" width="0.95" height="0.95" fill="#585858" opacity="0.9"/>
<rect x="40.8" y="179.9" width="0.95" height="0.95" fill="#222222" opacity="0.9"/>
<rect x="41.7" y="180.1" width="0.95" height="0.95" fill="#6f6f6f" opacity="0.9"/>
<rect x="44.8" y="173.1" width="0.95" height="0.95" fill="#0a0a0a" opacity="0.9"/>
<rect x="47.4" y="174.9" width="0.95" height="0.95" fill="#323232" opacity="0.9"/>
<rect x="44.6" y="171.7" width="0.95" height="0.95" fill="#707070" opacity="0.9"/>
<rect x="44.4" y="161.9" width="0.95" height="0.95" fill="#777777" opacity="0.9"/>
<rect x="43.9" y="181.3" width="0.95" height="0.95" fill="#777777" opacity="0.9"/>
<rect x="46.9" y="160.0" width="0.95" height="0.95" fill="#818181" opacity="0.9"/>
<rect x="46.1" y="159.1" width="0.95" height="0.95" fill="#404040" opacity="0.9"/>
<rect x="45.6" y="172.0" width="0.95" height="0.95" fill="#7e7e7e" opacity="0.9"/>
<rect x="41.9" y="170.4" width="0.95" height="0.95" fill="#646464" opacity="0.9"/>
<rect x="47.0" y="160.1" width="0.95" height="0.95" fill="#6d6d6d" opacity="0.9"/>
<rect x="40.6" y="167.2" width="0.95" height="0.95" fill="#7a7a7a" opacity="0.9"/>
<rect x="40.4" y="179.3" width="0.95" height="0.95" fill="#424242" opacity="0.9"/>
<rect x="46.6" y="177.8" width="0.95" height="0.95" fill="#141414" opacity="0.9"/>
<rect x="45.3" y="173.9" width="0.95" height="0.95" fill="#161616" opacity="0.9"/>
<rect x="39.8" y="178.4" width="0.95" height="0.95" fill="#303030" opacity="0.9"/>
<rect x="41.2" y="174.0" width="0.95" height="0.95" fill="#2d2d2d" opacity="0.9"/>
<rect x="45.8" y="163.0" width="0.95" height="0.95" fill="#4b4b4b" opacity="0.9"/>
<rect x="47.0" y="182.4" width="0.95" height="0.95" fill="#404040" opacity="0.9"/>
<rect x="45.7" y="175.0" width="0.95" height="0.95" fill="#5c5c5c" opacity="0.9"/>
<rect x="45.6" y="169.2" width="0.95" height="0.95" fill="#787878" opacity="0.9"/>
<rect x="42.0" y="174.7" width="0.95" height="0.95" fill="#636363" opacity="0.9"/>
<rect x="43.3" y="160.9" width="0.95" height="0.95" fill="#696969" opacity="0.9"/>
<rect x="46.2" y="177.9" width="0.95" height="0.95" fill="#2f2f2f" opacity="0.9"/>
<rect x="39.9" y="182.2" width="0.95" height="0.95" fill="#4f4f4f" opacity="0.9"/>
<rect x="45.4" y="181.0" width="0.95" height="0.95" fill="#373737" opacity="0.9"/>
<rect x="44.6" y="167.2" width="0.95" height="0.95" fill="#292929" opacity="0.9"/>
<rect x="41.6" y="170.4" width="0.95" height="0.95" fill="#424242" opacity="0.9"/>
<rect x="43.3" y="160.1" width="0.95" height="0.95" fill="#767676" opacity="0.9"/>
<rect x="45.8" y="179.6" width="0.95" height="0.95" fill="#252525" opacity="0.9"/>
<rect x="43.2" y="169.5" width="0.95" height="0.95" fill="#656565" opacity="0.9"/>
<rect x="40.1" y="165.1" width="0.95" height="0.95" fill="#757575" opacity="0.9"/>
<rect x="47.0" y="162.5" width="0.95" height="0.95" fill="#1b1b1b" opacity="0.9"/>
<rect x="44.7" y="176.6" width="0.95" height="0.95" fill="#5c5c5c" opacity="0.9"/>
<rect x="41.0" y="170.3" width="0.95" height="0.95" fill="#353535" opacity="0.9"/>
<rect x="40.8" y="180.2" width="0.95" height="0.95" fill="#262626" opacity="0.9"/>
<rect x="43.3" y="177.3" width="0.95" height="0.95" fill="#2a2a2a" opacity="0.9"/>
<rect x="41.6" y="159.5" width="0.95" height="0.95" fill="#1e1e1e" opacity="0.9"/>
<rect x="46.8" y="173.0" width="0.95" height="0.95" fill="#6c6c6c" opacity="0.9"/>
<rect x="40.0" y="167.4" width="0.95" height="0.95" fill="#595959" opacity="0.9"/>
<rect x="46.3" y="168.9" width="0.95" height="0.95" fill="#161616" opacity="0.9"/>
<rect x="42.8" y="169.5" width="0.95" height="0.95" fill="#323232" opacity="0.9"/>
<rect x="45.0" y="176.2" width="0.95" height="0.95" fill="#272727" opacity="0.9"/>
<rect x="44.7" y="169.8" width="0.95" height="0.95" fill="#4d4d4d" opacity="0.9"/>
<rect x="47.2" y="180.6" width="0.95" height="0.95" fill="#1e1e1e" opacity="0.9"/>
<rect x="43.7" y="160.9" width="0.95" height="0.95" fill="#323232" opacity="0.9"/>
<rect x="42.7" y="162.1" width="0.95" height="0.95" fill="#1b1b1b" opacity="0.9"/>
<rect x="46.7" y="169.5" width="0.95" height="0.95" fill="#818181" opacity="0.9"/>
<rect x="41.6" y="167.0" width="0.95" height="0.95" fill="#505050" opacity="0.9"/>
<rect x="43.5" y="181.9" width="0.95" height="0.95" fill="#343434" opacity="0.9"/>
<rect x="40.8" y="179.7" width="0.95" height="0.95" fill="#393939" opacity="0.9"/>
<rect x="42.5" y="160.7" width="0.95" height="0.95" fill="#1b1b1b" opacity="0.9"/>
<rect x="43.5" y="164.9" width="0.95" height="0.95" fill="#343434" opacity="0.9"/>
<rect x="42.6" y="171.4" width="0.95" height="0.95" fill="#323232" opacity="0.9"/>
<rect x="45.7" y="165.8" width="0.95" height="0.95" fill="#444444" opacity="0.9"/>
<rect x="40.5" y="165.0" width="0.95" height="0.95" fill="#5a5a5a" opacity="0.9"/>
<rect x="42.5" y="177.1" width="0.95" height="0.95" fill="#828282" opacity="0.9"/>
<rect x="45.0" y="166.9" width="0.95" height="0.95" fill="#808080" opacity="0.9"/>
<rect x="44.6" y="171.3" width="0.95" height="0.95" fill="#787878" opacity="0.9"/>
<rect x="44.8" y="162.3" width="0.95" height="0.95" fill="#222222" opacity="0.9"/>
<rect x="44.3" y="165.4" width="0.95" height="0.95" fill="#646464" opacity="0.9"/>
<rect x="41.5" y="181.8" width="0.95" height="0.95" fill="#121212" opacity="0.9"/>
<rect x="42.9" y="163.1" width="0.95" height="0.95" fill="#131313" opacity="0.9"/>
<rect x="41.1" y="170.4" width="0.95" height="0.95" fill="#191919" opacity="0.9"/>
<rect x="45.5" y="163.8" width="0.95" height="0.95" fill="#181818" opacity="0.9"/>
<rect x="45.0" y="180.7" width="0.95" height="0.95" fill="#222222" opacity="0.9"/>
<rect x="44.9" y="175.5" width="0.95" height="0.95" fill="#0a0a0a" opacity="0.9"/>
<rect x="41.6" y="181.9" width="0.95" height="0.95" fill="#151515" opacity="0.9"/>
<rect x="47.3" y="165.7" width="0.95" height="0.95" fill="#525252" opacity="0.9"/>
<rect x="45.0" y="170.6" width="0.95" height="0.95" fill="#363636" opacity="0.9"/>
<rect x="46.7" y="172.4" width="0.95" height="0.95" fill="#737373" opacity="0.9"/>
<rect x="40.9" y="172.0" width="0.95" height="0.95" fill="#202020" opacity="0.9"/>
<rect x="46.7" y="163.5" width="0.95" height="0.95" fill="#242424" opacity="0.9"/>
<rect x="47.0" y="164.6" width="0.95" height="0.95" fill="#7a7a7a" opacity="0.9"/>
<rect x="45.4" y="181.4" width="0.95" height="0.95" fill="#606060" opacity="0.9"/>
<rect x="47.2" y="167.9" width="0.95" height="0.95" fill="#636363" opacity="0.9"/>
<rect x="39.7" y="172.6" width="0.95" height="0.95" fill="#636363" opacity="0.9"/>
<rect x="47.3" y="160.7" width="0.95" height="0.95" fill="#696969" opacity="0.9"/>
<rect x="46.6" y="170.6" width="0.95" height="0.95" fill="#404040" opacity="0.9"/>
<rect x="42.4" y="174.2" width="0.95" height="0.95" fill="#0d0d0d" opacity="0.9"/>
<rect x="47.5" y="182.3" width="0.95" height="0.95" fill="#595959" opacity="0.9"/>
<rect x="43.8" y="167.4" width="0.95" height="0.95" fill="#393939" opacity="0.9"/>
<rect x="45.3" y="171.5" width="0.95" height="0.95" fill="#373737" opacity="0.9"/>
<rect x="46.9" y="167.1" width="0.95" height="0.95" fill="#4f4f4f" opacity="0.9"/>
<rect x="40.6" y="161.9" width="0.95" height="0.95" fill="#1d1d1d" opacity="0.9"/>
<rect x="40.4" y="177.5" width="0.95" height="0.95" fill="#191919" opacity="0.9"/>
<rect x="40.8" y="170.3" width="0.95" height="0.95" fill="#535353" opacity="0.9"/>
<rect x="40.3" y="170.2" width="0.95" height="0.95" fill="#454545" opacity="0.9"/>
<rect x="43.8" y="158.4" width="0.95" height="0.95" fill="#111111" opacity="0.9"/>
<rect x="41.4" y="161.4" width="0.95" height="0.95" fill="#808080" opacity="0.9"/>
<rect x="45.6" y="163.9" width="0.95" height="0.95" fill="#737373" opacity="0.9"/>
<rect x="42.4" y="177.0" width="0.95" height="0.95" fill="#747474" opacity="0.9"/>
<rect x="43.3" y="167.5" width="0.95" height="0.95" fill="#343434" opacity="0.9"/>
<rect x="43.3" y="159.0" width="0.95" height="0.95" fill="#5f5f5f" opacity="0.9"/>
<rect x="47.4" y="159.2" width="0.95" height="0.95" fill="#4a4a4a" opacity="0.9"/>
<rect x="41.4" y="158.9" width="0.95" height="0.95" fill="#808080" opacity="0.9"/>
<rect x="40.9" y="159.7" width="0.95" height="0.95" fill="#141414" opacity="0.9"/>
<rect x="45.7" y="176.5" width="0.95" height="0.95" fill="#353535" opacity="0.9"/>
<rect x="44.7" y="168.4" width="0.95" height="0.95" fill="#313131" opacity="0.9"/>
<rect x="40.1" y="177.1" width="0.95" height="0.95" fill="#434343" opacity="0.9"/>
<rect x="41.5" y="161.8" width="0.95" height="0.95" fill="#313131" opacity="0.9"/>
<rect x="43.0" y="180.8" width="0.95" height="0.95" fill="#171717" opacity="0.9"/>
<rect x="45.1" y="168.5" width="0.95" height="0.95" fill="#1f1f1f" opacity="0.9"/>
<rect x="44.2" y="170.2" width="0.95" height="0.95" fill="#767676" opacity="0.9"/>
<rect x="45.4" y="176.2" width="0.95" height="0.95" fill="#727272" opacity="0.9"/>
<rect x="44.5" y="159.4" width="0.95" height="0.95" fill="#4a4a4a" opacity="0.9"/>
<rect x="39.8" y="159.2" width="0.95" height="0.95" fill="#4c4c4c" opacity="0.9"/>
<rect x="45.4" y="175.6" width="0.95" height="0.95" fill="#4b4b4b" opacity="0.9"/>
<rect x="42.7" y="163.6" width="0.95" height="0.95" fill="#242424" opacity="0.9"/>
<rect x="43.0" y="174.2" width="0.95" height="0.95" fill="#151515" opacity="0.9"/>
<rect x="41.4" y="169.4" width="0.95" height="0.95" fill="#636363" opacity="0.9"/>
<rect x="41.3" y="167.8" width="0.95" height="0.95" fill="#232323" opacity="0.9"/>
<rect x="42.8" y="171.1" width="0.95" height="0.95" fill="#2e2e2e" opacity="0.9"/>
<rect x="47.5" y="166.2" width="0.95" height="0.95" fill="#2c2c2c" opacity="0.9"/>
<rect x="44.8" y="166.1" width="0.95" height="0.95" fill="#0e0e0e" opacity="0.9"/>
<rect x="42.7" y="174.9" width="0.95" height="0.95" fill="#414141" opacity="0.9"/>
<rect x="40.1" y="160.1" width="0.95" height="0.95" fill="#111111" opacity="0.9"/>
<rect x="43.8" y="182.3" width="0.95" height="0.95" fill="#7f7f7f" opacity="0.9"/>
<rect x="44.5" y="167.4" width="0.95" height="0.95" fill="#616161" opacity="0.9"/>
<rect x="43.4" y="162.8" width="0.95" height="0.95" fill="#5f5f5f" opacity="0.9"/>
<rect x="46.9" y="171.8" width="0.95" height="0.95" fill="#434343" opacity="0.9"/>
<rect x="41.8" y="180.9" width="0.95" height="0.95" fill="#727272" opacity="0.9"/>
<rect x="46.6" y="161.1" width="0.95" height="0.95" fill="#121212" opacity="0.9"/>
<rect x="43.4" y="161.1" width="0.95" height="0.95" fill="#616161" opacity="0.9"/>
<rect x="39.7" y="162.5" width="0.95" height="0.95" fill="#666666" opacity="0.9"/>
<rect x="39.9" y="175.5" width="0.95" height="0.95" fill="#707070" opacity="0.9"/>
<rect x="40.1" y="177.6" width="0.95" height="0.95" fill="#282828" opacity="0.9"/>
<rect x="39.9" y="172.3" width="0.95" height="0.95" fill="#666666" opacity="0.9"/>
<rect x="41.6" y="162.2" width="0.95" height="0.95" fill="#747474" opacity="0.9"/>
<rect x="42.4" y="175.4" width="0.95" height="0.95" fill="#2d2d2d" opacity="0.9"/>
<rect x="40.8" y="168.7" width="0.95" height="0.95" fill="#202020" opacity="0.9"/>
<rect x="39.5" y="160.2" width="0.95" height="0.95" fill="#666666" opacity="0.9"/>
<rect x="42.9" y="163.8" width="0.95" height="0.95" fill="#7e7e7e" opacity="0.9"/>
<rect x="40.7" y="179.4" width="0.95" height="0.95" fill="#656565" opacity="0.9"/>
<rect x="40.4" y="177.8" width="0.95" height="0.95" fill="#151515" opacity="0.9"/>
<rect x="44.9" y="158.1" width="0.95" height="0.95" fill="#0f0f0f" opacity="0.9"/>
<rect x="46.5" y="160.1" width="0.95" height="0.95" fill="#313131" opacity="0.9"/>
<rect x="47.5" y="165.8" width="0.95" height="0.95" fill="#7e7e7e" opacity="0.9"/>
<rect x="45.5" y="171.7" width="0.95" height="0.95" fill="#818181" opacity="0.9"/>
<rect x="44.2" y="181.7" width="0.95" height="0.95" fill="#5c5c5c" opacity="0.9"/>
<rect x="45.8" y="178.6" width="0.95" height="0.95" fill="#4e4e4e" opacity="0.9"/>
<rect x="41.1" y="170.7" width="0.95" height="0.95" fill="#474747" opacity="0.9"/>
<rect x="45.3" y="161.1" width="0.95" height="0.95" fill="#373737" opacity="0.9"/>
<rect x="43.6" y="172.4" width="0.95" height="0.95" fill="#262626" opacity="0.9"/>
<rect x="44.5" y="174.2" width="0.95" height="0.95" fill="#1a1a1a" opacity="0.9"/>
<rect x="43.5" y="168.3" width="0.95" height="0.95" fill="#5f5f5f" opacity="0.9"/>
<rect x="44.3" y="159.1" width="0.95" height="0.95" fill="#2f2f2f" opacity="0.9"/>
<rect x="41.7" y="176.9" width="0.95" height="0.95" fill="#646464" opacity="0.9"/>
<rect x="43.1" y="167.2" width="0.95" height="0.95" fill="#464646" opacity="0.9"/>
<rect x="41.5" y="180.7" width="0.95" height="0.95" fill="#4b4b4b" opacity="0.9"/>
<rect x="43.8" y="171.3" width="0.95" height="0.95" fill="#2f2f2f" opacity="0.9"/>
<rect x="42.7" y="175.4" width="0.95" height="0.95" fill="#727272" opacity="0.9"/>
<rect x="41.6" y="165.9" width="0.95" height="0.95" fill="#616161" opacity="0.9"/>
<rect x="41.2" y="169.1" width="0.95" height="0.95" fill="#373737" opacity="0.9"/>
<rect x="45.2" y="169.1" width="0.95" height="0.95" fill="#151515" opacity="0.9"/>
<rect x="45.5" y="176.0" width="0.95" height="0.95" fill="#242424" opacity="0.9"/>
<rect x="46.1" y="182.1" width="0.95" height="0.95" fill="#414141" opacity="0.9"/>
<rect x="44.7" y="174.6" width="0.95" height="0.95" fill="#5b5b5b" opacity="0.9"/>
<rect x="42.4" y="158.4" width="0.95" height="0.95" fill="#505050" opacity="0.9"/>
<rect x="40.0" y="166.8" width="0.95" height="0.95" fill="#0e0e0e" opacity="0.9"/>
<rect x="43.0" y="172.9" width="0.95" height="0.95" fill="#7b7b7b" opacity="0.9"/>
<rect x="44.9" y="181.7" width="0.95" height="0.95" fill="#707070" opacity="0.9"/>
<rect x="45.9" y="166.3" width="0.95" height="0.95" fill="#464646" opacity="0.9"/>
<rect x="40.4" y="177.5" width="0.95" height="0.95" fill="#686868" opacity="0.9"/>
<rect x="41.0" y="160.5" width="0.95" height="0.95" fill="#232323" opacity="0.9"/>
<rect x="41.7" y="169.9" width="0.95" height="0.95" fill="#656565" opacity="0.9"/>
<rect x="40.5" y="166.3" width="0.95" height="0.95" fill="#3f3f3f" opacity="0.9"/>
<rect x="46.4" y="168.8" width="0.95" height="0.95" fill="#3f3f3f" opacity="0.9"/>
<rect x="40.7" y="161.8" width="0.95" height="0.95" fill="#5c5c5c" opacity="0.9"/>
<rect x="41.0" y="161.9" width="0.95" height="0.95" fill="#2d2d2d" opacity="0.9"/>
<rect x="40.0" y="174.5" width="0.95" height="0.95" fill="#292929" opacity="0.9"/>
<rect x="42.2" y="178.9" width="0.95" height="0.95" fill="#7c7c7c" opacity="0.9"/>
<rect x="39.9" y="168.4" width="0.95" height="0.95" fill="#1d1d1d" opacity="0.9"/>
<rect x="45.7" y="167.2" width="0.95" height="0.95" fill="#191919" opacity="0.9"/>
<rect x="40.4" y="164.7" width="0.95" height="0.95" fill="#4b4b4b" opacity="0.9"/>
<rect x="42.7" y="172.6" width="0.95" height="0.95" fill="#2a2a2a" opacity="0.9"/>
<rect x="47.4" y="167.6" width="0.95" height="0.95" fill="#212121" opacity="0.9"/>
<rect x="42.5" y="158.3" width="0.95" height="0.95" fill="#393939" opacity="0.9"/>
<rect x="40.4" y="165.9" width="0.95" height="0.95" fill="#1a1a1a" opacity="0.9"/>
<rect x="44.9" y="173.3" width="0.95" height="0.95" fill="#222222" opacity="0.9"/>
<rect x="41.2" y="172.2" width="0.95" height="0.95" fill="#535353" opacity="0.9"/>
<rect x="44.4" y="165.2" width="0.95" height="0.95" fill="#232323" opacity="0.9"/>
<rect x="45.2" y="178.8" width="0.95" height="0.95" fill="#282828" opacity="0.9"/>
<rect x="41.4" y="172.4" width="0.95" height="0.95" fill="#535353" opacity="0.9"/>
<rect x="46.6" y="161.0" width="0.95" height="0.95" fill="#535353" opacity="0.9"/>
<rect x="42.1" y="173.8" width="0.95" height="0.95" fill="#575757" opacity="0.9"/>
<rect x="40.2" y="169.3" width="0.95" height="0.95" fill="#282828" opacity="0.9"/>
<rect x="41.2" y="165.6" width="0.95" height="0.95" fill="#3f3f3f" opacity="0.9"/>
<rect x="46.8" y="158.4" width="0.95" height="0.95" fill="#272727" opacity="0.9"/>
<rect x="40.4" y="182.2" width="0.95" height="0.95" fill="#282828" opacity="0.9"/>
<rect x="44.7" y="168.3" width="0.95" height="0.95" fill="#343434" opacity="0.9"/>
<rect x="44.2" y="167.2" width="0.95" height="0.95" fill="#0e0e0e" opacity="0.9"/>
<rect x="43.7" y="171.5" width="0.95" height="0.95" fill="#303030" opacity="0.9"/>
<rect x="41.7" y="177.0" width="0.95" height="0.95" fill="#474747" opacity="0.9"/>
<rect x="43.2" y="158.3" width="0.95" height="0.95" fill="#5e5e5e" opacity="0.9"/>
<rect x="42.5" y="163.6" width="0.95" height="0.95" fill="#595959" opacity="0.9"/>
<rect x="40.9" y="172.7" width="0.95" height="0.95" fill="#464646" opacity="0.9"/>
<rect x="43.9" y="167.5" width="0.95" height="0.95" fill="#707070" opacity="0.9"/>
<rect x="47.1" y="182.0" width="0.95" height="0.95" fill="#6b6b6b" opacity="0.9"/>
<rect x="45.5" y="168.8" width="0.95" height="0.95" fill="#7a7a7a" opacity="0.9"/>
<rect x="40.2" y="169.3" width="0.95" height="0.95" fill="#252525" opacity="0.9"/>
<rect x="45.0" y="159.7" width="0.95" height="0.95" fill="#7d7d7d" opacity="0.9"/>
<rect x="40.2" y="167.0" width="0.95" height="0.95" fill="#414141" opacity="0.9"/>
<rect x="42.8" y="169.2" width="0.95" height="0.95" fill="#7f7f7f" opacity="0.9"/>
<rect x="45.1" y="170.6" width="0.95" height="0.95" fill="#656565" opacity="0.9"/>
<rect x="40.9" y="170.5" width="0.95" height="0.95" fill="#494949" opacity="0.9"/>
<rect x="40.4" y="165.1" width="0.95" height="0.95" fill="#4f4f4f" opacity="0.9"/>
<rect x="41.2" y="179.5" width="0.95" height="0.95" fill="#373737" opacity="0.9"/>
<rect x="46.3" y="172.7" width="0.95" height="0.95" fill="#515151" opacity="0.9"/>
<rect x="44.0" y="165.0" width="0.95" height="0.95" fill="#141414" opacity="0.9"/>
<rect x="44.4" y="175.6" width="0.95" height="0.95" fill="#757575" opacity="0.9"/>
<rect x="40.4" y="174.1" width="0.95" height="0.95" fill="#4e4e4e" opacity="0.9"/>
<rect x="44.6" y="161.4" width="0.95" height="0.95" fill="#606060" opacity="0.9"/>
<rect x="46.3" y="166.3" width="0.95" height="0.95" fill="#3f3f3f" opacity="0.9"/>
<defs><linearGradient id="g6" x1="20.6" x2="39.8" y1="0" y2="0" gradientUnits="userSpaceOnUse"><stop offset="0.000" stop-color="#222"/><stop offset="0.099" stop-color="#666"/><stop offset="0.229" stop-color="#b5b5b5"/><stop offset="0.438" stop-color="#d8d8d8"/><stop offset="0.750" stop-color="#cccccc"/><stop offset="0.880" stop-color="#777"/><stop offset="1.000" stop-color="#222"/></linearGradient></defs>
<path d="M20.6,183.2 L20.6,166.7 Q20.6,163.7 23.6,163.7 L36.8,163.7 Q39.8,163.7 39.8,166.7 L39.8,183.2 Z" fill="url(#g6)" filter="url(#blur04)"/>
<path d="M20.6,183.2 L20.6,166.7 Q20.6,163.7 23.6,163.7 L36.8,163.7 Q39.8,163.7 39.8,166.7 L39.8,183.2 Z" fill="url(#vtop)"/>
<path d="M21.700000000000003,183.2 L21.700000000000003,166.7 Q21.700000000000003,164.79999999999998 23.6,164.79999999999998 L36.8,164.79999999999998 Q38.699999999999996,164.79999999999998 38.699999999999996,166.7 L38.699999999999996,183.2" fill="none" stroke="#111" stroke-width="2.8" filter="url(#blur08)"/>
<rect x="20.5" y="164.4" width="0.9" height="0.9" fill="#1c1c1c" opacity="0.8"/>
<rect x="28.2" y="162.4" width="0.9" height="0.9" fill="#191919" opacity="0.8"/>
<rect x="33.6" y="163.1" width="0.9" height="0.9" fill="#333333" opacity="0.8"/>
<rect x="25.3" y="162.4" width="0.9" height="0.9" fill="#3a3a3a" opacity="0.8"/>
<rect x="23.4" y="164.5" width="0.9" height="0.9" fill="#070707" opacity="0.8"/>
<rect x="20.6" y="162.5" width="0.9" height="0.9" fill="#292929" opacity="0.8"/>
<rect x="33.9" y="163.8" width="0.9" height="0.9" fill="#3f3f3f" opacity="0.8"/>
<rect x="31.1" y="164.1" width="0.9" height="0.9" fill="#454545" opacity="0.8"/>
<rect x="23.5" y="163.7" width="0.9" height="0.9" fill="#171717" opacity="0.8"/>
<rect x="25.3" y="163.7" width="0.9" height="0.9" fill="#111111" opacity="0.8"/>
<rect x="34.3" y="164.1" width="0.9" height="0.9" fill="#414141" opacity="0.8"/>
<rect x="37.7" y="162.7" width="0.9" height="0.9" fill="#444444" opacity="0.8"/>
<rect x="22.7" y="163.3" width="0.9" height="0.9" fill="#4e4e4e" opacity="0.8"/>
<rect x="22.3" y="162.7" width="0.9" height="0.9" fill="#262626" opacity="0.8"/>
<rect x="33.8" y="163.4" width="0.9" height="0.9" fill="#4e4e4e" opacity="0.8"/>
<rect x="36.1" y="164.5" width="0.9" height="0.9" fill="#1c1c1c" opacity="0.8"/>
<rect x="33.7" y="164.0" width="0.9" height="0.9" fill="#282828" opacity="0.8"/>
<rect x="31.6" y="164.0" width="0.9" height="0.9" fill="#2e2e2e" opacity="0.8"/>
<rect x="30.1" y="163.4" width="0.9" height="0.9" fill="#151515" opacity="0.8"/>
<rect x="36.8" y="163.7" width="0.9" height="0.9" fill="#0d0d0d" opacity="0.8"/>
<rect x="21.6" y="163.6" width="0.9" height="0.9" fill="#4b4b4b" opacity="0.8"/>
<rect x="39.1" y="164.6" width="0.9" height="0.9" fill="#121212" opacity="0.8"/>
<rect x="25.5" y="164.3" width="0.9" height="0.9" fill="#161616" opacity="0.8"/>
<rect x="38.5" y="164.6" width="0.9" height="0.9" fill="#020202" opacity="0.8"/>
<rect x="20.3" y="164.4" width="0.9" height="0.9" fill="#383838" opacity="0.8"/>
<rect x="21.8" y="164.2" width="0.9" height="0.9" fill="#3a3a3a" opacity="0.8"/>
<rect x="30.9" y="164.3" width="0.9" height="0.9" fill="#191919" opacity="0.8"/>
<rect x="26.4" y="163.7" width="0.9" height="0.9" fill="#4d4d4d" opacity="0.8"/>
<rect x="20.5" y="162.8" width="0.9" height="0.9" fill="#080808" opacity="0.8"/>
<rect x="38.6" y="162.0" width="0.9" height="0.9" fill="#0f0f0f" opacity="0.8"/>
<rect x="21.0" y="163.9" width="0.9" height="0.9" fill="#232323" opacity="0.8"/>
<rect x="26.1" y="164.0" width="0.9" height="0.9" fill="#0b0b0b" opacity="0.8"/>
<rect x="37.7" y="164.7" width="0.9" height="0.9" fill="#383838" opacity="0.8"/>
<rect x="32.3" y="164.6" width="0.9" height="0.9" fill="#464646" opacity="0.8"/>
<rect x="38.9" y="164.2" width="0.9" height="0.9" fill="#242424" opacity="0.8"/>
<rect x="24.6" y="162.2" width="0.9" height="0.9" fill="#464646" opacity="0.8"/>
<rect x="29.9" y="163.6" width="0.9" height="0.9" fill="#121212" opacity="0.8"/>
<rect x="27.8" y="163.4" width="0.9" height="0.9" fill="#303030" opacity="0.8"/>
<rect x="36.0" y="163.2" width="0.9" height="0.9" fill="#191919" opacity="0.8"/>
<rect x="39.2" y="162.5" width="0.9" height="0.9" fill="#222222" opacity="0.8"/>
<rect x="35.2" y="164.2" width="0.9" height="0.9" fill="#1f1f1f" opacity="0.8"/>
<rect x="22.7" y="162.8" width="0.9" height="0.9" fill="#050505" opacity="0.8"/>
<rect x="19.9" y="167.9" width="0.8" height="0.8" fill="#2f2f2f" opacity="0.7"/>
<rect x="20.5" y="170.5" width="0.8" height="0.8" fill="#3e3e3e" opacity="0.7"/>
<rect x="19.5" y="178.4" width="0.8" height="0.8" fill="#5a5a5a" opacity="0.7"/>
<rect x="20.3" y="167.8" width="0.8" height="0.8" fill="#2c2c2c" opacity="0.7"/>
<rect x="20.6" y="181.5" width="0.8" height="0.8" fill="#333333" opacity="0.7"/>
<rect x="19.8" y="178.6" width="0.8" height="0.8" fill="#363636" opacity="0.7"/>
<rect x="21.6" y="172.9" width="0.8" height="0.8" fill="#404040" opacity="0.7"/>
<rect x="19.9" y="182.2" width="0.8" height="0.8" fill="#535353" opacity="0.7"/>
<rect x="21.1" y="170.6" width="0.8" height="0.8" fill="#0c0c0c" opacity="0.7"/>
<rect x="20.0" y="170.5" width="0.8" height="0.8" fill="#0f0f0f" opacity="0.7"/>
<rect x="20.6" y="171.0" width="0.8" height="0.8" fill="#4a4a4a" opacity="0.7"/>
<rect x="21.4" y="169.9" width="0.8" height="0.8" fill="#000000" opacity="0.7"/>
<rect x="21.5" y="169.6" width="0.8" height="0.8" fill="#111111" opacity="0.7"/>
<rect x="20.7" y="175.4" width="0.8" height="0.8" fill="#505050" opacity="0.7"/>
<rect x="21.6" y="177.4" width="0.8" height="0.8" fill="#151515" opacity="0.7"/>
<rect x="39.3" y="180.5" width="0.8" height="0.8" fill="#565656" opacity="0.7"/>
<rect x="39.6" y="172.8" width="0.8" height="0.8" fill="#565656" opacity="0.7"/>
<rect x="40.3" y="172.2" width="0.8" height="0.8" fill="#0c0c0c" opacity="0.7"/>
<rect x="39.0" y="167.1" width="0.8" height="0.8" fill="#131313" opacity="0.7"/>
<rect x="39.4" y="176.3" width="0.8" height="0.8" fill="#373737" opacity="0.7"/>
<rect x="39.5" y="166.6" width="0.8" height="0.8" fill="#171717" opacity="0.7"/>
<rect x="40.3" y="180.1" width="0.8" height="0.8" fill="#141414" opacity="0.7"/>
<rect x="39.7" y="174.2" width="0.8" height="0.8" fill="#383838" opacity="0.7"/>
<rect x="40.1" y="173.2" width="0.8" height="0.8" fill="#0c0c0c" opacity="0.7"/>
<rect x="38.6" y="181.8" width="0.8" height="0.8" fill="#191919" opacity="0.7"/>
<rect x="39.7" y="181.0" width="0.8" height="0.8" fill="#525252" opacity="0.7"/>
<rect x="40.0" y="174.2" width="0.8" height="0.8" fill="#1b1b1b" opacity="0.7"/>
<rect x="40.6" y="182.9" width="0.8" height="0.8" fill="#505050" opacity="0.7"/>
<rect x="40.3" y="168.2" width="0.8" height="0.8" fill="#494949" opacity="0.7"/>
<rect x="39.0" y="170.5" width="0.8" height="0.8" fill="#0d0d0d" opacity="0.7"/>
<defs><linearGradient id="g7" x1="47.2" x2="56.9" y1="0" y2="0" gradientUnits="userSpaceOnUse"><stop offset="0.000" stop-color="#111"/><stop offset="0.165" stop-color="#555"/><stop offset="0.392" stop-color="#bbb"/><stop offset="0.649" stop-color="#aaa"/><stop offset="0.835" stop-color="#555"/><stop offset="1.000" stop-color="#111"/></linearGradient></defs>
<path d="M47.2,183.2 L47.2,165.7 Q47.2,162.7 50.2,162.7 L53.9,162.7 Q56.9,162.7 56.9,165.7 L56.9,183.2 Z" fill="url(#g7)" filter="url(#blur04)"/>
<path d="M47.2,183.2 L47.2,165.7 Q47.2,162.7 50.2,162.7 L53.9,162.7 Q56.9,162.7 56.9,165.7 L56.9,183.2 Z" fill="url(#vtop)"/>
<path d="M48.300000000000004,183.2 L48.300000000000004,165.7 Q48.300000000000004,163.79999999999998 50.2,163.79999999999998 L53.9,163.79999999999998 Q55.8,163.79999999999998 55.8,165.7 L55.8,183.2" fill="none" stroke="#111" stroke-width="2.8" filter="url(#blur08)"/>
<rect x="51.8" y="161.1" width="0.9" height="0.9" fill="#141414" opacity="0.8"/>
<rect x="54.1" y="161.3" width="0.9" height="0.9" fill="#464646" opacity="0.8"/>
<rect x="55.5" y="163.1" width="0.9" height="0.9" fill="#070707" opacity="0.8"/>
<rect x="55.7" y="163.3" width="0.9" height="0.9" fill="#060606" opacity="0.8"/>
<rect x="48.8" y="161.5" width="0.9" height="0.9" fill="#202020" opacity="0.8"/>
<rect x="49.4" y="161.1" width="0.9" height="0.9" fill="#3e3e3e" opacity="0.8"/>
<rect x="48.6" y="160.9" width="0.9" height="0.9" fill="#3b3b3b" opacity="0.8"/>
<rect x="49.0" y="161.6" width="0.9" height="0.9" fill="#343434" opacity="0.8"/>
<rect x="47.8" y="161.5" width="0.9" height="0.9" fill="#010101" opacity="0.8"/>
<rect x="47.8" y="163.0" width="0.9" height="0.9" fill="#393939" opacity="0.8"/>
<rect x="54.2" y="163.1" width="0.9" height="0.9" fill="#1c1c1c" opacity="0.8"/>
<rect x="48.9" y="161.0" width="0.9" height="0.9" fill="#313131" opacity="0.8"/>
<rect x="51.1" y="163.5" width="0.9" height="0.9" fill="#323232" opacity="0.8"/>
<rect x="49.0" y="162.1" width="0.9" height="0.9" fill="#4f4f4f" opacity="0.8"/>
<rect x="56.9" y="162.3" width="0.9" height="0.9" fill="#383838" opacity="0.8"/>
<rect x="54.0" y="162.5" width="0.9" height="0.9" fill="#434343" opacity="0.8"/>
<rect x="55.7" y="162.2" width="0.9" height="0.9" fill="#161616" opacity="0.8"/>
<rect x="55.6" y="163.4" width="0.9" height="0.9" fill="#343434" opacity="0.8"/>
<rect x="48.9" y="161.0" width="0.9" height="0.9" fill="#1b1b1b" opacity="0.8"/>
<rect x="51.6" y="162.5" width="0.9" height="0.9" fill="#1f1f1f" opacity="0.8"/>
<rect x="57.4" y="162.3" width="0.9" height="0.9" fill="#0f0f0f" opacity="0.8"/>
<rect x="46.2" y="170.3" width="0.8" height="0.8" fill="#373737" opacity="0.7"/>
<rect x="48.3" y="163.0" width="0.8" height="0.8" fill="#505050" opacity="0.7"/>
<rect x="47.2" y="165.9" width="0.8" height="0.8" fill="#181818" opacity="0.7"/>
<rect x="47.1" y="165.4" width="0.8" height="0.8" fill="#262626" opacity="0.7"/>
<rect x="47.0" y="175.7" width="0.8" height="0.8" fill="#1a1a1a" opacity="0.7"/>
<rect x="46.3" y="170.8" width="0.8" height="0.8" fill="#000000" opacity="0.7"/>
<rect x="47.6" y="163.1" width="0.8" height="0.8" fill="#383838" opacity="0.7"/>
<rect x="47.7" y="173.4" width="0.8" height="0.8" fill="#1d1d1d" opacity="0.7"/>
<rect x="46.8" y="165.3" width="0.8" height="0.8" fill="#555555" opacity="0.7"/>
<rect x="46.2" y="163.6" width="0.8" height="0.8" fill="#252525" opacity="0.7"/>
<rect x="46.7" y="173.9" width="0.8" height="0.8" fill="#141414" opacity="0.7"/>
<rect x="46.3" y="177.7" width="0.8" height="0.8" fill="#080808" opacity="0.7"/>
<rect x="48.4" y="168.8" width="0.8" height="0.8" fill="#2f2f2f" opacity="0.7"/>
<rect x="47.7" y="175.3" width="0.8" height="0.8" fill="#515151" opacity="0.7"/>
<rect x="47.2" y="171.2" width="0.8" height="0.8" fill="#0f0f0f" opacity="0.7"/>
<rect x="46.3" y="172.2" width="0.8" height="0.8" fill="#3e3e3e" opacity="0.7"/>
<rect x="58.0" y="170.6" width="0.8" height="0.8" fill="#373737" opacity="0.7"/>
<rect x="57.9" y="170.5" width="0.8" height="0.8" fill="#191919" opacity="0.7"/>
<rect x="56.5" y="175.9" width="0.8" height="0.8" fill="#303030" opacity="0.7"/>
<rect x="56.6" y="178.2" width="0.8" height="0.8" fill="#232323" opacity="0.7"/>
<rect x="57.7" y="174.7" width="0.8" height="0.8" fill="#535353" opacity="0.7"/>
<rect x="56.8" y="180.6" width="0.8" height="0.8" fill="#191919" opacity="0.7"/>
<rect x="56.1" y="170.7" width="0.8" height="0.8" fill="#4e4e4e" opacity="0.7"/>
<rect x="56.4" y="165.8" width="0.8" height="0.8" fill="#424242" opacity="0.7"/>
<rect x="56.1" y="165.7" width="0.8" height="0.8" fill="#222222" opacity="0.7"/>
<rect x="57.9" y="167.6" width="0.8" height="0.8" fill="#474747" opacity="0.7"/>
<rect x="55.7" y="164.4" width="0.8" height="0.8" fill="#4e4e4e" opacity="0.7"/>
<rect x="56.8" y="181.5" width="0.8" height="0.8" fill="#262626" opacity="0.7"/>
<rect x="57.9" y="171.7" width="0.8" height="0.8" fill="#080808" opacity="0.7"/>
<rect x="55.9" y="179.1" width="0.8" height="0.8" fill="#333333" opacity="0.7"/>
<rect x="56.4" y="177.4" width="0.8" height="0.8" fill="#020202" opacity="0.7"/>
<rect x="57.6" y="170.2" width="0.8" height="0.8" fill="#3c3c3c" opacity="0.7"/>
<ellipse cx="49.3" cy="156.29999999999998" rx="3.6" ry="7.6" transform="rotate(26 49.3 156.29999999999998)" fill="none" stroke="#000" stroke-width="2.0"/>
<rect x="21.15" y="138.15" width="44.10" height="44.10" fill="none" stroke="#000" stroke-width="1.9"/>
<rect x="69.00" y="137.20" width="46.40" height="46.00" fill="#fff" stroke="none"/>
<rect x="73.9" y="164.9" width="0.8" height="0.8" fill="#8e8e8e" opacity="0.9"/>
<rect x="92.1" y="151.5" width="0.8" height="0.8" fill="#c1c1c1" opacity="0.9"/>
<rect x="90.9" y="164.6" width="0.8" height="0.8" fill="#868686" opacity="0.9"/>
<rect x="103.0" y="159.3" width="0.8" height="0.8" fill="#a6a6a6" opacity="0.9"/>
<rect x="81.3" y="147.9" width="0.8" height="0.8" fill="#cfcfcf" opacity="0.9"/>
<rect x="103.2" y="157.3" width="0.8" height="0.8" fill="#b0b0b0" opacity="0.9"/>
<rect x="81.1" y="164.7" width="0.8" height="0.8" fill="#7e7e7e" opacity="0.9"/>
<rect x="85.1" y="156.8" width="0.8" height="0.8" fill="#9f9f9f" opacity="0.9"/>
<rect x="98.7" y="150.4" width="0.8" height="0.8" fill="#cbcbcb" opacity="0.9"/>
<rect x="80.6" y="156.7" width="0.8" height="0.8" fill="#979797" opacity="0.9"/>
<rect x="86.1" y="161.3" width="0.8" height="0.8" fill="#9d9d9d" opacity="0.9"/>
<rect x="92.1" y="158.0" width="0.8" height="0.8" fill="#959595" opacity="0.9"/>
<rect x="88.0" y="161.0" width="0.8" height="0.8" fill="#969696" opacity="0.9"/>
<rect x="81.4" y="151.1" width="0.8" height="0.8" fill="#b7b7b7" opacity="0.9"/>
<rect x="81.2" y="162.5" width="0.8" height="0.8" fill="#a9a9a9" opacity="0.9"/>
<rect x="87.9" y="156.3" width="0.8" height="0.8" fill="#b2b2b2" opacity="0.9"/>
<rect x="79.0" y="159.4" width="0.8" height="0.8" fill="#a0a0a0" opacity="0.9"/>
<rect x="102.2" y="150.5" width="0.8" height="0.8" fill="#d0d0d0" opacity="0.9"/>
<rect x="75.5" y="157.3" width="0.8" height="0.8" fill="#9a9a9a" opacity="0.9"/>
<rect x="97.7" y="164.9" width="0.8" height="0.8" fill="#838383" opacity="0.9"/>
<rect x="94.2" y="160.7" width="0.8" height="0.8" fill="#a6a6a6" opacity="0.9"/>
<rect x="101.7" y="160.0" width="0.8" height="0.8" fill="#919191" opacity="0.9"/>
<rect x="92.5" y="161.7" width="0.8" height="0.8" fill="#a7a7a7" opacity="0.9"/>
<rect x="77.1" y="155.3" width="0.8" height="0.8" fill="#b2b2b2" opacity="0.9"/>
<rect x="84.8" y="149.6" width="0.8" height="0.8" fill="#dadada" opacity="0.9"/>
<rect x="83.9" y="154.4" width="0.8" height="0.8" fill="#a7a7a7" opacity="0.9"/>
<rect x="93.0" y="157.0" width="0.8" height="0.8" fill="#c0c0c0" opacity="0.9"/>
<rect x="80.4" y="155.0" width="0.8" height="0.8" fill="#aeaeae" opacity="0.9"/>
<rect x="84.1" y="160.2" width="0.8" height="0.8" fill="#8f8f8f" opacity="0.9"/>
<rect x="87.9" y="161.1" width="0.8" height="0.8" fill="#9e9e9e" opacity="0.9"/>
<rect x="72.2" y="164.5" width="0.8" height="0.8" fill="#989898" opacity="0.9"/>
<rect x="73.5" y="157.0" width="0.8" height="0.8" fill="#9c9c9c" opacity="0.9"/>
<rect x="82.9" y="152.3" width="0.8" height="0.8" fill="#cdcdcd" opacity="0.9"/>
<rect x="86.2" y="161.1" width="0.8" height="0.8" fill="#a0a0a0" opacity="0.9"/>
<rect x="103.5" y="149.7" width="0.8" height="0.8" fill="#b8b8b8" opacity="0.9"/>
<rect x="89.0" y="163.4" width="0.8" height="0.8" fill="#818181" opacity="0.9"/>
<rect x="100.4" y="157.6" width="0.8" height="0.8" fill="#a8a8a8" opacity="0.9"/>
<rect x="99.5" y="157.7" width="0.8" height="0.8" fill="#999999" opacity="0.9"/>
<rect x="89.2" y="147.5" width="0.8" height="0.8" fill="#dbdbdb" opacity="0.9"/>
<rect x="103.0" y="161.8" width="0.8" height="0.8" fill="#878787" opacity="0.9"/>
<rect x="77.8" y="149.0" width="0.8" height="0.8" fill="#dcdcdc" opacity="0.9"/>
<rect x="78.3" y="158.8" width="0.8" height="0.8" fill="#a2a2a2" opacity="0.9"/>
<rect x="91.8" y="152.1" width="0.8" height="0.8" fill="#ababab" opacity="0.9"/>
<rect x="102.2" y="160.0" width="0.8" height="0.8" fill="#959595" opacity="0.9"/>
<rect x="90.6" y="158.9" width="0.8" height="0.8" fill="#a0a0a0" opacity="0.9"/>
<rect x="93.0" y="164.4" width="0.8" height="0.8" fill="#8e8e8e" opacity="0.9"/>
<rect x="78.0" y="164.7" width="0.8" height="0.8" fill="#929292" opacity="0.9"/>
<rect x="72.1" y="150.8" width="0.8" height="0.8" fill="#cdcdcd" opacity="0.9"/>
<rect x="90.5" y="155.6" width="0.8" height="0.8" fill="#b4b4b4" opacity="0.9"/>
<rect x="100.2" y="158.5" width="0.8" height="0.8" fill="#969696" opacity="0.9"/>
<rect x="84.2" y="149.6" width="0.8" height="0.8" fill="#c4c4c4" opacity="0.9"/>
<rect x="82.4" y="163.6" width="0.8" height="0.8" fill="#818181" opacity="0.9"/>
<rect x="103.5" y="152.2" width="0.8" height="0.8" fill="#c4c4c4" opacity="0.9"/>
<rect x="82.1" y="159.4" width="0.8" height="0.8" fill="#959595" opacity="0.9"/>
<rect x="80.6" y="154.4" width="0.8" height="0.8" fill="#a0a0a0" opacity="0.9"/>
<rect x="87.5" y="158.0" width="0.8" height="0.8" fill="#939393" opacity="0.9"/>
<rect x="79.4" y="153.1" width="0.8" height="0.8" fill="#cdcdcd" opacity="0.9"/>
<rect x="79.6" y="162.1" width="0.8" height="0.8" fill="#959595" opacity="0.9"/>
<rect x="88.3" y="159.1" width="0.8" height="0.8" fill="#a2a2a2" opacity="0.9"/>
<rect x="89.7" y="149.0" width="0.8" height="0.8" fill="#d1d1d1" opacity="0.9"/>
<rect x="76.8" y="164.1" width="0.8" height="0.8" fill="#9b9b9b" opacity="0.9"/>
<rect x="93.4" y="153.9" width="0.8" height="0.8" fill="#a9a9a9" opacity="0.9"/>
<rect x="77.9" y="154.8" width="0.8" height="0.8" fill="#a5a5a5" opacity="0.9"/>
<rect x="82.0" y="153.5" width="0.8" height="0.8" fill="#b7b7b7" opacity="0.9"/>
<rect x="72.5" y="151.0" width="0.8" height="0.8" fill="#cfcfcf" opacity="0.9"/>
<rect x="72.9" y="159.2" width="0.8" height="0.8" fill="#909090" opacity="0.9"/>
<rect x="72.0" y="149.9" width="0.8" height="0.8" fill="#d0d0d0" opacity="0.9"/>
<rect x="87.6" y="164.4" width="0.8" height="0.8" fill="#848484" opacity="0.9"/>
<rect x="75.6" y="164.7" width="0.8" height="0.8" fill="#8b8b8b" opacity="0.9"/>
<rect x="82.2" y="155.6" width="0.8" height="0.8" fill="#acacac" opacity="0.9"/>
<rect x="72.9" y="149.9" width="0.8" height="0.8" fill="#afafaf" opacity="0.9"/>
<rect x="72.2" y="152.1" width="0.8" height="0.8" fill="#bababa" opacity="0.9"/>
<rect x="78.3" y="147.3" width="0.8" height="0.8" fill="#b9b9b9" opacity="0.9"/>
<rect x="98.8" y="150.6" width="0.8" height="0.8" fill="#d2d2d2" opacity="0.9"/>
<rect x="87.2" y="158.3" width="0.8" height="0.8" fill="#a0a0a0" opacity="0.9"/>
<rect x="74.3" y="160.4" width="0.8" height="0.8" fill="#969696" opacity="0.9"/>
<rect x="102.6" y="155.6" width="0.8" height="0.8" fill="#acacac" opacity="0.9"/>
<rect x="102.6" y="158.2" width="0.8" height="0.8" fill="#a8a8a8" opacity="0.9"/>
<rect x="74.4" y="164.3" width="0.8" height="0.8" fill="#979797" opacity="0.9"/>
<rect x="87.4" y="159.4" width="0.8" height="0.8" fill="#a2a2a2" opacity="0.9"/>
<rect x="71.8" y="153.4" width="0.8" height="0.8" fill="#b7b7b7" opacity="0.9"/>
<rect x="96.3" y="150.7" width="0.8" height="0.8" fill="#b9b9b9" opacity="0.9"/>
<rect x="91.0" y="159.6" width="0.8" height="0.8" fill="#a5a5a5" opacity="0.9"/>
<rect x="93.1" y="165.0" width="0.8" height="0.8" fill="#8c8c8c" opacity="0.9"/>
<rect x="100.6" y="160.8" width="0.8" height="0.8" fill="#9b9b9b" opacity="0.9"/>
<rect x="74.4" y="155.6" width="0.8" height="0.8" fill="#b5b5b5" opacity="0.9"/>
<rect x="72.7" y="161.6" width="0.8" height="0.8" fill="#8e8e8e" opacity="0.9"/>
<rect x="98.3" y="160.0" width="0.8" height="0.8" fill="#b1b1b1" opacity="0.9"/>
<rect x="97.4" y="154.9" width="0.8" height="0.8" fill="#afafaf" opacity="0.9"/>
<rect x="100.1" y="155.5" width="0.8" height="0.8" fill="#b4b4b4" opacity="0.9"/>
<rect x="75.8" y="153.3" width="0.8" height="0.8" fill="#b0b0b0" opacity="0.9"/>
<rect x="100.8" y="164.8" width="0.8" height="0.8" fill="#858585" opacity="0.9"/>
<rect x="93.0" y="163.8" width="0.8" height="0.8" fill="#9b9b9b" opacity="0.9"/>
<rect x="94.1" y="152.6" width="0.8" height="0.8" fill="#b0b0b0" opacity="0.9"/>
<rect x="101.0" y="163.6" width="0.8" height="0.8" fill="#888888" opacity="0.9"/>
<rect x="95.2" y="151.0" width="0.8" height="0.8" fill="#cccccc" opacity="0.9"/>
<rect x="94.7" y="147.5" width="0.8" height="0.8" fill="#d9d9d9" opacity="0.9"/>
<rect x="91.3" y="163.8" width="0.8" height="0.8" fill="#9f9f9f" opacity="0.9"/>
<rect x="98.0" y="164.3" width="0.8" height="0.8" fill="#8d8d8d" opacity="0.9"/>
<rect x="100.2" y="148.2" width="0.8" height="0.8" fill="#bcbcbc" opacity="0.9"/>
<rect x="85.8" y="150.8" width="0.8" height="0.8" fill="#d6d6d6" opacity="0.9"/>
<rect x="80.5" y="160.5" width="0.8" height="0.8" fill="#9f9f9f" opacity="0.9"/>
<rect x="97.3" y="164.7" width="0.8" height="0.8" fill="#7e7e7e" opacity="0.9"/>
<rect x="98.7" y="165.0" width="0.8" height="0.8" fill="#9c9c9c" opacity="0.9"/>
<rect x="93.5" y="153.0" width="0.8" height="0.8" fill="#b2b2b2" opacity="0.9"/>
<rect x="73.3" y="160.4" width="0.8" height="0.8" fill="#b1b1b1" opacity="0.9"/>
<rect x="88.9" y="164.8" width="0.8" height="0.8" fill="#9f9f9f" opacity="0.9"/>
<rect x="99.2" y="158.9" width="0.8" height="0.8" fill="#afafaf" opacity="0.9"/>
<rect x="87.1" y="151.0" width="0.8" height="0.8" fill="#b0b0b0" opacity="0.9"/>
<rect x="100.3" y="163.7" width="0.8" height="0.8" fill="#8a8a8a" opacity="0.9"/>
<rect x="100.8" y="164.7" width="0.8" height="0.8" fill="#a1a1a1" opacity="0.9"/>
<rect x="79.5" y="149.5" width="0.8" height="0.8" fill="#b8b8b8" opacity="0.9"/>
<rect x="85.5" y="157.8" width="0.8" height="0.8" fill="#b6b6b6" opacity="0.9"/>
<rect x="103.3" y="147.6" width="0.8" height="0.8" fill="#bdbdbd" opacity="0.9"/>
<rect x="77.1" y="153.9" width="0.8" height="0.8" fill="#b1b1b1" opacity="0.9"/>
<rect x="75.8" y="154.6" width="0.8" height="0.8" fill="#b1b1b1" opacity="0.9"/>
<rect x="97.6" y="156.1" width="0.8" height="0.8" fill="#a0a0a0" opacity="0.9"/>
<rect x="91.3" y="160.5" width="0.8" height="0.8" fill="#8f8f8f" opacity="0.9"/>
<rect x="93.9" y="164.9" width="0.8" height="0.8" fill="#9e9e9e" opacity="0.9"/>
<rect x="77.7" y="161.6" width="0.8" height="0.8" fill="#848484" opacity="0.9"/>
<defs><linearGradient id="g8" x1="69.6" x2="107.3" y1="0" y2="0" gradientUnits="userSpaceOnUse"><stop offset="0.000" stop-color="#111"/><stop offset="0.050" stop-color="#222"/><stop offset="0.117" stop-color="#555"/><stop offset="0.196" stop-color="#999"/><stop offset="0.302" stop-color="#d5d5d5"/><stop offset="0.488" stop-color="#dadada"/><stop offset="0.594" stop-color="#aaa"/><stop offset="0.660" stop-color="#3a3a3a"/><stop offset="0.753" stop-color="#444"/><stop offset="0.820" stop-color="#888"/><stop offset="0.886" stop-color="#888"/><stop offset="0.952" stop-color="#333"/><stop offset="1.000" stop-color="#111"/></linearGradient></defs>
<path d="M69.6,183.2 L69.6,167.2 Q69.6,164.2 72.6,164.2 L104.3,164.2 Q107.3,164.2 107.3,167.2 L107.3,183.2 Z" fill="url(#g8)" filter="url(#blur04)"/>
<path d="M69.6,183.2 L69.6,167.2 Q69.6,164.2 72.6,164.2 L104.3,164.2 Q107.3,164.2 107.3,167.2 L107.3,183.2 Z" fill="url(#vtop)"/>
<path d="M70.69999999999999,183.2 L70.69999999999999,167.2 Q70.69999999999999,165.29999999999998 72.6,165.29999999999998 L104.3,165.29999999999998 Q106.2,165.29999999999998 106.2,167.2 L106.2,183.2" fill="none" stroke="#111" stroke-width="2.8" filter="url(#blur08)"/>
<rect x="81.6" y="164.5" width="0.9" height="0.9" fill="#3b3b3b" opacity="0.8"/>
<rect x="100.4" y="163.9" width="0.9" height="0.9" fill="#383838" opacity="0.8"/>
<rect x="73.1" y="163.4" width="0.9" height="0.9" fill="#171717" opacity="0.8"/>
<rect x="75.3" y="162.6" width="0.9" height="0.9" fill="#000000" opacity="0.8"/>
<rect x="72.6" y="164.3" width="0.9" height="0.9" fill="#0a0a0a" opacity="0.8"/>
<rect x="73.9" y="163.7" width="0.9" height="0.9" fill="#060606" opacity="0.8"/>
<rect x="103.0" y="163.5" width="0.9" height="0.9" fill="#393939" opacity="0.8"/>
<rect x="73.5" y="163.5" width="0.9" height="0.9" fill="#191919" opacity="0.8"/>
<rect x="78.4" y="164.6" width="0.9" height="0.9" fill="#2c2c2c" opacity="0.8"/>
<rect x="99.5" y="163.9" width="0.9" height="0.9" fill="#101010" opacity="0.8"/>
<rect x="103.1" y="162.6" width="0.9" height="0.9" fill="#353535" opacity="0.8"/>
<rect x="80.0" y="164.5" width="0.9" height="0.9" fill="#1b1b1b" opacity="0.8"/>
<rect x="86.0" y="163.6" width="0.9" height="0.9" fill="#181818" opacity="0.8"/>
<rect x="102.6" y="164.2" width="0.9" height="0.9" fill="#3d3d3d" opacity="0.8"/>
<rect x="80.8" y="164.1" width="0.9" height="0.9" fill="#0b0b0b" opacity="0.8"/>
<rect x="105.5" y="163.7" width="0.9" height="0.9" fill="#484848" opacity="0.8"/>
<rect x="86.3" y="163.6" width="0.9" height="0.9" fill="#3f3f3f" opacity="0.8"/>
<rect x="79.1" y="162.7" width="0.9" height="0.9" fill="#404040" opacity="0.8"/>
<rect x="96.3" y="164.2" width="0.9" height="0.9" fill="#414141" opacity="0.8"/>
<rect x="85.8" y="165.2" width="0.9" height="0.9" fill="#3d3d3d" opacity="0.8"/>
<rect x="103.2" y="164.7" width="0.9" height="0.9" fill="#2b2b2b" opacity="0.8"/>
<rect x="83.6" y="162.7" width="0.9" height="0.9" fill="#0a0a0a" opacity="0.8"/>
<rect x="104.9" y="164.2" width="0.9" height="0.9" fill="#272727" opacity="0.8"/>
<rect x="85.0" y="162.8" width="0.9" height="0.9" fill="#292929" opacity="0.8"/>
<rect x="86.3" y="163.7" width="0.9" height="0.9" fill="#4b4b4b" opacity="0.8"/>
<rect x="87.6" y="165.1" width="0.9" height="0.9" fill="#111111" opacity="0.8"/>
<rect x="75.7" y="163.1" width="0.9" height="0.9" fill="#404040" opacity="0.8"/>
<rect x="102.9" y="163.6" width="0.9" height="0.9" fill="#030303" opacity="0.8"/>
<rect x="79.7" y="163.9" width="0.9" height="0.9" fill="#3f3f3f" opacity="0.8"/>
<rect x="83.6" y="164.7" width="0.9" height="0.9" fill="#1b1b1b" opacity="0.8"/>
<rect x="85.6" y="162.5" width="0.9" height="0.9" fill="#343434" opacity="0.8"/>
<rect x="97.3" y="164.4" width="0.9" height="0.9" fill="#0b0b0b" opacity="0.8"/>
<rect x="72.5" y="165.1" width="0.9" height="0.9" fill="#1c1c1c" opacity="0.8"/>
<rect x="81.1" y="163.0" width="0.9" height="0.9" fill="#2f2f2f" opacity="0.8"/>
<rect x="91.4" y="164.9" width="0.9" height="0.9" fill="#3a3a3a" opacity="0.8"/>
<rect x="93.6" y="163.4" width="0.9" height="0.9" fill="#0d0d0d" opacity="0.8"/>
<rect x="77.8" y="163.3" width="0.9" height="0.9" fill="#0e0e0e" opacity="0.8"/>
<rect x="91.7" y="163.7" width="0.9" height="0.9" fill="#343434" opacity="0.8"/>
<rect x="94.7" y="164.0" width="0.9" height="0.9" fill="#505050" opacity="0.8"/>
<rect x="75.7" y="165.0" width="0.9" height="0.9" fill="#4b4b4b" opacity="0.8"/>
<rect x="88.7" y="165.2" width="0.9" height="0.9" fill="#2a2a2a" opacity="0.8"/>
<rect x="78.7" y="163.3" width="0.9" height="0.9" fill="#3f3f3f" opacity="0.8"/>
<rect x="97.4" y="162.5" width="0.9" height="0.9" fill="#3f3f3f" opacity="0.8"/>
<rect x="90.9" y="163.0" width="0.9" height="0.9" fill="#060606" opacity="0.8"/>
<rect x="100.6" y="162.6" width="0.9" height="0.9" fill="#262626" opacity="0.8"/>
<rect x="99.4" y="164.9" width="0.9" height="0.9" fill="#1e1e1e" opacity="0.8"/>
<rect x="88.4" y="163.2" width="0.9" height="0.9" fill="#444444" opacity="0.8"/>
<rect x="84.9" y="162.6" width="0.9" height="0.9" fill="#080808" opacity="0.8"/>
<rect x="75.7" y="163.0" width="0.9" height="0.9" fill="#0b0b0b" opacity="0.8"/>
<rect x="83.8" y="165.0" width="0.9" height="0.9" fill="#262626" opacity="0.8"/>
<rect x="83.1" y="162.8" width="0.9" height="0.9" fill="#292929" opacity="0.8"/>
<rect x="94.5" y="163.0" width="0.9" height="0.9" fill="#050505" opacity="0.8"/>
<rect x="72.1" y="163.3" width="0.9" height="0.9" fill="#333333" opacity="0.8"/>
<rect x="93.3" y="163.2" width="0.9" height="0.9" fill="#393939" opacity="0.8"/>
<rect x="107.3" y="163.1" width="0.9" height="0.9" fill="#3b3b3b" opacity="0.8"/>
<rect x="76.1" y="164.7" width="0.9" height="0.9" fill="#3a3a3a" opacity="0.8"/>
<rect x="105.8" y="164.9" width="0.9" height="0.9" fill="#111111" opacity="0.8"/>
<rect x="92.2" y="164.2" width="0.9" height="0.9" fill="#323232" opacity="0.8"/>
<rect x="98.7" y="162.6" width="0.9" height="0.9" fill="#262626" opacity="0.8"/>
<rect x="106.9" y="164.3" width="0.9" height="0.9" fill="#444444" opacity="0.8"/>
<rect x="78.2" y="164.7" width="0.9" height="0.9" fill="#474747" opacity="0.8"/>
<rect x="82.0" y="163.0" width="0.9" height="0.9" fill="#282828" opacity="0.8"/>
<rect x="69.5" y="163.6" width="0.9" height="0.9" fill="#373737" opacity="0.8"/>
<rect x="99.4" y="164.4" width="0.9" height="0.9" fill="#262626" opacity="0.8"/>
<rect x="88.4" y="164.0" width="0.9" height="0.9" fill="#1c1c1c" opacity="0.8"/>
<rect x="80.6" y="164.4" width="0.9" height="0.9" fill="#2c2c2c" opacity="0.8"/>
<rect x="90.8" y="163.7" width="0.9" height="0.9" fill="#2d2d2d" opacity="0.8"/>
<rect x="100.7" y="165.2" width="0.9" height="0.9" fill="#303030" opacity="0.8"/>
<rect x="72.2" y="164.8" width="0.9" height="0.9" fill="#494949" opacity="0.8"/>
<rect x="103.1" y="162.5" width="0.9" height="0.9" fill="#454545" opacity="0.8"/>
<rect x="95.9" y="164.2" width="0.9" height="0.9" fill="#282828" opacity="0.8"/>
<rect x="88.4" y="163.6" width="0.9" height="0.9" fill="#464646" opacity="0.8"/>
<rect x="92.3" y="163.0" width="0.9" height="0.9" fill="#040404" opacity="0.8"/>
<rect x="87.3" y="164.9" width="0.9" height="0.9" fill="#292929" opacity="0.8"/>
<rect x="87.4" y="162.4" width="0.9" height="0.9" fill="#212121" opacity="0.8"/>
<rect x="80.4" y="164.3" width="0.9" height="0.9" fill="#111111" opacity="0.8"/>
<rect x="93.8" y="163.6" width="0.9" height="0.9" fill="#4f4f4f" opacity="0.8"/>
<rect x="95.0" y="163.0" width="0.9" height="0.9" fill="#444444" opacity="0.8"/>
<rect x="88.1" y="162.9" width="0.9" height="0.9" fill="#191919" opacity="0.8"/>
<rect x="107.4" y="163.5" width="0.9" height="0.9" fill="#020202" opacity="0.8"/>
<rect x="72.7" y="163.4" width="0.9" height="0.9" fill="#181818" opacity="0.8"/>
<rect x="91.5" y="162.9" width="0.9" height="0.9" fill="#242424" opacity="0.8"/>
<rect x="68.7" y="178.5" width="0.8" height="0.8" fill="#121212" opacity="0.7"/>
<rect x="70.7" y="170.0" width="0.8" height="0.8" fill="#414141" opacity="0.7"/>
<rect x="69.4" y="176.4" width="0.8" height="0.8" fill="#3a3a3a" opacity="0.7"/>
<rect x="70.7" y="169.6" width="0.8" height="0.8" fill="#565656" opacity="0.7"/>
<rect x="70.1" y="174.9" width="0.8" height="0.8" fill="#202020" opacity="0.7"/>
<rect x="70.0" y="182.7" width="0.8" height="0.8" fill="#010101" opacity="0.7"/>
<rect x="68.9" y="168.6" width="0.8" height="0.8" fill="#191919" opacity="0.7"/>
<rect x="70.3" y="169.2" width="0.8" height="0.8" fill="#2b2b2b" opacity="0.7"/>
<rect x="68.5" y="180.1" width="0.8" height="0.8" fill="#272727" opacity="0.7"/>
<rect x="69.1" y="173.9" width="0.8" height="0.8" fill="#222222" opacity="0.7"/>
<rect x="68.7" y="171.1" width="0.8" height="0.8" fill="#515151" opacity="0.7"/>
<rect x="69.3" y="166.5" width="0.8" height="0.8" fill="#171717" opacity="0.7"/>
<rect x="69.4" y="165.8" width="0.8" height="0.8" fill="#393939" opacity="0.7"/>
<rect x="69.6" y="171.2" width="0.8" height="0.8" fill="#424242" opacity="0.7"/>
<rect x="70.3" y="178.0" width="0.8" height="0.8" fill="#2b2b2b" opacity="0.7"/>
<rect x="107.1" y="176.0" width="0.8" height="0.8" fill="#212121" opacity="0.7"/>
<rect x="107.4" y="173.2" width="0.8" height="0.8" fill="#2a2a2a" opacity="0.7"/>
<rect x="108.3" y="168.8" width="0.8" height="0.8" fill="#212121" opacity="0.7"/>
<rect x="107.6" y="166.1" width="0.8" height="0.8" fill="#1f1f1f" opacity="0.7"/>
<rect x="108.2" y="164.8" width="0.8" height="0.8" fill="#595959" opacity="0.7"/>
<rect x="107.4" y="166.7" width="0.8" height="0.8" fill="#575757" opacity="0.7"/>
<rect x="108.1" y="170.9" width="0.8" height="0.8" fill="#3f3f3f" opacity="0.7"/>
<rect x="107.0" y="165.3" width="0.8" height="0.8" fill="#555555" opacity="0.7"/>
<rect x="107.6" y="172.3" width="0.8" height="0.8" fill="#3c3c3c" opacity="0.7"/>
<rect x="106.6" y="177.7" width="0.8" height="0.8" fill="#050505" opacity="0.7"/>
<rect x="106.3" y="170.8" width="0.8" height="0.8" fill="#3e3e3e" opacity="0.7"/>
<rect x="106.5" y="174.2" width="0.8" height="0.8" fill="#161616" opacity="0.7"/>
<rect x="108.4" y="176.2" width="0.8" height="0.8" fill="#424242" opacity="0.7"/>
<rect x="107.6" y="180.6" width="0.8" height="0.8" fill="#101010" opacity="0.7"/>
<rect x="106.8" y="175.3" width="0.8" height="0.8" fill="#2a2a2a" opacity="0.7"/>
<ellipse cx="98.3" cy="156.29999999999998" rx="3.6" ry="7.6" transform="rotate(26 98.3 156.29999999999998)" fill="none" stroke="#000" stroke-width="2.0"/>
<rect x="69.95" y="138.15" width="44.50" height="44.10" fill="none" stroke="#000" stroke-width="1.9"/>
<rect x="117.50" y="137.20" width="46.40" height="46.00" fill="#fff" stroke="none"/>
<rect x="129.3" y="152.9" width="0.8" height="0.8" fill="#bfbfbf" opacity="0.9"/>
<rect x="127.6" y="152.5" width="0.8" height="0.8" fill="#c2c2c2" opacity="0.9"/>
<rect x="141.2" y="153.4" width="0.8" height="0.8" fill="#b5b5b5" opacity="0.9"/>
<rect x="131.1" y="152.8" width="0.8" height="0.8" fill="#b6b6b6" opacity="0.9"/>
<rect x="138.4" y="154.8" width="0.8" height="0.8" fill="#c5c5c5" opacity="0.9"/>
<rect x="132.4" y="161.5" width="0.8" height="0.8" fill="#9f9f9f" opacity="0.9"/>
<rect x="120.5" y="154.7" width="0.8" height="0.8" fill="#c5c5c5" opacity="0.9"/>
<rect x="125.6" y="155.9" width="0.8" height="0.8" fill="#adadad" opacity="0.9"/>
<rect x="136.0" y="161.8" width="0.8" height="0.8" fill="#9c9c9c" opacity="0.9"/>
<rect x="127.2" y="154.5" width="0.8" height="0.8" fill="#bababa" opacity="0.9"/>
<rect x="137.5" y="159.9" width="0.8" height="0.8" fill="#979797" opacity="0.9"/>
<rect x="118.6" y="158.1" width="0.8" height="0.8" fill="#8e8e8e" opacity="0.9"/>
<rect x="138.6" y="156.0" width="0.8" height="0.8" fill="#adadad" opacity="0.9"/>
<rect x="141.4" y="152.7" width="0.8" height="0.8" fill="#dedede" opacity="0.9"/>
<rect x="120.0" y="155.7" width="0.8" height="0.8" fill="#bebebe" opacity="0.9"/>
<rect x="132.5" y="162.0" width="0.8" height="0.8" fill="#9a9a9a" opacity="0.9"/>
<rect x="128.5" y="156.9" width="0.8" height="0.8" fill="#b9b9b9" opacity="0.9"/>
<rect x="124.6" y="161.9" width="0.8" height="0.8" fill="#9b9b9b" opacity="0.9"/>
<rect x="124.5" y="161.8" width="0.8" height="0.8" fill="#757575" opacity="0.9"/>
<rect x="141.9" y="155.2" width="0.8" height="0.8" fill="#a8a8a8" opacity="0.9"/>
<rect x="121.5" y="153.3" width="0.8" height="0.8" fill="#cccccc" opacity="0.9"/>
<rect x="132.0" y="161.3" width="0.8" height="0.8" fill="#868686" opacity="0.9"/>
<rect x="140.7" y="162.0" width="0.8" height="0.8" fill="#828282" opacity="0.9"/>
<rect x="119.4" y="152.0" width="0.8" height="0.8" fill="#bababa" opacity="0.9"/>
<rect x="140.9" y="154.0" width="0.8" height="0.8" fill="#cacaca" opacity="0.9"/>
<rect x="119.0" y="155.8" width="0.8" height="0.8" fill="#b2b2b2" opacity="0.9"/>
<rect x="129.8" y="161.2" width="0.8" height="0.8" fill="#8c8c8c" opacity="0.9"/>
<rect x="137.2" y="161.3" width="0.8" height="0.8" fill="#9d9d9d" opacity="0.9"/>
<rect x="128.1" y="160.2" width="0.8" height="0.8" fill="#868686" opacity="0.9"/>
<rect x="129.0" y="156.3" width="0.8" height="0.8" fill="#b2b2b2" opacity="0.9"/>
<rect x="139.4" y="157.8" width="0.8" height="0.8" fill="#a4a4a4" opacity="0.9"/>
<rect x="141.7" y="160.6" width="0.8" height="0.8" fill="#787878" opacity="0.9"/>
<rect x="125.9" y="159.8" width="0.8" height="0.8" fill="#838383" opacity="0.9"/>
<rect x="128.0" y="161.9" width="0.8" height="0.8" fill="#9b9b9b" opacity="0.9"/>
<rect x="129.6" y="153.5" width="0.8" height="0.8" fill="#cccccc" opacity="0.9"/>
<rect x="135.5" y="155.0" width="0.8" height="0.8" fill="#aeaeae" opacity="0.9"/>
<rect x="135.5" y="160.7" width="0.8" height="0.8" fill="#919191" opacity="0.9"/>
<rect x="132.3" y="154.8" width="0.8" height="0.8" fill="#a9a9a9" opacity="0.9"/>
<rect x="126.3" y="154.2" width="0.8" height="0.8" fill="#cccccc" opacity="0.9"/>
<rect x="141.5" y="161.4" width="0.8" height="0.8" fill="#7c7c7c" opacity="0.9"/>
<rect x="120.6" y="155.4" width="0.8" height="0.8" fill="#c1c1c1" opacity="0.9"/>
<rect x="133.6" y="154.8" width="0.8" height="0.8" fill="#bababa" opacity="0.9"/>
<rect x="131.5" y="153.0" width="0.8" height="0.8" fill="#cdcdcd" opacity="0.9"/>
<rect x="133.7" y="157.0" width="0.8" height="0.8" fill="#a9a9a9" opacity="0.9"/>
<rect x="136.2" y="157.2" width="0.8" height="0.8" fill="#979797" opacity="0.9"/>
<rect x="128.2" y="158.7" width="0.8" height="0.8" fill="#9a9a9a" opacity="0.9"/>
<rect x="131.5" y="159.3" width="0.8" height="0.8" fill="#939393" opacity="0.9"/>
<rect x="128.2" y="159.2" width="0.8" height="0.8" fill="#b0b0b0" opacity="0.9"/>
<rect x="120.2" y="162.0" width="0.8" height="0.8" fill="#909090" opacity="0.9"/>
<rect x="127.5" y="158.5" width="0.8" height="0.8" fill="#a3a3a3" opacity="0.9"/>
<rect x="126.8" y="160.4" width="0.8" height="0.8" fill="#797979" opacity="0.9"/>
<rect x="139.0" y="152.8" width="0.8" height="0.8" fill="#bebebe" opacity="0.9"/>
<rect x="129.2" y="159.7" width="0.8" height="0.8" fill="#818181" opacity="0.9"/>
<rect x="139.4" y="154.1" width="0.8" height="0.8" fill="#b2b2b2" opacity="0.9"/>
<rect x="124.1" y="155.7" width="0.8" height="0.8" fill="#c1c1c1" opacity="0.9"/>
<rect x="129.3" y="159.1" width="0.8" height="0.8" fill="#8e8e8e" opacity="0.9"/>
<rect x="137.2" y="153.7" width="0.8" height="0.8" fill="#d2d2d2" opacity="0.9"/>
<rect x="120.7" y="156.9" width="0.8" height="0.8" fill="#c1c1c1" opacity="0.9"/>
<rect x="135.2" y="158.4" width="0.8" height="0.8" fill="#8f8f8f" opacity="0.9"/>
<rect x="119.5" y="155.3" width="0.8" height="0.8" fill="#a1a1a1" opacity="0.9"/>
<rect x="137.4" y="156.1" width="0.8" height="0.8" fill="#afafaf" opacity="0.9"/>
<rect x="139.4" y="152.9" width="0.8" height="0.8" fill="#cdcdcd" opacity="0.9"/>
<rect x="120.4" y="157.0" width="0.8" height="0.8" fill="#a6a6a6" opacity="0.9"/>
<rect x="124.0" y="152.9" width="0.8" height="0.8" fill="#d2d2d2" opacity="0.9"/>
<rect x="120.9" y="160.5" width="0.8" height="0.8" fill="#898989" opacity="0.9"/>
<rect x="131.8" y="159.7" width="0.8" height="0.8" fill="#939393" opacity="0.9"/>
<rect x="137.5" y="160.9" width="0.8" height="0.8" fill="#989898" opacity="0.9"/>
<rect x="125.9" y="152.7" width="0.8" height="0.8" fill="#dedede" opacity="0.9"/>
<rect x="125.9" y="156.8" width="0.8" height="0.8" fill="#989898" opacity="0.9"/>
<rect x="127.9" y="156.6" width="0.8" height="0.8" fill="#b3b3b3" opacity="0.9"/>
<rect x="126.2" y="161.9" width="0.8" height="0.8" fill="#747474" opacity="0.9"/>
<rect x="131.5" y="161.0" width="0.8" height="0.8" fill="#838383" opacity="0.9"/>
<rect x="132.8" y="153.3" width="0.8" height="0.8" fill="#c5c5c5" opacity="0.9"/>
<rect x="124.1" y="157.0" width="0.8" height="0.8" fill="#9f9f9f" opacity="0.9"/>
<rect x="136.8" y="161.1" width="0.8" height="0.8" fill="#818181" opacity="0.9"/>
<rect x="128.5" y="153.2" width="0.8" height="0.8" fill="#b5b5b5" opacity="0.9"/>
<rect x="122.6" y="161.3" width="0.8" height="0.8" fill="#7d7d7d" opacity="0.9"/>
<rect x="126.0" y="159.0" width="0.8" height="0.8" fill="#a7a7a7" opacity="0.9"/>
<rect x="127.7" y="158.2" width="0.8" height="0.8" fill="#9c9c9c" opacity="0.9"/>
<rect x="136.6" y="153.2" width="0.8" height="0.8" fill="#c1c1c1" opacity="0.9"/>
<rect x="140.1" y="160.3" width="0.8" height="0.8" fill="#a8a8a8" opacity="0.9"/>
<rect x="130.6" y="155.9" width="0.8" height="0.8" fill="#acacac" opacity="0.9"/>
<rect x="124.5" y="161.3" width="0.8" height="0.8" fill="#9d9d9d" opacity="0.9"/>
<rect x="126.6" y="155.7" width="0.8" height="0.8" fill="#b1b1b1" opacity="0.9"/>
<rect x="130.6" y="160.7" width="0.8" height="0.8" fill="#7f7f7f" opacity="0.9"/>
<rect x="126.1" y="155.9" width="0.8" height="0.8" fill="#b3b3b3" opacity="0.9"/>
<rect x="118.1" y="155.6" width="0.8" height="0.8" fill="#b0b0b0" opacity="0.9"/>
<rect x="119.7" y="160.3" width="0.8" height="0.8" fill="#848484" opacity="0.9"/>
<rect x="137.7" y="157.4" width="0.8" height="0.8" fill="#9e9e9e" opacity="0.9"/>
<rect x="124.0" y="160.0" width="0.8" height="0.8" fill="#898989" opacity="0.9"/>
<rect x="138.1" y="177.8" width="0.8" height="0.8" fill="#c8c8c8" opacity="0.9"/>
<rect x="135.5" y="176.8" width="0.8" height="0.8" fill="#acacac" opacity="0.9"/>
<rect x="140.9" y="162.6" width="0.8" height="0.8" fill="#696969" opacity="0.9"/>
<rect x="135.2" y="172.7" width="0.8" height="0.8" fill="#d2d2d2" opacity="0.9"/>
<rect x="139.8" y="178.5" width="0.8" height="0.8" fill="#aeaeae" opacity="0.9"/>
<rect x="142.8" y="164.3" width="0.8" height="0.8" fill="#a2a2a2" opacity="0.9"/>
<rect x="143.8" y="177.0" width="0.8" height="0.8" fill="#8f8f8f" opacity="0.9"/>
<rect x="139.1" y="179.1" width="0.8" height="0.8" fill="#8b8b8b" opacity="0.9"/>
<rect x="137.3" y="179.1" width="0.8" height="0.8" fill="#737373" opacity="0.9"/>
<rect x="138.6" y="177.5" width="0.8" height="0.8" fill="#c8c8c8" opacity="0.9"/>
<rect x="143.0" y="166.7" width="0.8" height="0.8" fill="#707070" opacity="0.9"/>
<rect x="141.7" y="181.4" width="0.8" height="0.8" fill="#d1d1d1" opacity="0.9"/>
<rect x="143.8" y="174.5" width="0.8" height="0.8" fill="#bbbbbb" opacity="0.9"/>
<rect x="137.9" y="166.2" width="0.8" height="0.8" fill="#b2b2b2" opacity="0.9"/>
<rect x="135.8" y="182.2" width="0.8" height="0.8" fill="#696969" opacity="0.9"/>
<rect x="135.8" y="168.6" width="0.8" height="0.8" fill="#adadad" opacity="0.9"/>
<rect x="136.7" y="169.8" width="0.8" height="0.8" fill="#dbdbdb" opacity="0.9"/>
<rect x="137.4" y="174.1" width="0.8" height="0.8" fill="#d2d2d2" opacity="0.9"/>
<rect x="140.7" y="174.8" width="0.8" height="0.8" fill="#a5a5a5" opacity="0.9"/>
<rect x="137.7" y="173.0" width="0.8" height="0.8" fill="#d6d6d6" opacity="0.9"/>
<rect x="136.0" y="163.9" width="0.8" height="0.8" fill="#828282" opacity="0.9"/>
<rect x="138.3" y="171.6" width="0.8" height="0.8" fill="#757575" opacity="0.9"/>
<rect x="140.0" y="176.4" width="0.8" height="0.8" fill="#d6d6d6" opacity="0.9"/>
<rect x="140.2" y="163.7" width="0.8" height="0.8" fill="#939393" opacity="0.9"/>
<rect x="142.5" y="160.4" width="0.8" height="0.8" fill="#8c8c8c" opacity="0.9"/>
<rect x="142.5" y="160.6" width="0.8" height="0.8" fill="#6b6b6b" opacity="0.9"/>
<rect x="142.0" y="162.9" width="0.8" height="0.8" fill="#898989" opacity="0.9"/>
<rect x="142.4" y="179.5" width="0.8" height="0.8" fill="#dfdfdf" opacity="0.9"/>
<rect x="136.0" y="175.4" width="0.8" height="0.8" fill="#c9c9c9" opacity="0.9"/>
<rect x="143.0" y="174.6" width="0.8" height="0.8" fill="#a9a9a9" opacity="0.9"/>
<rect x="140.9" y="167.2" width="0.8" height="0.8" fill="#757575" opacity="0.9"/>
<rect x="139.0" y="170.0" width="0.8" height="0.8" fill="#7b7b7b" opacity="0.9"/>
<rect x="136.1" y="168.7" width="0.8" height="0.8" fill="#aaaaaa" opacity="0.9"/>
<rect x="137.9" y="165.4" width="0.8" height="0.8" fill="#939393" opacity="0.9"/>
<rect x="142.2" y="162.0" width="0.8" height="0.8" fill="#8e8e8e" opacity="0.9"/>
<rect x="140.5" y="170.3" width="0.8" height="0.8" fill="#c3c3c3" opacity="0.9"/>
<rect x="143.3" y="177.2" width="0.8" height="0.8" fill="#a8a8a8" opacity="0.9"/>
<rect x="140.0" y="174.1" width="0.8" height="0.8" fill="#d3d3d3" opacity="0.9"/>
<rect x="136.1" y="165.7" width="0.8" height="0.8" fill="#707070" opacity="0.9"/>
<rect x="136.4" y="167.4" width="0.8" height="0.8" fill="#d2d2d2" opacity="0.9"/>
<rect x="138.7" y="172.1" width="0.8" height="0.8" fill="#707070" opacity="0.9"/>
<rect x="136.6" y="181.1" width="0.8" height="0.8" fill="#999999" opacity="0.9"/>
<rect x="142.2" y="179.8" width="0.8" height="0.8" fill="#8c8c8c" opacity="0.9"/>
<rect x="135.5" y="176.8" width="0.8" height="0.8" fill="#878787" opacity="0.9"/>
<rect x="141.2" y="168.4" width="0.8" height="0.8" fill="#8f8f8f" opacity="0.9"/>
<rect x="140.9" y="180.8" width="0.8" height="0.8" fill="#9e9e9e" opacity="0.9"/>
<rect x="139.1" y="178.3" width="0.8" height="0.8" fill="#8f8f8f" opacity="0.9"/>
<rect x="137.7" y="176.0" width="0.8" height="0.8" fill="#707070" opacity="0.9"/>
<rect x="141.7" y="179.9" width="0.8" height="0.8" fill="#919191" opacity="0.9"/>
<rect x="141.4" y="171.9" width="0.8" height="0.8" fill="#bbbbbb" opacity="0.9"/>
<rect x="142.8" y="177.1" width="0.8" height="0.8" fill="#ababab" opacity="0.9"/>
<rect x="140.3" y="170.1" width="0.8" height="0.8" fill="#757575" opacity="0.9"/>
<rect x="143.0" y="178.0" width="0.8" height="0.8" fill="#8b8b8b" opacity="0.9"/>
<rect x="140.7" y="175.6" width="0.8" height="0.8" fill="#b8b8b8" opacity="0.9"/>
<rect x="143.7" y="160.9" width="0.8" height="0.8" fill="#cbcbcb" opacity="0.9"/>
<rect x="143.3" y="166.4" width="0.8" height="0.8" fill="#d9d9d9" opacity="0.9"/>
<rect x="139.9" y="169.2" width="0.8" height="0.8" fill="#ababab" opacity="0.9"/>
<rect x="139.8" y="163.0" width="0.8" height="0.8" fill="#838383" opacity="0.9"/>
<rect x="135.9" y="163.1" width="0.8" height="0.8" fill="#bababa" opacity="0.9"/>
<rect x="139.0" y="174.0" width="0.8" height="0.8" fill="#cecece" opacity="0.9"/>
<rect x="141.2" y="180.9" width="0.8" height="0.8" fill="#6a6a6a" opacity="0.9"/>
<rect x="137.0" y="176.3" width="0.8" height="0.8" fill="#c4c4c4" opacity="0.9"/>
<rect x="142.0" y="163.4" width="0.8" height="0.8" fill="#a8a8a8" opacity="0.9"/>
<rect x="142.9" y="163.4" width="0.8" height="0.8" fill="#d1d1d1" opacity="0.9"/>
<rect x="139.7" y="180.3" width="0.8" height="0.8" fill="#c3c3c3" opacity="0.9"/>
<rect x="140.2" y="181.8" width="0.8" height="0.8" fill="#cbcbcb" opacity="0.9"/>
<rect x="137.5" y="181.6" width="0.8" height="0.8" fill="#c8c8c8" opacity="0.9"/>
<rect x="137.1" y="167.1" width="0.8" height="0.8" fill="#ababab" opacity="0.9"/>
<rect x="141.6" y="171.0" width="0.8" height="0.8" fill="#cacaca" opacity="0.9"/>
<rect x="135.3" y="169.8" width="0.8" height="0.8" fill="#747474" opacity="0.9"/>
<rect x="141.2" y="170.1" width="0.8" height="0.8" fill="#acacac" opacity="0.9"/>
<rect x="140.4" y="174.9" width="0.8" height="0.8" fill="#8e8e8e" opacity="0.9"/>
<rect x="143.6" y="160.2" width="0.8" height="0.8" fill="#d6d6d6" opacity="0.9"/>
<rect x="143.7" y="175.9" width="0.8" height="0.8" fill="#aaaaaa" opacity="0.9"/>
<rect x="142.6" y="163.3" width="0.8" height="0.8" fill="#8f8f8f" opacity="0.9"/>
<rect x="139.3" y="178.6" width="0.8" height="0.8" fill="#969696" opacity="0.9"/>
<rect x="138.4" y="182.4" width="0.8" height="0.8" fill="#b7b7b7" opacity="0.9"/>
<rect x="139.4" y="180.6" width="0.8" height="0.8" fill="#a0a0a0" opacity="0.9"/>
<rect x="135.7" y="172.8" width="0.8" height="0.8" fill="#8d8d8d" opacity="0.9"/>
<rect x="137.1" y="174.7" width="0.8" height="0.8" fill="#b6b6b6" opacity="0.9"/>
<rect x="135.7" y="180.5" width="0.8" height="0.8" fill="#cfcfcf" opacity="0.9"/>
<rect x="142.6" y="181.0" width="0.8" height="0.8" fill="#aeaeae" opacity="0.9"/>
<rect x="137.8" y="173.6" width="0.8" height="0.8" fill="#909090" opacity="0.9"/>
<rect x="139.4" y="179.1" width="0.8" height="0.8" fill="#c1c1c1" opacity="0.9"/>
<rect x="137.0" y="169.7" width="0.8" height="0.8" fill="#989898" opacity="0.9"/>
<rect x="136.1" y="167.8" width="0.8" height="0.8" fill="#747474" opacity="0.9"/>
<rect x="139.9" y="180.7" width="0.8" height="0.8" fill="#b9b9b9" opacity="0.9"/>
<rect x="142.5" y="181.6" width="0.8" height="0.8" fill="#808080" opacity="0.9"/>
<rect x="137.2" y="167.7" width="0.8" height="0.8" fill="#979797" opacity="0.9"/>
<rect x="137.5" y="161.3" width="0.8" height="0.8" fill="#a7a7a7" opacity="0.9"/>
<rect x="138.8" y="180.7" width="0.8" height="0.8" fill="#c8c8c8" opacity="0.9"/>
<rect x="140.0" y="173.4" width="0.8" height="0.8" fill="#8a8a8a" opacity="0.9"/>
<rect x="141.8" y="172.9" width="0.8" height="0.8" fill="#b4b4b4" opacity="0.9"/>
<rect x="141.4" y="170.6" width="0.8" height="0.8" fill="#9f9f9f" opacity="0.9"/>
<rect x="142.7" y="169.0" width="0.8" height="0.8" fill="#707070" opacity="0.9"/>
<rect x="139.2" y="173.9" width="0.8" height="0.8" fill="#7b7b7b" opacity="0.9"/>
<rect x="140.7" y="171.4" width="0.8" height="0.8" fill="#676767" opacity="0.9"/>
<rect x="142.7" y="178.4" width="0.8" height="0.8" fill="#a2a2a2" opacity="0.9"/>
<rect x="142.8" y="165.2" width="0.8" height="0.8" fill="#939393" opacity="0.9"/>
<rect x="141.6" y="182.2" width="0.8" height="0.8" fill="#727272" opacity="0.9"/>
<rect x="138.0" y="173.1" width="0.8" height="0.8" fill="#d9d9d9" opacity="0.9"/>
<rect x="138.1" y="173.4" width="0.8" height="0.8" fill="#727272" opacity="0.9"/>
<rect x="143.5" y="179.9" width="0.8" height="0.8" fill="#8e8e8e" opacity="0.9"/>
<rect x="143.2" y="167.4" width="0.8" height="0.8" fill="#8b8b8b" opacity="0.9"/>
<rect x="136.3" y="177.8" width="0.8" height="0.8" fill="#666666" opacity="0.9"/>
<rect x="140.3" y="178.6" width="0.8" height="0.8" fill="#6c6c6c" opacity="0.9"/>
<rect x="139.2" y="182.1" width="0.8" height="0.8" fill="#8c8c8c" opacity="0.9"/>
<rect x="143.9" y="181.1" width="0.8" height="0.8" fill="#717171" opacity="0.9"/>
<rect x="135.0" y="164.9" width="0.8" height="0.8" fill="#989898" opacity="0.9"/>
<rect x="139.8" y="181.5" width="0.8" height="0.8" fill="#848484" opacity="0.9"/>
<rect x="139.8" y="161.7" width="0.8" height="0.8" fill="#a8a8a8" opacity="0.9"/>
<rect x="137.4" y="172.6" width="0.8" height="0.8" fill="#929292" opacity="0.9"/>
<rect x="135.7" y="172.5" width="0.8" height="0.8" fill="#bebebe" opacity="0.9"/>
<rect x="143.5" y="179.7" width="0.8" height="0.8" fill="#848484" opacity="0.9"/>
<rect x="143.2" y="177.0" width="0.8" height="0.8" fill="#909090" opacity="0.9"/>
<rect x="138.7" y="181.2" width="0.8" height="0.8" fill="#848484" opacity="0.9"/>
<rect x="135.1" y="161.1" width="0.8" height="0.8" fill="#6b6b6b" opacity="0.9"/>
<rect x="137.1" y="175.9" width="0.8" height="0.8" fill="#b7b7b7" opacity="0.9"/>
<rect x="139.1" y="173.4" width="0.8" height="0.8" fill="#8f8f8f" opacity="0.9"/>
<rect x="135.6" y="175.7" width="0.8" height="0.8" fill="#909090" opacity="0.9"/>
<rect x="135.9" y="181.6" width="0.8" height="0.8" fill="#c2c2c2" opacity="0.9"/>
<rect x="144.0" y="178.0" width="0.8" height="0.8" fill="#9e9e9e" opacity="0.9"/>
<rect x="139.0" y="165.3" width="0.8" height="0.8" fill="#7a7a7a" opacity="0.9"/>
<rect x="143.3" y="172.0" width="0.8" height="0.8" fill="#878787" opacity="0.9"/>
<rect x="143.4" y="167.7" width="0.8" height="0.8" fill="#cccccc" opacity="0.9"/>
<rect x="141.6" y="175.1" width="0.8" height="0.8" fill="#cfcfcf" opacity="0.9"/>
<rect x="137.3" y="173.9" width="0.8" height="0.8" fill="#adadad" opacity="0.9"/>
<rect x="142.6" y="164.5" width="0.8" height="0.8" fill="#d1d1d1" opacity="0.9"/>
<rect x="143.8" y="172.2" width="0.8" height="0.8" fill="#d1d1d1" opacity="0.9"/>
<rect x="140.2" y="163.3" width="0.8" height="0.8" fill="#dadada" opacity="0.9"/>
<rect x="142.4" y="167.7" width="0.8" height="0.8" fill="#989898" opacity="0.9"/>
<rect x="138.7" y="173.3" width="0.8" height="0.8" fill="#9a9a9a" opacity="0.9"/>
<rect x="136.7" y="175.3" width="0.8" height="0.8" fill="#cdcdcd" opacity="0.9"/>
<rect x="141.4" y="163.0" width="0.8" height="0.8" fill="#848484" opacity="0.9"/>
<rect x="139.0" y="173.3" width="0.8" height="0.8" fill="#bababa" opacity="0.9"/>
<rect x="142.9" y="163.9" width="0.8" height="0.8" fill="#646464" opacity="0.9"/>
<rect x="143.9" y="160.6" width="0.8" height="0.8" fill="#d0d0d0" opacity="0.9"/>
<rect x="138.3" y="160.4" width="0.8" height="0.8" fill="#9b9b9b" opacity="0.9"/>
<rect x="137.4" y="165.4" width="0.8" height="0.8" fill="#717171" opacity="0.9"/>
<rect x="143.8" y="164.7" width="0.8" height="0.8" fill="#6d6d6d" opacity="0.9"/>
<rect x="140.8" y="165.2" width="0.8" height="0.8" fill="#818181" opacity="0.9"/>
<rect x="137.0" y="169.9" width="0.8" height="0.8" fill="#727272" opacity="0.9"/>
<rect x="137.9" y="167.1" width="0.8" height="0.8" fill="#a0a0a0" opacity="0.9"/>
<rect x="143.4" y="177.9" width="0.8" height="0.8" fill="#a0a0a0" opacity="0.9"/>
<rect x="141.3" y="167.3" width="0.8" height="0.8" fill="#c9c9c9" opacity="0.9"/>
<rect x="139.0" y="172.0" width="0.8" height="0.8" fill="#bababa" opacity="0.9"/>
<rect x="140.6" y="170.2" width="0.8" height="0.8" fill="#d9d9d9" opacity="0.9"/>
<rect x="139.4" y="161.6" width="0.8" height="0.8" fill="#828282" opacity="0.9"/>
<rect x="141.0" y="168.3" width="0.8" height="0.8" fill="#747474" opacity="0.9"/>
<rect x="135.8" y="175.2" width="0.8" height="0.8" fill="#989898" opacity="0.9"/>
<rect x="139.3" y="170.6" width="0.8" height="0.8" fill="#bbbbbb" opacity="0.9"/>
<rect x="136.2" y="179.5" width="0.8" height="0.8" fill="#a3a3a3" opacity="0.9"/>
<rect x="136.7" y="170.4" width="0.8" height="0.8" fill="#aaaaaa" opacity="0.9"/>
<rect x="135.9" y="173.5" width="0.8" height="0.8" fill="#d6d6d6" opacity="0.9"/>
<rect x="140.0" y="167.4" width="0.8" height="0.8" fill="#808080" opacity="0.9"/>
<rect x="140.4" y="178.3" width="0.8" height="0.8" fill="#828282" opacity="0.9"/>
<rect x="137.2" y="175.5" width="0.8" height="0.8" fill="#d1d1d1" opacity="0.9"/>
<rect x="138.5" y="181.1" width="0.8" height="0.8" fill="#9b9b9b" opacity="0.9"/>
<rect x="139.8" y="177.7" width="0.8" height="0.8" fill="#767676" opacity="0.9"/>
<rect x="136.8" y="167.8" width="0.8" height="0.8" fill="#e1e1e1" opacity="0.9"/>
<defs><linearGradient id="g9" x1="118.0" x2="135.3" y1="0" y2="0" gradientUnits="userSpaceOnUse"><stop offset="0.000" stop-color="#333"/><stop offset="0.116" stop-color="#777"/><stop offset="0.289" stop-color="#bbb"/><stop offset="0.520" stop-color="#d8d8d8"/><stop offset="0.751" stop-color="#c4c4c4"/><stop offset="0.925" stop-color="#777"/><stop offset="1.000" stop-color="#444"/></linearGradient></defs>
<path d="M118.0,183.2 L118.0,164.2 Q118.0,161.2 121.0,161.2 L132.3,161.2 Q135.3,161.2 135.3,164.2 L135.3,183.2 Z" fill="url(#g9)" filter="url(#blur04)"/>
<path d="M118.0,183.2 L118.0,164.2 Q118.0,161.2 121.0,161.2 L132.3,161.2 Q135.3,161.2 135.3,164.2 L135.3,183.2 Z" fill="url(#vtop)"/>
<path d="M118.85,183.2 L118.85,164.2 Q118.85,162.04999999999998 121.0,162.04999999999998 L132.3,162.04999999999998 Q134.45000000000002,162.04999999999998 134.45000000000002,164.2 L134.45000000000002,183.2" fill="none" stroke="#333" stroke-width="2.3" filter="url(#blur1)"/>
<rect x="123.5" y="159.6" width="0.9" height="0.9" fill="#0f0f0f" opacity="0.8"/>
<rect x="126.2" y="161.5" width="0.9" height="0.9" fill="#505050" opacity="0.8"/>
<rect x="135.3" y="161.9" width="0.9" height="0.9" fill="#3b3b3b" opacity="0.8"/>
<rect x="117.4" y="159.6" width="0.9" height="0.9" fill="#040404" opacity="0.8"/>
<rect x="127.0" y="159.9" width="0.9" height="0.9" fill="#434343" opacity="0.8"/>
<rect x="134.8" y="159.8" width="0.9" height="0.9" fill="#2c2c2c" opacity="0.8"/>
<rect x="125.1" y="162.1" width="0.9" height="0.9" fill="#2d2d2d" opacity="0.8"/>
<rect x="129.4" y="159.9" width="0.9" height="0.9" fill="#212121" opacity="0.8"/>
<rect x="121.1" y="161.9" width="0.9" height="0.9" fill="#1f1f1f" opacity="0.8"/>
<rect x="135.1" y="161.5" width="0.9" height="0.9" fill="#404040" opacity="0.8"/>
<rect x="118.5" y="161.3" width="0.9" height="0.9" fill="#010101" opacity="0.8"/>
<rect x="128.7" y="161.7" width="0.9" height="0.9" fill="#0d0d0d" opacity="0.8"/>
<rect x="117.9" y="162.1" width="0.9" height="0.9" fill="#434343" opacity="0.8"/>
<rect x="132.9" y="161.5" width="0.9" height="0.9" fill="#2d2d2d" opacity="0.8"/>
<rect x="135.7" y="162.0" width="0.9" height="0.9" fill="#4f4f4f" opacity="0.8"/>
<rect x="130.4" y="159.8" width="0.9" height="0.9" fill="#040404" opacity="0.8"/>
<rect x="120.3" y="161.7" width="0.9" height="0.9" fill="#505050" opacity="0.8"/>
<rect x="126.0" y="161.0" width="0.9" height="0.9" fill="#444444" opacity="0.8"/>
<rect x="126.1" y="160.2" width="0.9" height="0.9" fill="#2c2c2c" opacity="0.8"/>
<rect x="117.7" y="161.6" width="0.9" height="0.9" fill="#090909" opacity="0.8"/>
<rect x="134.1" y="161.7" width="0.9" height="0.9" fill="#000000" opacity="0.8"/>
<rect x="127.1" y="161.8" width="0.9" height="0.9" fill="#3d3d3d" opacity="0.8"/>
<rect x="132.4" y="161.6" width="0.9" height="0.9" fill="#0f0f0f" opacity="0.8"/>
<rect x="122.4" y="160.5" width="0.9" height="0.9" fill="#444444" opacity="0.8"/>
<rect x="132.7" y="160.8" width="0.9" height="0.9" fill="#1e1e1e" opacity="0.8"/>
<rect x="124.7" y="160.0" width="0.9" height="0.9" fill="#292929" opacity="0.8"/>
<rect x="128.6" y="161.3" width="0.9" height="0.9" fill="#424242" opacity="0.8"/>
<rect x="125.1" y="161.6" width="0.9" height="0.9" fill="#484848" opacity="0.8"/>
<rect x="128.1" y="162.2" width="0.9" height="0.9" fill="#010101" opacity="0.8"/>
<rect x="118.9" y="161.5" width="0.9" height="0.9" fill="#1c1c1c" opacity="0.8"/>
<rect x="120.6" y="162.2" width="0.9" height="0.9" fill="#323232" opacity="0.8"/>
<rect x="135.7" y="159.6" width="0.9" height="0.9" fill="#373737" opacity="0.8"/>
<rect x="129.7" y="160.8" width="0.9" height="0.9" fill="#3f3f3f" opacity="0.8"/>
<rect x="121.1" y="160.3" width="0.9" height="0.9" fill="#000000" opacity="0.8"/>
<rect x="131.6" y="160.3" width="0.9" height="0.9" fill="#343434" opacity="0.8"/>
<rect x="121.2" y="160.7" width="0.9" height="0.9" fill="#1d1d1d" opacity="0.8"/>
<rect x="123.1" y="161.8" width="0.9" height="0.9" fill="#313131" opacity="0.8"/>
<rect x="128.0" y="160.5" width="0.9" height="0.9" fill="#484848" opacity="0.8"/>
<rect x="124.5" y="159.7" width="0.9" height="0.9" fill="#0d0d0d" opacity="0.8"/>
<rect x="123.2" y="159.7" width="0.9" height="0.9" fill="#060606" opacity="0.8"/>
<rect x="133.4" y="159.6" width="0.9" height="0.9" fill="#4e4e4e" opacity="0.8"/>
<rect x="118.0" y="159.5" width="0.9" height="0.9" fill="#101010" opacity="0.8"/>
<rect x="132.7" y="161.1" width="0.9" height="0.9" fill="#1d1d1d" opacity="0.8"/>
<rect x="128.9" y="160.6" width="0.9" height="0.9" fill="#1e1e1e" opacity="0.8"/>
<rect x="122.4" y="159.8" width="0.9" height="0.9" fill="#2b2b2b" opacity="0.8"/>
<rect x="129.1" y="162.0" width="0.9" height="0.9" fill="#161616" opacity="0.8"/>
<rect x="125.7" y="162.1" width="0.9" height="0.9" fill="#3b3b3b" opacity="0.8"/>
<rect x="118.5" y="160.2" width="0.9" height="0.9" fill="#454545" opacity="0.8"/>
<rect x="121.6" y="160.2" width="0.9" height="0.9" fill="#494949" opacity="0.8"/>
<rect x="129.7" y="161.0" width="0.9" height="0.9" fill="#464646" opacity="0.8"/>
<rect x="124.2" y="159.4" width="0.9" height="0.9" fill="#454545" opacity="0.8"/>
<rect x="132.1" y="159.8" width="0.9" height="0.9" fill="#0e0e0e" opacity="0.8"/>
<rect x="135.8" y="161.5" width="0.9" height="0.9" fill="#101010" opacity="0.8"/>
<rect x="133.0" y="159.9" width="0.9" height="0.9" fill="#141414" opacity="0.8"/>
<rect x="117.5" y="160.1" width="0.9" height="0.9" fill="#303030" opacity="0.8"/>
<rect x="132.6" y="160.8" width="0.9" height="0.9" fill="#212121" opacity="0.8"/>
<rect x="130.1" y="161.8" width="0.9" height="0.9" fill="#111111" opacity="0.8"/>
<rect x="125.1" y="160.4" width="0.9" height="0.9" fill="#292929" opacity="0.8"/>
<rect x="120.1" y="160.8" width="0.9" height="0.9" fill="#272727" opacity="0.8"/>
<rect x="131.1" y="160.8" width="0.9" height="0.9" fill="#000000" opacity="0.8"/>
<rect x="129.4" y="159.6" width="0.9" height="0.9" fill="#3c3c3c" opacity="0.8"/>
<rect x="125.9" y="160.0" width="0.9" height="0.9" fill="#3d3d3d" opacity="0.8"/>
<rect x="133.9" y="159.7" width="0.9" height="0.9" fill="#404040" opacity="0.8"/>
<rect x="125.8" y="162.2" width="0.9" height="0.9" fill="#000000" opacity="0.8"/>
<rect x="123.3" y="161.1" width="0.9" height="0.9" fill="#181818" opacity="0.8"/>
<rect x="129.0" y="161.1" width="0.9" height="0.9" fill="#303030" opacity="0.8"/>
<rect x="127.2" y="161.2" width="0.9" height="0.9" fill="#191919" opacity="0.8"/>
<rect x="132.9" y="161.8" width="0.9" height="0.9" fill="#262626" opacity="0.8"/>
<rect x="118.8" y="161.6" width="0.9" height="0.9" fill="#151515" opacity="0.8"/>
<rect x="117.9" y="163.8" width="0.8" height="0.8" fill="#484848" opacity="0.7"/>
<rect x="118.9" y="179.2" width="0.8" height="0.8" fill="#303030" opacity="0.7"/>
<rect x="117.5" y="165.5" width="0.8" height="0.8" fill="#333333" opacity="0.7"/>
<rect x="118.2" y="176.0" width="0.8" height="0.8" fill="#1d1d1d" opacity="0.7"/>
<rect x="117.4" y="170.2" width="0.8" height="0.8" fill="#363636" opacity="0.7"/>
<rect x="118.7" y="165.3" width="0.8" height="0.8" fill="#111111" opacity="0.7"/>
<rect x="118.9" y="164.5" width="0.8" height="0.8" fill="#545454" opacity="0.7"/>
<rect x="118.3" y="172.7" width="0.8" height="0.8" fill="#595959" opacity="0.7"/>
<rect x="118.6" y="165.8" width="0.8" height="0.8" fill="#444444" opacity="0.7"/>
<rect x="119.1" y="165.7" width="0.8" height="0.8" fill="#171717" opacity="0.7"/>
<rect x="117.2" y="162.9" width="0.8" height="0.8" fill="#2c2c2c" opacity="0.7"/>
<rect x="118.5" y="168.2" width="0.8" height="0.8" fill="#545454" opacity="0.7"/>
<rect x="117.0" y="166.0" width="0.8" height="0.8" fill="#4b4b4b" opacity="0.7"/>
<rect x="119.0" y="161.6" width="0.8" height="0.8" fill="#565656" opacity="0.7"/>
<rect x="117.0" y="173.7" width="0.8" height="0.8" fill="#4c4c4c" opacity="0.7"/>
<rect x="118.6" y="163.5" width="0.8" height="0.8" fill="#2f2f2f" opacity="0.7"/>
<rect x="117.4" y="174.2" width="0.8" height="0.8" fill="#434343" opacity="0.7"/>
<rect x="136.4" y="169.4" width="0.8" height="0.8" fill="#323232" opacity="0.7"/>
<rect x="135.5" y="173.5" width="0.8" height="0.8" fill="#585858" opacity="0.7"/>
<rect x="136.5" y="178.1" width="0.8" height="0.8" fill="#444444" opacity="0.7"/>
<rect x="136.3" y="178.8" width="0.8" height="0.8" fill="#050505" opacity="0.7"/>
<rect x="136.4" y="177.9" width="0.8" height="0.8" fill="#1b1b1b" opacity="0.7"/>
<rect x="134.5" y="170.0" width="0.8" height="0.8" fill="#1d1d1d" opacity="0.7"/>
<rect x="135.1" y="171.5" width="0.8" height="0.8" fill="#5a5a5a" opacity="0.7"/>
<rect x="134.3" y="178.5" width="0.8" height="0.8" fill="#343434" opacity="0.7"/>
<rect x="135.8" y="177.1" width="0.8" height="0.8" fill="#373737" opacity="0.7"/>
<rect x="136.0" y="167.0" width="0.8" height="0.8" fill="#555555" opacity="0.7"/>
<rect x="136.2" y="176.5" width="0.8" height="0.8" fill="#050505" opacity="0.7"/>
<rect x="135.2" y="169.1" width="0.8" height="0.8" fill="#030303" opacity="0.7"/>
<rect x="135.7" y="164.8" width="0.8" height="0.8" fill="#272727" opacity="0.7"/>
<rect x="134.8" y="172.0" width="0.8" height="0.8" fill="#090909" opacity="0.7"/>
<rect x="134.3" y="165.0" width="0.8" height="0.8" fill="#383838" opacity="0.7"/>
<rect x="136.4" y="171.7" width="0.8" height="0.8" fill="#232323" opacity="0.7"/>
<rect x="135.4" y="169.7" width="0.8" height="0.8" fill="#111111" opacity="0.7"/>
<defs><linearGradient id="g10" x1="143.2" x2="153.9" y1="0" y2="0" gradientUnits="userSpaceOnUse"><stop offset="0.000" stop-color="#333"/><stop offset="0.215" stop-color="#666"/><stop offset="0.495" stop-color="#707070"/><stop offset="0.776" stop-color="#666"/><stop offset="1.000" stop-color="#333"/></linearGradient></defs>
<path d="M143.2,183.2 L143.2,167.2 Q143.2,164.2 146.2,164.2 L150.9,164.2 Q153.9,164.2 153.9,167.2 L153.9,183.2 Z" fill="url(#g10)" filter="url(#blur04)"/>
<path d="M143.2,183.2 L143.2,167.2 Q143.2,164.2 146.2,164.2 L150.9,164.2 Q153.9,164.2 153.9,167.2 L153.9,183.2 Z" fill="url(#vtop)"/>
<path d="M143.79999999999998,183.2 L143.79999999999998,167.2 Q143.79999999999998,164.79999999999998 146.2,164.79999999999998 L150.9,164.79999999999998 Q153.3,164.79999999999998 153.3,167.2 L153.3,183.2" fill="none" stroke="#333" stroke-width="1.8" filter="url(#blur08)"/>
<rect x="148.1" y="164.2" width="0.9" height="0.9" fill="#0b0b0b" opacity="0.8"/>
<rect x="154.1" y="163.2" width="0.9" height="0.9" fill="#2d2d2d" opacity="0.8"/>
<rect x="151.9" y="163.3" width="0.9" height="0.9" fill="#343434" opacity="0.8"/>
<rect x="148.5" y="164.6" width="0.9" height="0.9" fill="#000000" opacity="0.8"/>
<rect x="144.4" y="165.1" width="0.9" height="0.9" fill="#2f2f2f" opacity="0.8"/>
<rect x="145.3" y="163.3" width="0.9" height="0.9" fill="#101010" opacity="0.8"/>
<rect x="154.1" y="163.6" width="0.9" height="0.9" fill="#494949" opacity="0.8"/>
<rect x="148.8" y="162.5" width="0.9" height="0.9" fill="#4b4b4b" opacity="0.8"/>
<rect x="149.7" y="164.7" width="0.9" height="0.9" fill="#2a2a2a" opacity="0.8"/>
<rect x="150.8" y="164.4" width="0.9" height="0.9" fill="#121212" opacity="0.8"/>
<rect x="149.0" y="164.0" width="0.9" height="0.9" fill="#080808" opacity="0.8"/>
<rect x="153.3" y="163.3" width="0.9" height="0.9" fill="#353535" opacity="0.8"/>
<rect x="150.3" y="163.2" width="0.9" height="0.9" fill="#404040" opacity="0.8"/>
<rect x="147.0" y="163.2" width="0.9" height="0.9" fill="#1d1d1d" opacity="0.8"/>
<rect x="145.2" y="163.2" width="0.9" height="0.9" fill="#3e3e3e" opacity="0.8"/>
<rect x="151.4" y="163.9" width="0.9" height="0.9" fill="#1a1a1a" opacity="0.8"/>
<rect x="148.2" y="164.8" width="0.9" height="0.9" fill="#353535" opacity="0.8"/>
<rect x="148.6" y="164.3" width="0.9" height="0.9" fill="#202020" opacity="0.8"/>
<rect x="152.0" y="162.7" width="0.9" height="0.9" fill="#0c0c0c" opacity="0.8"/>
<rect x="146.8" y="164.7" width="0.9" height="0.9" fill="#3c3c3c" opacity="0.8"/>
<rect x="143.5" y="164.9" width="0.9" height="0.9" fill="#2f2f2f" opacity="0.8"/>
<rect x="145.7" y="162.8" width="0.9" height="0.9" fill="#3f3f3f" opacity="0.8"/>
<rect x="144.1" y="164.7" width="0.9" height="0.9" fill="#191919" opacity="0.8"/>
<rect x="149.4" y="164.8" width="0.9" height="0.9" fill="#131313" opacity="0.8"/>
<rect x="145.3" y="163.1" width="0.9" height="0.9" fill="#000000" opacity="0.8"/>
<rect x="143.9" y="163.1" width="0.9" height="0.9" fill="#1e1e1e" opacity="0.8"/>
<rect x="148.7" y="164.1" width="0.9" height="0.9" fill="#0d0d0d" opacity="0.8"/>
<rect x="154.0" y="164.1" width="0.9" height="0.9" fill="#060606" opacity="0.8"/>
<rect x="145.6" y="164.2" width="0.9" height="0.9" fill="#1e1e1e" opacity="0.8"/>
<rect x="150.3" y="164.1" width="0.9" height="0.9" fill="#4a4a4a" opacity="0.8"/>
<rect x="153.9" y="162.8" width="0.9" height="0.9" fill="#010101" opacity="0.8"/>
<rect x="144.3" y="164.4" width="0.9" height="0.9" fill="#444444" opacity="0.8"/>
<rect x="142.8" y="169.6" width="0.8" height="0.8" fill="#060606" opacity="0.7"/>
<rect x="144.2" y="182.9" width="0.8" height="0.8" fill="#080808" opacity="0.7"/>
<rect x="142.6" y="169.0" width="0.8" height="0.8" fill="#131313" opacity="0.7"/>
<rect x="142.6" y="178.3" width="0.8" height="0.8" fill="#0e0e0e" opacity="0.7"/>
<rect x="142.3" y="173.8" width="0.8" height="0.8" fill="#1b1b1b" opacity="0.7"/>
<rect x="144.1" y="172.8" width="0.8" height="0.8" fill="#0d0d0d" opacity="0.7"/>
<rect x="142.8" y="170.4" width="0.8" height="0.8" fill="#303030" opacity="0.7"/>
<rect x="143.9" y="167.7" width="0.8" height="0.8" fill="#232323" opacity="0.7"/>
<rect x="144.3" y="171.9" width="0.8" height="0.8" fill="#4e4e4e" opacity="0.7"/>
<rect x="143.2" y="165.4" width="0.8" height="0.8" fill="#0a0a0a" opacity="0.7"/>
<rect x="143.0" y="181.8" width="0.8" height="0.8" fill="#1c1c1c" opacity="0.7"/>
<rect x="143.8" y="166.2" width="0.8" height="0.8" fill="#1e1e1e" opacity="0.7"/>
<rect x="142.1" y="165.8" width="0.8" height="0.8" fill="#090909" opacity="0.7"/>
<rect x="143.9" y="182.5" width="0.8" height="0.8" fill="#424242" opacity="0.7"/>
<rect x="142.9" y="177.8" width="0.8" height="0.8" fill="#040404" opacity="0.7"/>
<rect x="154.7" y="166.6" width="0.8" height="0.8" fill="#414141" opacity="0.7"/>
<rect x="152.9" y="175.2" width="0.8" height="0.8" fill="#393939" opacity="0.7"/>
<rect x="154.7" y="166.0" width="0.8" height="0.8" fill="#292929" opacity="0.7"/>
<rect x="154.4" y="166.5" width="0.8" height="0.8" fill="#0d0d0d" opacity="0.7"/>
<rect x="153.5" y="168.7" width="0.8" height="0.8" fill="#4c4c4c" opacity="0.7"/>
<rect x="154.2" y="182.6" width="0.8" height="0.8" fill="#2a2a2a" opacity="0.7"/>
<rect x="154.8" y="166.6" width="0.8" height="0.8" fill="#3c3c3c" opacity="0.7"/>
<rect x="155.0" y="168.8" width="0.8" height="0.8" fill="#3e3e3e" opacity="0.7"/>
<rect x="153.0" y="168.3" width="0.8" height="0.8" fill="#101010" opacity="0.7"/>
<rect x="152.7" y="166.7" width="0.8" height="0.8" fill="#585858" opacity="0.7"/>
<rect x="152.7" y="164.4" width="0.8" height="0.8" fill="#161616" opacity="0.7"/>
<rect x="153.3" y="169.2" width="0.8" height="0.8" fill="#0e0e0e" opacity="0.7"/>
<rect x="152.9" y="170.6" width="0.8" height="0.8" fill="#1e1e1e" opacity="0.7"/>
<rect x="154.0" y="175.8" width="0.8" height="0.8" fill="#000000" opacity="0.7"/>
<rect x="153.1" y="167.9" width="0.8" height="0.8" fill="#353535" opacity="0.7"/>
<ellipse cx="146.8" cy="156.79999999999998" rx="3.6" ry="7.6" transform="rotate(26 146.8 156.79999999999998)" fill="none" stroke="#000" stroke-width="2.0"/>
<rect x="118.45" y="138.15" width="44.50" height="44.10" fill="none" stroke="#000" stroke-width="1.9"/>
<text id="t9" x="191.77" y="15.60" font-size="17.59" font-weight="bold" stroke="#000" stroke-width="0.3" stroke-linejoin="round"  fill="#000" textLength="13.26" lengthAdjust="spacingAndGlyphs">B</text>
<line x1="249.6" y1="43.5" x2="249.6" y2="115.4" stroke="#000" stroke-width="1.8" stroke-linecap="butt"/>
<line x1="246.4" y1="44.3" x2="249.6" y2="44.3" stroke="#000" stroke-width="1.6" stroke-linecap="butt"/>
<text id="t10" x="237.48" y="47.73" font-size="11.10" font-weight="bold" stroke="#000" stroke-width="0.3" stroke-linejoin="round"  fill="#000" textLength="7.19" lengthAdjust="spacingAndGlyphs">6</text>
<line x1="246.4" y1="67.69999999999999" x2="249.6" y2="67.69999999999999" stroke="#000" stroke-width="1.6" stroke-linecap="butt"/>
<text id="t11" x="237.77" y="71.13" font-size="11.10" font-weight="bold" stroke="#000" stroke-width="0.3" stroke-linejoin="round"  fill="#000" textLength="6.49" lengthAdjust="spacingAndGlyphs">4</text>
<line x1="246.4" y1="91.1" x2="249.6" y2="91.1" stroke="#000" stroke-width="1.6" stroke-linecap="butt"/>
<text id="t12" x="237.50" y="94.53" font-size="11.10" font-weight="bold" stroke="#000" stroke-width="0.3" stroke-linejoin="round"  fill="#000" textLength="7.22" lengthAdjust="spacingAndGlyphs">2</text>
<line x1="246.4" y1="114.5" x2="249.6" y2="114.5" stroke="#000" stroke-width="1.6" stroke-linecap="butt"/>
<text id="t13" x="237.43" y="117.93" font-size="11.10" font-weight="bold" stroke="#000" stroke-width="0.3" stroke-linejoin="round"  fill="#000" textLength="7.31" lengthAdjust="spacingAndGlyphs">0</text>
<line x1="263.15" y1="88.8" x2="263.15" y2="84.7" stroke="#000" stroke-width="1.5" stroke-linecap="butt"/>
<line x1="261.04999999999995" y1="85.25" x2="265.25" y2="85.25" stroke="#000" stroke-width="1.5" stroke-linecap="butt"/>
<rect x="257.90" y="89.70" width="10.50" height="24.80" fill="#fff" stroke="#000" stroke-width="1.8"/>
<rect x="270.20" y="111.30" width="9.90" height="3.20" fill="#000" stroke="#000" stroke-width="1.8"/>
<line x1="297.85" y1="62.0" x2="297.85" y2="55.9" stroke="#000" stroke-width="1.5" stroke-linecap="butt"/>
<line x1="295.75" y1="56.449999999999996" x2="299.95000000000005" y2="56.449999999999996" stroke="#000" stroke-width="1.5" stroke-linecap="butt"/>
<rect x="292.70" y="62.90" width="10.30" height="51.60" fill="#fff" stroke="#000" stroke-width="1.8"/>
<rect x="304.80" y="105.60" width="10.00" height="8.90" fill="#000" stroke="#000" stroke-width="1.8"/>
<line x1="332.1" y1="92.5" x2="332.1" y2="84.3" stroke="#000" stroke-width="1.5" stroke-linecap="butt"/>
<line x1="330.0" y1="84.85" x2="334.20000000000005" y2="84.85" stroke="#000" stroke-width="1.5" stroke-linecap="butt"/>
<rect x="327.10" y="93.40" width="10.00" height="21.10" fill="#fff" stroke="#000" stroke-width="1.8"/>
<rect x="338.90" y="114.30" width="10.20" height="0.20" fill="#000" stroke="#000" stroke-width="1.8"/>
<line x1="248.7" y1="114.5" x2="351.8" y2="114.5" stroke="#000" stroke-width="1.8" stroke-linecap="butt"/>
<text id="t14" x="275.41" y="48.00" font-size="15.55" font-weight="bold" stroke="#000" stroke-width="0.3" stroke-linejoin="round" font-style="italic" fill="#000" textLength="46.64" lengthAdjust="spacingAndGlyphs">SAP-/-</text>
<text id="t15" x="246.06" y="125.50" font-size="10.90"  stroke="#000" stroke-width="0.3" stroke-linejoin="round"  fill="#000" textLength="38.13" lengthAdjust="spacingAndGlyphs">Thymus</text>
<text id="t16" x="290.60" y="125.50" font-size="10.90"  stroke="#000" stroke-width="0.3" stroke-linejoin="round"  fill="#000" textLength="34.42" lengthAdjust="spacingAndGlyphs">Spleen</text>
<text id="t17" x="326.88" y="125.50" font-size="10.90"  stroke="#000" stroke-width="0.3" stroke-linejoin="round"  fill="#000" textLength="24.41" lengthAdjust="spacingAndGlyphs">Liver</text>
<line x1="247.8" y1="149.29999999999998" x2="247.8" y2="221.3" stroke="#000" stroke-width="1.8" stroke-linecap="butt"/>
<line x1="244.60000000000002" y1="150.1" x2="247.8" y2="150.1" stroke="#000" stroke-width="1.6" stroke-linecap="butt"/>
<text id="t18" x="221.62" y="153.60" font-size="11.30" font-weight="bold" stroke="#000" stroke-width="0.3" stroke-linejoin="round"  fill="#000" textLength="20.69" lengthAdjust="spacingAndGlyphs">250</text>
<line x1="244.60000000000002" y1="164.16" x2="247.8" y2="164.16" stroke="#000" stroke-width="1.6" stroke-linecap="butt"/>
<text id="t19" x="221.62" y="167.66" font-size="11.30" font-weight="bold" stroke="#000" stroke-width="0.3" stroke-linejoin="round"  fill="#000" textLength="20.69" lengthAdjust="spacingAndGlyphs">200</text>
<line x1="244.60000000000002" y1="178.22" x2="247.8" y2="178.22" stroke="#000" stroke-width="1.6" stroke-linecap="butt"/>
<text id="t20" x="221.25" y="181.72" font-size="11.30" font-weight="bold" stroke="#000" stroke-width="0.3" stroke-linejoin="round"  fill="#000" textLength="21.06" lengthAdjust="spacingAndGlyphs">150</text>
<line x1="244.60000000000002" y1="192.28" x2="247.8" y2="192.28" stroke="#000" stroke-width="1.6" stroke-linecap="butt"/>
<text id="t21" x="221.25" y="195.78" font-size="11.30" font-weight="bold" stroke="#000" stroke-width="0.3" stroke-linejoin="round"  fill="#000" textLength="21.06" lengthAdjust="spacingAndGlyphs">100</text>
<line x1="244.60000000000002" y1="206.34" x2="247.8" y2="206.34" stroke="#000" stroke-width="1.6" stroke-linecap="butt"/>
<text id="t22" x="228.42" y="209.84" font-size="11.30" font-weight="bold" stroke="#000" stroke-width="0.3" stroke-linejoin="round"  fill="#000" textLength="13.90" lengthAdjust="spacingAndGlyphs">50</text>
<line x1="244.60000000000002" y1="220.4" x2="247.8" y2="220.4" stroke="#000" stroke-width="1.6" stroke-linecap="butt"/>
<text id="t23" x="235.03" y="223.90" font-size="11.30" font-weight="bold" stroke="#000" stroke-width="0.3" stroke-linejoin="round"  fill="#000" textLength="7.31" lengthAdjust="spacingAndGlyphs">0</text>
<line x1="262.45" y1="161.3" x2="262.45" y2="155.4" stroke="#000" stroke-width="1.5" stroke-linecap="butt"/>
<line x1="260.34999999999997" y1="155.95000000000002" x2="264.55" y2="155.95000000000002" stroke="#000" stroke-width="1.5" stroke-linecap="butt"/>
<rect x="257.30" y="162.20" width="10.30" height="58.20" fill="#fff" stroke="#000" stroke-width="1.8"/>
<line x1="274.5" y1="192.2" x2="274.5" y2="191.0" stroke="#000" stroke-width="1.5" stroke-linecap="butt"/>
<line x1="272.4" y1="191.55" x2="276.6" y2="191.55" stroke="#000" stroke-width="1.5" stroke-linecap="butt"/>
<rect x="269.40" y="193.10" width="10.20" height="27.30" fill="#000" stroke="#000" stroke-width="1.8"/>
<line x1="297.45000000000005" y1="198.0" x2="297.45000000000005" y2="197.0" stroke="#000" stroke-width="1.5" stroke-linecap="butt"/>
<line x1="295.35" y1="197.55" x2="299.55000000000007" y2="197.55" stroke="#000" stroke-width="1.5" stroke-linecap="butt"/>
<rect x="292.50" y="198.90" width="9.90" height="21.50" fill="#fff" stroke="#000" stroke-width="1.8"/>
<line x1="309.15" y1="201.4" x2="309.15" y2="200.6" stroke="#000" stroke-width="1.5" stroke-linecap="butt"/>
<line x1="307.04999999999995" y1="201.15" x2="311.25" y2="201.15" stroke="#000" stroke-width="1.5" stroke-linecap="butt"/>
<rect x="304.20" y="202.30" width="9.90" height="18.10" fill="#000" stroke="#000" stroke-width="1.8"/>
<rect x="327.00" y="201.70" width="10.60" height="18.70" fill="#fff" stroke="#000" stroke-width="1.8"/>
<rect x="339.40" y="207.60" width="9.90" height="12.80" fill="#000" stroke="#000" stroke-width="1.8"/>
<line x1="246.9" y1="220.4" x2="353.4" y2="220.4" stroke="#000" stroke-width="1.8" stroke-linecap="butt"/>
<text id="t24" x="279.01" y="160.40" font-size="14.68" font-weight="bold" stroke="#000" stroke-width="0.3" stroke-linejoin="round" font-style="italic" fill="#000" textLength="55.43" lengthAdjust="spacingAndGlyphs">SAP+/+</text>
<text id="t25" x="245.76" y="231.80" font-size="10.47"  stroke="#000" stroke-width="0.3" stroke-linejoin="round"  fill="#000" textLength="38.43" lengthAdjust="spacingAndGlyphs">Thymus</text>
<text id="t26" x="290.29" y="231.80" font-size="10.47"  stroke="#000" stroke-width="0.3" stroke-linejoin="round"  fill="#000" textLength="35.04" lengthAdjust="spacingAndGlyphs">Spleen</text>
<text id="t27" x="326.99" y="231.80" font-size="10.47"  stroke="#000" stroke-width="0.3" stroke-linejoin="round"  fill="#000" textLength="23.99" lengthAdjust="spacingAndGlyphs">Liver</text>
<rect x="233.40" y="245.70" width="12.50" height="13.40" fill="#fff" stroke="#000" stroke-width="1.8"/>
<text id="t28" x="249.60" y="255.90" font-size="12.94"  stroke="#000" stroke-width="0.3" stroke-linejoin="round" font-style="italic" fill="#000" textLength="43.35" lengthAdjust="spacingAndGlyphs">BALB/c</text>
<rect x="307.80" y="244.20" width="14.30" height="15.40" fill="#000" stroke="none" stroke-width="0"/>
<text id="t29" x="324.42" y="255.90" font-size="12.65"  stroke="#000" stroke-width="0.3" stroke-linejoin="round" font-style="italic" fill="#000" textLength="14.98" lengthAdjust="spacingAndGlyphs">B6</text>
<text id="t30" transform="translate(213.00,241.40) rotate(-90)" x="-0.85" y="0" font-size="11.92" font-weight="bold" stroke="#000" stroke-width="0.3" stroke-linejoin="round"  fill="#000" textLength="204.48" lengthAdjust="spacingAndGlyphs">Number of  NKT cells / organ (x10</text>
<text id="t31" transform="translate(213.40,30.40) rotate(-90)" x="-0.01" y="0" font-size="11.20" font-weight="bold" stroke="#000" stroke-width="0.3" stroke-linejoin="round"  fill="#000" textLength="4.01" lengthAdjust="spacingAndGlyphs">)</text>
<text id="t32" transform="translate(209.90,36.80) rotate(-90)" x="-0.27" y="0" font-size="7.20" font-weight="bold" stroke="#000" stroke-width="0.3" stroke-linejoin="round"  fill="#000" textLength="6.11" lengthAdjust="spacingAndGlyphs">-4</text>
<text id="t33" x="368.21" y="15.80" font-size="17.88" font-weight="bold" stroke="#000" stroke-width="0.3" stroke-linejoin="round"  fill="#000" textLength="12.15" lengthAdjust="spacingAndGlyphs">C</text>
<text id="t34" x="428.41" y="15.60" font-size="16.13" font-weight="bold" stroke="#000" stroke-width="0.3" stroke-linejoin="round" font-style="italic" fill="#000" textLength="51.65" lengthAdjust="spacingAndGlyphs">Spleen</text>
<text id="t35" x="438.13" y="165.50" font-size="15.26" font-weight="bold" stroke="#000" stroke-width="0.3" stroke-linejoin="round" font-style="italic" fill="#000" textLength="36.77" lengthAdjust="spacingAndGlyphs">Liver</text>
<rect x="396.80" y="21.90" width="47.00" height="50.50" fill="#fff" stroke="#000" stroke-width="1.6"/>
<rect x="396.80" y="88.90" width="47.00" height="50.80" fill="#fff" stroke="#000" stroke-width="1.6"/>
<rect x="396.80" y="170.90" width="47.00" height="50.60" fill="#fff" stroke="#000" stroke-width="1.6"/>
<rect x="469.40" y="21.90" width="46.80" height="50.50" fill="#fff" stroke="#000" stroke-width="1.6"/>
<rect x="469.40" y="88.90" width="46.80" height="50.80" fill="#fff" stroke="#000" stroke-width="1.6"/>
<rect x="469.40" y="170.90" width="46.80" height="50.60" fill="#fff" stroke="#000" stroke-width="1.6"/>
<text id="t36" transform="translate(392.00,73.20) rotate(-90)" x="-0.28" y="0" font-size="10.14" font-weight="bold" stroke="#000" stroke-width="0.3" stroke-linejoin="round"  fill="#000" textLength="48.56" lengthAdjust="spacingAndGlyphs">% of Max</text>
<text id="t37" transform="translate(392.00,140.50) rotate(-90)" x="-0.28" y="0" font-size="10.14" font-weight="bold" stroke="#000" stroke-width="0.3" stroke-linejoin="round"  fill="#000" textLength="48.86" lengthAdjust="spacingAndGlyphs">% of Max</text>
<text id="t38" transform="translate(392.00,222.30) rotate(-90)" x="-0.28" y="0" font-size="10.14" font-weight="bold" stroke="#000" stroke-width="0.3" stroke-linejoin="round"  fill="#000" textLength="48.66" lengthAdjust="spacingAndGlyphs">% of Max</text>
<text id="t39" transform="translate(465.40,73.20) rotate(-90)" x="-0.28" y="0" font-size="10.29" font-weight="bold" stroke="#000" stroke-width="0.3" stroke-linejoin="round"  fill="#000" textLength="48.56" lengthAdjust="spacingAndGlyphs">% of Max</text>
<text id="t40" transform="translate(465.40,140.50) rotate(-90)" x="-0.28" y="0" font-size="10.29" font-weight="bold" stroke="#000" stroke-width="0.3" stroke-linejoin="round"  fill="#000" textLength="48.86" lengthAdjust="spacingAndGlyphs">% of Max</text>
<text id="t41" transform="translate(465.40,222.30) rotate(-90)" x="-0.28" y="0" font-size="10.29" font-weight="bold" stroke="#000" stroke-width="0.3" stroke-linejoin="round"  fill="#000" textLength="48.66" lengthAdjust="spacingAndGlyphs">% of Max</text>
<text id="t42" x="405.84" y="85.40" font-size="12.65" font-weight="bold" stroke="#000" stroke-width="0.3" stroke-linejoin="round"  fill="#000" textLength="25.12" lengthAdjust="spacingAndGlyphs">DX5</text>
<text id="t43" x="477.47" y="85.50" font-size="12.65" font-weight="bold" stroke="#000" stroke-width="0.3" stroke-linejoin="round"  fill="#000" textLength="33.01" lengthAdjust="spacingAndGlyphs">CD69</text>
<text id="t44" x="402.46" y="152.80" font-size="12.06" font-weight="bold" stroke="#000" stroke-width="0.3" stroke-linejoin="round"  fill="#000" textLength="33.41" lengthAdjust="spacingAndGlyphs">CD44</text>
<text id="t45" x="475.97" y="152.80" font-size="12.06" font-weight="bold" stroke="#000" stroke-width="0.3" stroke-linejoin="round"  fill="#000" textLength="32.90" lengthAdjust="spacingAndGlyphs">CD24</text>
<text id="t46" x="406.05" y="235.50" font-size="12.50" font-weight="bold" stroke="#000" stroke-width="0.3" stroke-linejoin="round"  fill="#000" textLength="24.81" lengthAdjust="spacingAndGlyphs">DX5</text>
<text id="t47" x="476.68" y="235.50" font-size="12.50" font-weight="bold" stroke="#000" stroke-width="0.3" stroke-linejoin="round"  fill="#000" textLength="32.70" lengthAdjust="spacingAndGlyphs">CD69</text>
<rect x="385.4" y="247.1" width="20.6" height="9.6" fill="#fff" stroke="#909090" stroke-width="1.6"/>
<rect x="385.5" y="261.1" width="20.4" height="9.4" fill="#fff" stroke="#000" stroke-width="1.8"/>
<text id="t48" x="411.93" y="254.80" font-size="12.35"  stroke="#000" stroke-width="0.3" stroke-linejoin="round" font-style="italic" fill="#000" textLength="100.75" lengthAdjust="spacingAndGlyphs">SAP+/+ (BALB/c)</text>
<text id="t49" x="411.93" y="268.80" font-size="11.63"  stroke="#000" stroke-width="0.3" stroke-linejoin="round" font-style="italic" fill="#000" textLength="95.36" lengthAdjust="spacingAndGlyphs">SAP-/- (BALB/c)</text>
<polyline points="396.80,72.60 403.00,70.90 407.50,68.60 410.30,65.20 412.00,60.70 413.70,55.10 414.80,47.20 416.00,40.50 417.10,32.60 417.80,27.00 418.70,32.60 419.90,40.50 421.00,49.50 422.10,57.40 423.50,65.20 424.90,70.30 426.60,72.40 443.50,72.50" fill="none" stroke="#9a9a9a" stroke-width="1.2" stroke-linejoin="round" />
<polyline points="396.80,71.80 399.60,70.30 402.40,69.20 405.20,67.50 407.50,65.20 409.70,63.00 410.90,60.70 411.80,57.40 412.20,54.00 412.60,51.70 412.90,47.20 413.30,45.00 414.00,46.10 414.60,40.50 415.40,38.20 416.00,40.50 416.50,36.00 417.10,31.50 417.60,24.70 418.30,29.20 419.00,34.90 419.60,39.40 420.20,45.00 420.70,49.50 421.30,51.70 422.10,55.10 422.80,59.60 423.50,64.10 424.40,68.60 425.70,71.40 427.70,72.40 443.50,72.50" fill="none" stroke="#000" stroke-width="1.8" stroke-linejoin="round" />
<polyline points="469.60,71.20 472.00,70.50 475.00,70.00 477.00,69.30 480.00,70.20 482.00,69.80 484.00,68.20 486.00,65.00 487.50,63.50 489.00,67.50 491.00,68.50 493.00,66.00 494.50,58.00 495.50,50.00 496.50,42.00 497.50,33.00 498.20,26.50 499.00,30.00 500.00,38.00 501.00,48.00 502.00,57.00 503.00,65.00 504.00,70.00 505.50,72.00 516.20,72.10" fill="none" stroke="#9a9a9a" stroke-width="1.1" stroke-linejoin="round" />
<polyline points="469.60,70.50 471.00,68.80 472.50,68.00 474.00,67.50 475.30,68.30 476.30,65.00 477.00,64.50 477.80,68.50 479.00,70.00 480.50,70.30 482.00,69.00 483.20,70.00 484.00,66.50 485.00,63.00 486.50,59.80 487.50,62.00 488.50,66.50 490.00,68.20 491.50,68.00 493.00,66.00 494.00,62.00 494.80,56.00 495.50,49.00 496.20,44.00 496.80,40.50 497.40,35.00 497.90,27.00 498.30,24.80 498.80,29.00 499.40,35.00 500.10,41.00 500.80,47.00 501.60,54.00 502.40,61.00 503.20,66.50 504.20,70.50 505.50,72.00 516.20,72.10" fill="none" stroke="#000" stroke-width="1.8" stroke-linejoin="round" />
<polyline points="396.80,139.50 418.00,139.20 421.00,138.30 423.50,136.50 425.50,133.50 426.80,126.00 427.80,114.00 428.60,100.00 429.30,92.50 430.00,99.00 431.00,113.00 432.00,127.00 433.00,135.50 434.50,139.00 444.00,139.40" fill="none" stroke="#9a9a9a" stroke-width="1.1" stroke-linejoin="round" />
<polyline points="396.80,139.50 405.00,139.30 408.00,139.40 409.50,138.60 411.00,139.00 413.50,138.60 414.30,137.20 415.20,138.90 417.00,138.50 419.00,137.80 420.20,136.80 421.20,134.50 422.20,131.80 423.20,129.80 424.00,132.50 424.80,134.50 425.60,133.00 426.40,128.50 427.10,120.00 427.70,110.00 428.30,100.00 428.90,92.00 429.30,91.00 429.80,96.00 430.40,106.00 431.00,116.00 431.60,125.00 432.30,132.00 433.00,136.50 434.00,138.80 435.50,139.40 444.00,139.50" fill="none" stroke="#000" stroke-width="1.8" stroke-linejoin="round" />
<path d="M476.8,103 L477.5,92.5 L481,92 L481.5,100 L480,104 Z" fill="#8a8a8a"/>
<polyline points="469.40,139.00 470.50,136.00 472.00,130.50 473.50,124.00 474.80,117.00 476.00,110.00 477.00,102.00 477.60,93.50 478.50,92.00 479.50,93.50 480.50,92.20 481.30,95.00 482.30,104.00 483.50,115.00 484.80,124.00 486.30,131.00 488.50,136.50 491.00,139.00 494.00,139.60 516.20,139.60" fill="none" stroke="#8a8a8a" stroke-width="1.3" stroke-linejoin="round" />
<polyline points="469.40,138.50 470.30,136.80 471.30,133.50 472.30,129.50 473.30,125.00 474.30,120.00 475.20,115.00 476.00,110.50 476.80,106.00 477.50,101.50 478.20,97.00 479.00,95.50 479.80,98.50 480.50,97.50 481.10,92.00 481.50,91.00 482.00,97.00 482.70,106.00 483.40,113.00 484.20,119.00 485.00,124.50 486.00,129.50 487.20,133.00 488.50,135.50 490.00,137.50 492.00,139.00 495.00,139.50 497.50,139.50 498.80,138.40 500.00,139.50 516.20,139.60" fill="none" stroke="#000" stroke-width="1.8" stroke-linejoin="round" />
<polyline points="396.60,220.80 400.00,219.50 404.00,218.20 407.50,216.80 410.00,215.50 411.30,212.50 412.40,207.00 413.40,200.00 414.30,193.00 415.20,186.00 416.30,180.00 417.30,176.00 418.20,174.00 419.00,175.00 419.80,179.00 420.80,190.00 421.90,201.00 423.00,211.00 424.40,218.50 426.50,221.00 444.00,221.20" fill="none" stroke="#9a9a9a" stroke-width="1.1" stroke-linejoin="round" />
<polyline points="396.50,218.00 397.00,220.00 398.50,219.30 400.00,219.00 401.50,218.50 403.00,218.00 404.50,217.00 406.00,216.60 407.50,216.00 409.00,215.30 410.20,214.20 411.10,211.50 411.90,208.00 412.60,204.00 413.30,199.00 414.00,193.50 414.60,189.00 415.10,184.50 415.70,180.50 416.30,177.50 417.00,175.00 417.70,173.60 418.20,173.20 418.80,174.50 419.40,176.50 420.00,179.50 420.60,185.00 421.30,194.00 422.00,201.00 422.80,208.00 423.60,214.00 424.50,218.50 425.50,220.50 427.00,221.20 444.00,221.30" fill="none" stroke="#000" stroke-width="1.8" stroke-linejoin="round" />
<polyline points="469.50,215.50 469.80,220.50 470.50,218.50" fill="none" stroke="#999" stroke-width="1.2" stroke-linejoin="round" />
<polyline points="469.60,220.80 480.00,220.50 488.00,220.40 490.50,220.00 492.10,218.50 493.30,214.50 494.40,208.20 495.30,201.50 496.10,194.50 496.80,188.00 497.40,182.50 498.00,178.00 498.50,174.00 498.90,172.80 499.40,175.50 500.00,183.00 500.60,190.00 501.20,197.00 501.80,204.00 502.40,210.50 503.10,216.00 504.00,219.80 505.30,221.20 516.20,221.30" fill="none" stroke="#000" stroke-width="1.8" stroke-linejoin="round" />
<text id="t50" x="7.90" y="304.50" font-size="18.17" font-weight="bold" stroke="#000" stroke-width="0.3" stroke-linejoin="round"  fill="#000" textLength="12.95" lengthAdjust="spacingAndGlyphs">D</text>
<line x1="42.1" y1="319.3" x2="42.1" y2="427.3" stroke="#000" stroke-width="1.9" stroke-linecap="butt"/>
<line x1="39.1" y1="320.3" x2="42.1" y2="320.3" stroke="#000" stroke-width="1.7" stroke-linecap="butt"/>
<text id="t51" x="19.42" y="323.10" font-size="12.43" font-weight="bold" stroke="#000" stroke-width="0.3" stroke-linejoin="round"  fill="#000" letter-spacing="-0.733">10</text>
<text id="t52" x="32.87" y="320.10" font-size="7.06" font-weight="bold" stroke="#000" stroke-width="0.3" stroke-linejoin="round"  fill="#000" textLength="5.06" lengthAdjust="spacingAndGlyphs">6</text>
<line x1="39.1" y1="355.6" x2="42.1" y2="355.6" stroke="#000" stroke-width="1.7" stroke-linecap="butt"/>
<text id="t53" x="19.42" y="358.45" font-size="12.43" font-weight="bold" stroke="#000" stroke-width="0.3" stroke-linejoin="round"  fill="#000" letter-spacing="-0.733">10</text>
<text id="t54" x="32.93" y="355.45" font-size="7.06" font-weight="bold" stroke="#000" stroke-width="0.3" stroke-linejoin="round"  fill="#000" textLength="4.92" lengthAdjust="spacingAndGlyphs">5</text>
<line x1="39.1" y1="390.7" x2="42.1" y2="390.7" stroke="#000" stroke-width="1.7" stroke-linecap="butt"/>
<text id="t55" x="19.42" y="394.05" font-size="12.43" font-weight="bold" stroke="#000" stroke-width="0.3" stroke-linejoin="round"  fill="#000" letter-spacing="-0.733">10</text>
<text id="t56" x="33.08" y="391.05" font-size="7.06" font-weight="bold" stroke="#000" stroke-width="0.3" stroke-linejoin="round"  fill="#000" textLength="4.57" lengthAdjust="spacingAndGlyphs">4</text>
<line x1="39.1" y1="425.9" x2="42.1" y2="425.9" stroke="#000" stroke-width="1.7" stroke-linecap="butt"/>
<text id="t57" x="19.42" y="428.90" font-size="12.43" font-weight="bold" stroke="#000" stroke-width="0.3" stroke-linejoin="round"  fill="#000" letter-spacing="-0.733">10</text>
<text id="t58" x="33.00" y="425.90" font-size="7.06" font-weight="bold" stroke="#000" stroke-width="0.3" stroke-linejoin="round"  fill="#000" textLength="4.92" lengthAdjust="spacingAndGlyphs">3</text>
<line x1="41.2" y1="426.6" x2="170.6" y2="426.6" stroke="#000" stroke-width="1.9" stroke-linecap="butt"/>
<line x1="54.8" y1="408.5" x2="54.8" y2="406.3" stroke="#000" stroke-width="1.7" stroke-linecap="butt"/>
<line x1="51.55" y1="406.95000000000005" x2="58.05" y2="406.95000000000005" stroke="#000" stroke-width="1.7" stroke-linecap="butt"/>
<rect x="48.90" y="409.40" width="11.80" height="17.20" fill="#dcdcdc" stroke="#000" stroke-width="1.8"/>
<line x1="70.95" y1="409.9" x2="70.95" y2="407.7" stroke="#000" stroke-width="1.7" stroke-linecap="butt"/>
<line x1="67.7" y1="408.35" x2="74.2" y2="408.35" stroke="#000" stroke-width="1.7" stroke-linecap="butt"/>
<rect x="64.90" y="410.80" width="12.10" height="15.80" fill="#000" stroke="#000" stroke-width="1.8"/>
<line x1="95.35" y1="407.7" x2="95.35" y2="405.8" stroke="#000" stroke-width="1.7" stroke-linecap="butt"/>
<line x1="92.1" y1="406.45000000000005" x2="98.6" y2="406.45000000000005" stroke="#000" stroke-width="1.7" stroke-linecap="butt"/>
<rect x="89.30" y="408.60" width="12.10" height="18.00" fill="#dcdcdc" stroke="#000" stroke-width="1.8"/>
<line x1="111.8" y1="393.0" x2="111.8" y2="390.3" stroke="#000" stroke-width="1.7" stroke-linecap="butt"/>
<line x1="108.55" y1="390.95000000000005" x2="115.05" y2="390.95000000000005" stroke="#000" stroke-width="1.7" stroke-linecap="butt"/>
<rect x="105.90" y="393.90" width="11.80" height="32.70" fill="#000" stroke="#000" stroke-width="1.8"/>
<rect x="130.50" y="380.80" width="11.60" height="45.80" fill="#dcdcdc" stroke="#000" stroke-width="1.8"/>
<line x1="152.55" y1="350.6" x2="152.55" y2="349.8" stroke="#000" stroke-width="1.7" stroke-linecap="butt"/>
<line x1="149.3" y1="350.45000000000005" x2="155.8" y2="350.45000000000005" stroke="#000" stroke-width="1.7" stroke-linecap="butt"/>
<rect x="146.50" y="351.50" width="12.10" height="75.10" fill="#000" stroke="#000" stroke-width="1.8"/>
<text id="t59" x="81.74" y="373.90" font-size="10.45" font-weight="bold" stroke="#000" stroke-width="0.3" stroke-linejoin="round" font-style="italic" fill="#000" textLength="40.91" lengthAdjust="spacingAndGlyphs">p=0.009</text>
<path d="M94.9,385.0 L94.9,380.7 L109.9,380.7 L109.9,385.0" fill="none" stroke="#000" stroke-width="2.0"/>
<text id="t60" x="122.44" y="334.40" font-size="9.75" font-weight="bold" stroke="#000" stroke-width="0.3" stroke-linejoin="round" font-style="italic" fill="#000" textLength="41.08" lengthAdjust="spacingAndGlyphs">p=0.003</text>
<path d="M136.9,345.7 L136.9,340.7 L153.1,340.7 L153.1,345.7" fill="none" stroke="#000" stroke-width="2.0"/>
<text id="t61" x="50.58" y="441.80" font-size="10.90" font-weight="bold" stroke="#000" stroke-width="0.3" stroke-linejoin="round" font-style="italic" fill="#000" textLength="15.95" lengthAdjust="spacingAndGlyphs">B6</text>
<text id="t62" x="77.68" y="441.80" font-size="10.90" font-weight="bold" stroke="#000" stroke-width="0.3" stroke-linejoin="round" font-style="italic" fill="#000" textLength="45.71" lengthAdjust="spacingAndGlyphs">BALB/c</text>
<text id="t63" x="129.25" y="441.00" font-size="12.79" font-weight="bold" stroke="#000" stroke-width="0.3" stroke-linejoin="round" font-style="italic" fill="#000" textLength="43.82" lengthAdjust="spacingAndGlyphs">SAP+/+</text>
<text id="t64" x="126.18" y="452.80" font-size="12.10"  stroke="#000" stroke-width="0.3" stroke-linejoin="round" font-style="italic" fill="#000" textLength="52.70" lengthAdjust="spacingAndGlyphs">(BALB/c)</text>
<line x1="44.0" y1="446.3" x2="121.2" y2="446.3" stroke="#000" stroke-width="1.6" stroke-linecap="butt"/>
<text id="t65" x="64.51" y="461.10" font-size="15.26" font-weight="bold" stroke="#000" stroke-width="0.3" stroke-linejoin="round" font-style="italic" fill="#000" textLength="46.94" lengthAdjust="spacingAndGlyphs">SAP-/-</text>
<text id="t66" transform="translate(12.20,421.80) rotate(-90)" x="-0.31" y="0" font-size="13.30" font-weight="bold" stroke="#000" stroke-width="0.3" stroke-linejoin="round"  fill="#000" textLength="95.89" lengthAdjust="spacingAndGlyphs">Anti-NP IgG titer</text>
<rect x="34.60" y="478.80" width="14.30" height="15.80" fill="#dcdcdc" stroke="#000" stroke-width="1.6"/>
<text id="t67" x="55.77" y="489.70" font-size="13.08"  stroke="#000" stroke-width="0.3" stroke-linejoin="round"  fill="#000" textLength="16.28" lengthAdjust="spacingAndGlyphs">Ag</text>
<rect x="82.00" y="478.00" width="16.50" height="17.40" fill="#000" stroke="none" stroke-width="0"/>
<text id="t68" x="104.48" y="489.70" font-size="13.08"  stroke="#000" stroke-width="0.3" stroke-linejoin="round"  fill="#000" textLength="69.93" lengthAdjust="spacingAndGlyphs">Ag+αGalCer</text>
<text id="t69" x="191.92" y="304.50" font-size="18.46" font-weight="bold" stroke="#000" stroke-width="0.3" stroke-linejoin="round"  fill="#000" textLength="11.77" lengthAdjust="spacingAndGlyphs">E</text>
<line x1="216.4" y1="319.7" x2="216.4" y2="427.5" stroke="#000" stroke-width="1.9" stroke-linecap="butt"/>
<line x1="213.8" y1="320.7" x2="216.4" y2="320.7" stroke="#000" stroke-width="1.7" stroke-linecap="butt"/>
<text id="t70" x="193.41" y="324.20" font-size="12.57" font-weight="bold" stroke="#000" stroke-width="0.3" stroke-linejoin="round"  fill="#000" letter-spacing="-0.575">10</text>
<text id="t71" x="207.54" y="321.50" font-size="7.20" font-weight="bold" stroke="#000" stroke-width="0.3" stroke-linejoin="round"  fill="#000" textLength="4.62" lengthAdjust="spacingAndGlyphs">7</text>
<line x1="213.8" y1="356.2" x2="216.4" y2="356.2" stroke="#000" stroke-width="1.7" stroke-linecap="butt"/>
<text id="t72" x="193.41" y="360.50" font-size="12.57" font-weight="bold" stroke="#000" stroke-width="0.3" stroke-linejoin="round"  fill="#000" letter-spacing="-0.575">10</text>
<text id="t73" x="207.60" y="357.80" font-size="7.20" font-weight="bold" stroke="#000" stroke-width="0.3" stroke-linejoin="round"  fill="#000" textLength="4.49" lengthAdjust="spacingAndGlyphs">6</text>
<line x1="213.8" y1="391.7" x2="216.4" y2="391.7" stroke="#000" stroke-width="1.7" stroke-linecap="butt"/>
<text id="t74" x="193.41" y="395.50" font-size="12.57" font-weight="bold" stroke="#000" stroke-width="0.3" stroke-linejoin="round"  fill="#000" letter-spacing="-0.575">10</text>
<text id="t75" x="207.66" y="392.80" font-size="7.20" font-weight="bold" stroke="#000" stroke-width="0.3" stroke-linejoin="round"  fill="#000" textLength="4.36" lengthAdjust="spacingAndGlyphs">5</text>
<line x1="213.8" y1="427.1" x2="216.4" y2="427.1" stroke="#000" stroke-width="1.7" stroke-linecap="butt"/>
<text id="t76" x="193.41" y="431.05" font-size="12.57" font-weight="bold" stroke="#000" stroke-width="0.3" stroke-linejoin="round"  fill="#000" letter-spacing="-0.575">10</text>
<text id="t77" x="207.79" y="428.35" font-size="7.20" font-weight="bold" stroke="#000" stroke-width="0.3" stroke-linejoin="round"  fill="#000" textLength="4.05" lengthAdjust="spacingAndGlyphs">4</text>
<line x1="215.5" y1="426.7" x2="345.6" y2="426.7" stroke="#000" stroke-width="1.9" stroke-linecap="butt"/>
<line x1="229.4" y1="417.2" x2="229.4" y2="414.0" stroke="#000" stroke-width="1.7" stroke-linecap="butt"/>
<line x1="226.15" y1="414.65000000000003" x2="232.65" y2="414.65000000000003" stroke="#000" stroke-width="1.7" stroke-linecap="butt"/>
<rect x="223.90" y="418.10" width="11.00" height="8.60" fill="#dcdcdc" stroke="#000" stroke-width="1.8"/>
<line x1="245.25" y1="420.2" x2="245.25" y2="419.6" stroke="#000" stroke-width="1.7" stroke-linecap="butt"/>
<line x1="242.0" y1="420.25000000000006" x2="248.5" y2="420.25000000000006" stroke="#000" stroke-width="1.7" stroke-linecap="butt"/>
<rect x="239.40" y="421.10" width="11.70" height="5.60" fill="#000" stroke="#000" stroke-width="1.8"/>
<line x1="270.1" y1="402.5" x2="270.1" y2="401.8" stroke="#000" stroke-width="1.7" stroke-linecap="butt"/>
<line x1="266.85" y1="402.45000000000005" x2="273.35" y2="402.45000000000005" stroke="#000" stroke-width="1.7" stroke-linecap="butt"/>
<rect x="264.60" y="403.40" width="11.00" height="23.30" fill="#dcdcdc" stroke="#000" stroke-width="1.8"/>
<line x1="285.95" y1="402.3" x2="285.95" y2="401.4" stroke="#000" stroke-width="1.7" stroke-linecap="butt"/>
<line x1="282.7" y1="402.05" x2="289.2" y2="402.05" stroke="#000" stroke-width="1.7" stroke-linecap="butt"/>
<rect x="280.10" y="403.20" width="11.70" height="23.50" fill="#000" stroke="#000" stroke-width="1.8"/>
<line x1="311.04999999999995" y1="391.7" x2="311.04999999999995" y2="389.5" stroke="#000" stroke-width="1.7" stroke-linecap="butt"/>
<line x1="307.79999999999995" y1="390.15000000000003" x2="314.29999999999995" y2="390.15000000000003" stroke="#000" stroke-width="1.7" stroke-linecap="butt"/>
<rect x="305.30" y="392.60" width="11.50" height="34.10" fill="#dcdcdc" stroke="#000" stroke-width="1.8"/>
<line x1="327.7" y1="341.9" x2="327.7" y2="339.3" stroke="#000" stroke-width="1.7" stroke-linecap="butt"/>
<line x1="324.45" y1="339.95000000000005" x2="330.95" y2="339.95000000000005" stroke="#000" stroke-width="1.7" stroke-linecap="butt"/>
<rect x="321.90" y="342.80" width="11.60" height="83.90" fill="#000" stroke="#000" stroke-width="1.8"/>
<text id="t78" x="297.55" y="321.70" font-size="9.18" font-weight="bold" stroke="#000" stroke-width="0.3" stroke-linejoin="round" font-style="italic" fill="#000" textLength="41.88" lengthAdjust="spacingAndGlyphs">p=0.003</text>
<path d="M310.6,333.5 L310.6,328.7 L326.8,328.7 L326.8,333.5" fill="none" stroke="#000" stroke-width="2.0"/>
<text id="t79" transform="translate(188.60,397.60) rotate(-90)" x="-0.51" y="0" font-size="13.52" font-weight="bold" stroke="#000" stroke-width="0.3" stroke-linejoin="round"  fill="#000" textLength="62.12" lengthAdjust="spacingAndGlyphs">GC B cells</text>
<text id="t80" x="227.19" y="441.80" font-size="10.90" font-weight="bold" stroke="#000" stroke-width="0.3" stroke-linejoin="round" font-style="italic" fill="#000" textLength="15.35" lengthAdjust="spacingAndGlyphs">B6</text>
<text id="t81" x="254.98" y="441.80" font-size="10.90" font-weight="bold" stroke="#000" stroke-width="0.3" stroke-linejoin="round" font-style="italic" fill="#000" textLength="44.80" lengthAdjust="spacingAndGlyphs">BALB/c</text>
<text id="t82" x="305.95" y="440.80" font-size="11.92" font-weight="bold" stroke="#000" stroke-width="0.3" stroke-linejoin="round" font-style="italic" fill="#000" textLength="43.62" lengthAdjust="spacingAndGlyphs">SAP+/+</text>
<text id="t83" x="303.38" y="453.30" font-size="12.10"  stroke="#000" stroke-width="0.3" stroke-linejoin="round" font-style="italic" fill="#000" textLength="52.50" lengthAdjust="spacingAndGlyphs">(BALB/c)</text>
<line x1="220.4" y1="446.1" x2="298.0" y2="446.1" stroke="#000" stroke-width="1.6" stroke-linecap="butt"/>
<text id="t84" x="241.21" y="461.10" font-size="14.97" font-weight="bold" stroke="#000" stroke-width="0.3" stroke-linejoin="round" font-style="italic" fill="#000" textLength="47.04" lengthAdjust="spacingAndGlyphs">SAP-/-</text>
<text id="t85" x="364.70" y="304.60" font-size="18.60" font-weight="bold" stroke="#000" stroke-width="0.3" stroke-linejoin="round"  fill="#000" textLength="10.96" lengthAdjust="spacingAndGlyphs">F</text>
<line x1="389.0" y1="310.5" x2="389.0" y2="429.3" stroke="#000" stroke-width="1.9" stroke-linecap="butt"/>
<line x1="386.0" y1="311.4" x2="389.0" y2="311.4" stroke="#000" stroke-width="1.7" stroke-linecap="butt"/>
<line x1="386.0" y1="350.4" x2="389.0" y2="350.4" stroke="#000" stroke-width="1.7" stroke-linecap="butt"/>
<line x1="386.0" y1="389.4" x2="389.0" y2="389.4" stroke="#000" stroke-width="1.7" stroke-linecap="butt"/>
<line x1="386.0" y1="428.4" x2="389.0" y2="428.4" stroke="#000" stroke-width="1.7" stroke-linecap="butt"/>
<text id="t86" x="376.41" y="316.22" font-size="12.20" font-weight="bold" stroke="#000" stroke-width="0.3" stroke-linejoin="round"  fill="#000" textLength="7.05" lengthAdjust="spacingAndGlyphs">3</text>
<text id="t87" x="375.92" y="355.22" font-size="12.20" font-weight="bold" stroke="#000" stroke-width="0.3" stroke-linejoin="round"  fill="#000" textLength="7.62" lengthAdjust="spacingAndGlyphs">2</text>
<text id="t88" x="376.65" y="394.22" font-size="12.20" font-weight="bold" stroke="#000" stroke-width="0.3" stroke-linejoin="round"  fill="#000" textLength="5.74" lengthAdjust="spacingAndGlyphs">1</text>
<text id="t89" x="376.29" y="433.22" font-size="12.20" font-weight="bold" stroke="#000" stroke-width="0.3" stroke-linejoin="round"  fill="#000" textLength="7.13" lengthAdjust="spacingAndGlyphs">0</text>
<line x1="386.0" y1="428.4" x2="506.8" y2="428.4" stroke="#000" stroke-width="1.8" stroke-linecap="butt"/>
<line x1="412.6" y1="428.4" x2="412.6" y2="431.5" stroke="#000" stroke-width="1.5" stroke-linecap="butt"/>
<text id="t90" x="403.30" y="441.80" font-size="12.71" font-weight="bold" stroke="#000" stroke-width="0.3" stroke-linejoin="round"  fill="#000" letter-spacing="-0.617">10</text>
<text id="t91" x="416.50" y="439.20" font-size="6.92" font-weight="bold" stroke="#000" stroke-width="0.3" stroke-linejoin="round"  fill="#000" textLength="4.85" lengthAdjust="spacingAndGlyphs">2</text>
<line x1="436.1" y1="428.4" x2="436.1" y2="431.5" stroke="#000" stroke-width="1.5" stroke-linecap="butt"/>
<text id="t92" x="426.80" y="441.80" font-size="12.71" font-weight="bold" stroke="#000" stroke-width="0.3" stroke-linejoin="round"  fill="#000" letter-spacing="-0.617">10</text>
<text id="t93" x="440.11" y="439.20" font-size="6.92" font-weight="bold" stroke="#000" stroke-width="0.3" stroke-linejoin="round"  fill="#000" textLength="4.70" lengthAdjust="spacingAndGlyphs">3</text>
<line x1="459.7" y1="428.4" x2="459.7" y2="431.5" stroke="#000" stroke-width="1.5" stroke-linecap="butt"/>
<text id="t94" x="450.40" y="441.80" font-size="12.71" font-weight="bold" stroke="#000" stroke-width="0.3" stroke-linejoin="round"  fill="#000" letter-spacing="-0.617">10</text>
<text id="t95" x="463.78" y="439.20" font-size="6.92" font-weight="bold" stroke="#000" stroke-width="0.3" stroke-linejoin="round"  fill="#000" textLength="4.36" lengthAdjust="spacingAndGlyphs">4</text>
<line x1="483.1" y1="428.4" x2="483.1" y2="431.5" stroke="#000" stroke-width="1.5" stroke-linecap="butt"/>
<text id="t96" x="473.80" y="441.80" font-size="12.71" font-weight="bold" stroke="#000" stroke-width="0.3" stroke-linejoin="round"  fill="#000" letter-spacing="-0.617">10</text>
<text id="t97" x="487.04" y="439.20" font-size="6.92" font-weight="bold" stroke="#000" stroke-width="0.3" stroke-linejoin="round"  fill="#000" textLength="4.69" lengthAdjust="spacingAndGlyphs">5</text>
<line x1="506.6" y1="428.4" x2="506.6" y2="431.5" stroke="#000" stroke-width="1.5" stroke-linecap="butt"/>
<text id="t98" x="497.30" y="441.80" font-size="12.71" font-weight="bold" stroke="#000" stroke-width="0.3" stroke-linejoin="round"  fill="#000" letter-spacing="-0.617">10</text>
<text id="t99" x="510.48" y="439.20" font-size="6.92" font-weight="bold" stroke="#000" stroke-width="0.3" stroke-linejoin="round"  fill="#000" textLength="4.83" lengthAdjust="spacingAndGlyphs">6</text>
<text id="t100" x="400.43" y="456.50" font-size="13.23" font-weight="bold" stroke="#000" stroke-width="0.3" stroke-linejoin="round"  fill="#000" textLength="97.70" lengthAdjust="spacingAndGlyphs">Serum dilutions</text>
<text id="t101" transform="translate(369.60,398.60) rotate(-90)" x="-0.52" y="0" font-size="12.06" font-weight="bold" stroke="#000" stroke-width="0.3" stroke-linejoin="round"  fill="#000" textLength="70.21" lengthAdjust="spacingAndGlyphs">O.D. 450nm</text>
<line x1="412.5" y1="379.7" x2="412.5" y2="346.7" stroke="#000" stroke-width="1.6" stroke-linecap="butt"/>
<line x1="410.4" y1="379.7" x2="414.6" y2="379.7" stroke="#000" stroke-width="1.6" stroke-linecap="butt"/>
<line x1="410.4" y1="346.7" x2="414.6" y2="346.7" stroke="#000" stroke-width="1.6" stroke-linecap="butt"/>
<line x1="429.0" y1="404.2" x2="429.0" y2="383.3" stroke="#000" stroke-width="1.6" stroke-linecap="butt"/>
<line x1="426.9" y1="404.2" x2="431.1" y2="404.2" stroke="#000" stroke-width="1.6" stroke-linecap="butt"/>
<line x1="426.9" y1="383.3" x2="431.1" y2="383.3" stroke="#000" stroke-width="1.6" stroke-linecap="butt"/>
<polyline points="412.50,363.27 429.00,393.69 445.60,415.14 462.20,420.99 478.80,424.89 494.80,425.28" fill="none" stroke="#000" stroke-width="1.8" stroke-linejoin="round" />
<polyline points="412.50,328.56 429.00,351.57 445.60,394.47 462.20,416.70 478.80,420.99 494.80,424.11" fill="none" stroke="#000" stroke-width="1.8" stroke-linejoin="round" />
<circle cx="412.5" cy="363.27" r="3.0" fill="#fff" stroke="#000" stroke-width="1.8"/>
<circle cx="429.0" cy="393.69" r="3.0" fill="#fff" stroke="#000" stroke-width="1.8"/>
<circle cx="445.6" cy="415.14" r="3.0" fill="#fff" stroke="#000" stroke-width="1.8"/>
<circle cx="462.2" cy="420.98999999999995" r="3.0" fill="#fff" stroke="#000" stroke-width="1.8"/>
<circle cx="478.8" cy="424.89" r="3.0" fill="#fff" stroke="#000" stroke-width="1.8"/>
<circle cx="494.8" cy="425.28" r="3.0" fill="#fff" stroke="#000" stroke-width="1.8"/>
<polygon points="412.5,324.65999999999997 416.4,328.55999999999995 412.5,332.4599999999999 408.6,328.55999999999995" fill="#000" stroke="#000" stroke-width="0.6" stroke-linejoin="round"/>
<polygon points="429.0,347.67 432.9,351.57 429.0,355.46999999999997 425.1,351.57" fill="#000" stroke="#000" stroke-width="0.6" stroke-linejoin="round"/>
<polygon points="445.6,390.57 449.5,394.46999999999997 445.6,398.36999999999995 441.70000000000005,394.46999999999997" fill="#000" stroke="#000" stroke-width="0.6" stroke-linejoin="round"/>
<polygon points="462.2,412.8 466.09999999999997,416.7 462.2,420.59999999999997 458.3,416.7" fill="#000" stroke="#000" stroke-width="0.6" stroke-linejoin="round"/>
<polygon points="478.8,417.09 482.7,420.98999999999995 478.8,424.88999999999993 474.90000000000003,420.98999999999995" fill="#000" stroke="#000" stroke-width="0.6" stroke-linejoin="round"/>
<polygon points="494.8,420.21 498.7,424.10999999999996 494.8,428.00999999999993 490.90000000000003,424.10999999999996" fill="#000" stroke="#000" stroke-width="0.6" stroke-linejoin="round"/>
<polyline points="412.50,405.39 429.00,417.09 445.60,424.11 462.20,424.89 478.80,425.67 494.80,426.25" fill="none" stroke="#8a8a8a" stroke-width="1.8" stroke-linejoin="round" />
<line x1="410.17" y1="403.06" x2="414.83" y2="407.72" stroke="#8a8a8a" stroke-width="1.7"/><line x1="414.83" y1="403.06" x2="410.17" y2="407.72" stroke="#8a8a8a" stroke-width="1.7"/><line x1="412.50" y1="402.09" x2="412.50" y2="408.69" stroke="#8a8a8a" stroke-width="1.7"/>
<line x1="426.67" y1="414.76" x2="431.33" y2="419.42" stroke="#8a8a8a" stroke-width="1.7"/><line x1="431.33" y1="414.76" x2="426.67" y2="419.42" stroke="#8a8a8a" stroke-width="1.7"/><line x1="429.00" y1="413.79" x2="429.00" y2="420.39" stroke="#8a8a8a" stroke-width="1.7"/>
<line x1="443.27" y1="421.78" x2="447.93" y2="426.44" stroke="#8a8a8a" stroke-width="1.7"/><line x1="447.93" y1="421.78" x2="443.27" y2="426.44" stroke="#8a8a8a" stroke-width="1.7"/><line x1="445.60" y1="420.81" x2="445.60" y2="427.41" stroke="#8a8a8a" stroke-width="1.7"/>
<line x1="459.58" y1="422.27" x2="464.82" y2="427.51" stroke="#8a8a8a" stroke-width="2.0"/><line x1="464.82" y1="422.27" x2="459.58" y2="427.51" stroke="#8a8a8a" stroke-width="2.0"/><line x1="462.20" y1="421.19" x2="462.20" y2="428.59" stroke="#8a8a8a" stroke-width="2.0"/>
<line x1="476.18" y1="423.05" x2="481.42" y2="428.29" stroke="#8a8a8a" stroke-width="2.0"/><line x1="481.42" y1="423.05" x2="476.18" y2="428.29" stroke="#8a8a8a" stroke-width="2.0"/><line x1="478.80" y1="421.97" x2="478.80" y2="429.37" stroke="#8a8a8a" stroke-width="2.0"/>
<line x1="492.18" y1="423.64" x2="497.42" y2="428.87" stroke="#8a8a8a" stroke-width="2.0"/><line x1="497.42" y1="423.64" x2="492.18" y2="428.87" stroke="#8a8a8a" stroke-width="2.0"/><line x1="494.80" y1="422.56" x2="494.80" y2="429.95" stroke="#8a8a8a" stroke-width="2.0"/>
<line x1="387.3" y1="473.9" x2="411.9" y2="473.9" stroke="#000" stroke-width="1.8" stroke-linecap="butt"/>
<polygon points="400.2,467.0 407.0,474.0 400.2,481.0 393.4,474.0" fill="#000" stroke="#000" stroke-width="0.6" stroke-linejoin="round"/>
<text id="t102" x="416.97" y="477.00" font-size="12.35"  stroke="#000" stroke-width="0.3" stroke-linejoin="round"  fill="#000" textLength="71.34" lengthAdjust="spacingAndGlyphs">Ag+αGalCer</text>
<line x1="388.2" y1="490.5" x2="412.4" y2="490.5" stroke="#000" stroke-width="1.8" stroke-linecap="butt"/>
<circle cx="400.8" cy="490.5" r="5.2" fill="#fff" stroke="#000" stroke-width="1.9"/>
<text id="t103" x="416.97" y="493.90" font-size="12.79"  stroke="#000" stroke-width="0.3" stroke-linejoin="round"  fill="#000" textLength="15.86" lengthAdjust="spacingAndGlyphs">Ag</text>
<line x1="387.5" y1="506.8" x2="412.5" y2="506.8" stroke="#8a8a8a" stroke-width="2.0" stroke-linecap="butt"/>
<line x1="395.55" y1="501.85" x2="405.45" y2="511.75" stroke="#8a8a8a" stroke-width="2.0"/><line x1="405.45" y1="501.85" x2="395.55" y2="511.75" stroke="#8a8a8a" stroke-width="2.0"/><line x1="400.50" y1="499.80" x2="400.50" y2="513.80" stroke="#8a8a8a" stroke-width="2.0"/>
<text id="t104" x="416.24" y="509.70" font-size="12.50"  stroke="#000" stroke-width="0.3" stroke-linejoin="round"  fill="#000" textLength="52.62" lengthAdjust="spacingAndGlyphs">Non-imm</text>
<text id="t105" x="470.58" y="509.70" font-size="12.50"  stroke="#000" stroke-width="0.3" stroke-linejoin="round"  fill="#000" textLength="4.40" lengthAdjust="spacingAndGlyphs">(</text>
<text id="t106" x="475.99" y="509.70" font-size="12.50"  stroke="#000" stroke-width="0.3" stroke-linejoin="round" font-style="italic" fill="#000" textLength="12.29" lengthAdjust="spacingAndGlyphs">wt</text>
<text id="t107" x="489.84" y="509.70" font-size="12.50"  stroke="#000" stroke-width="0.3" stroke-linejoin="round"  fill="#000" textLength="3.52" lengthAdjust="spacingAndGlyphs">)</text>
</svg></body></html>
